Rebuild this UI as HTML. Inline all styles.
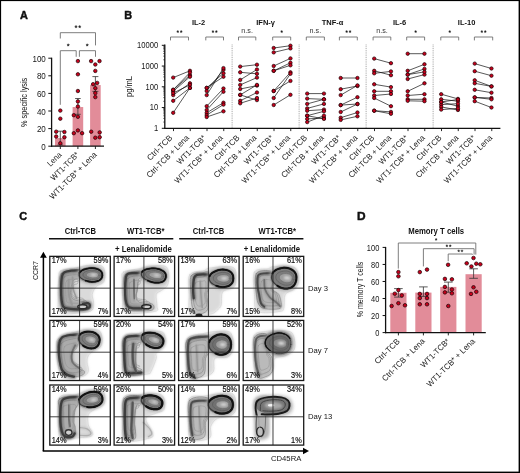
<!DOCTYPE html>
<html><head><meta charset="utf-8"><style>
html,body{margin:0;padding:0;background:#fff;}
body{width:520px;height:473px;overflow:hidden;position:relative;}
svg{position:absolute;left:0;top:0;display:block;font-family:"Liberation Sans", sans-serif;will-change:transform;}
</style></head><body>
<svg width="520" height="473" viewBox="0 0 520 473">
<defs>
<filter id="b1" x="-30%" y="-30%" width="160%" height="160%"><feGaussianBlur stdDeviation="0.6"/></filter>
<filter id="b2" x="-30%" y="-30%" width="160%" height="160%"><feGaussianBlur stdDeviation="1.6"/></filter>
<filter id="zb0" x="-30%" y="-30%" width="160%" height="160%"><feGaussianBlur stdDeviation="3.0"/></filter>
<filter id="zb1" x="-30%" y="-30%" width="160%" height="160%"><feGaussianBlur stdDeviation="6.5"/></filter>
<filter id="zb2" x="-30%" y="-30%" width="160%" height="160%"><feGaussianBlur stdDeviation="12"/></filter>
<filter id="b3" x="-30%" y="-30%" width="160%" height="160%"><feGaussianBlur stdDeviation="1.0"/></filter>
</defs>
<rect x="0" y="0" width="520" height="473" fill="#fff"/>
<text x="20.00" y="19.10" font-size="10.9" text-anchor="start" font-weight="bold" fill="#111" stroke="#111" stroke-width="0.45">A</text>
<rect x="55.00" y="138.02" width="10.6" height="8.18" fill="#e28c99"/>
<rect x="72.60" y="107.04" width="10.6" height="39.16" fill="#e28c99"/>
<rect x="90.10" y="85.04" width="10.6" height="61.16" fill="#e28c99"/>
<line x1="51.60" y1="57.70" x2="51.60" y2="146.80" stroke="#111" stroke-width="1.3" />
<line x1="51.00" y1="146.20" x2="104.00" y2="146.20" stroke="#111" stroke-width="1.3" />
<line x1="48.30" y1="146.20" x2="51.60" y2="146.20" stroke="#111" stroke-width="1.0" />
<text x="45.80" y="149.75" font-size="8.3" text-anchor="end" font-weight="normal" fill="#151515" textLength="4.45" lengthAdjust="spacingAndGlyphs" >0</text>
<line x1="48.30" y1="128.60" x2="51.60" y2="128.60" stroke="#111" stroke-width="1.0" />
<text x="45.80" y="132.15" font-size="8.3" text-anchor="end" font-weight="normal" fill="#151515" textLength="8.9" lengthAdjust="spacingAndGlyphs" >20</text>
<line x1="48.30" y1="111.00" x2="51.60" y2="111.00" stroke="#111" stroke-width="1.0" />
<text x="45.80" y="114.55" font-size="8.3" text-anchor="end" font-weight="normal" fill="#151515" textLength="8.9" lengthAdjust="spacingAndGlyphs" >40</text>
<line x1="48.30" y1="93.40" x2="51.60" y2="93.40" stroke="#111" stroke-width="1.0" />
<text x="45.80" y="96.95" font-size="8.3" text-anchor="end" font-weight="normal" fill="#151515" textLength="8.9" lengthAdjust="spacingAndGlyphs" >60</text>
<line x1="48.30" y1="75.80" x2="51.60" y2="75.80" stroke="#111" stroke-width="1.0" />
<text x="45.80" y="79.35" font-size="8.3" text-anchor="end" font-weight="normal" fill="#151515" textLength="8.9" lengthAdjust="spacingAndGlyphs" >80</text>
<line x1="48.30" y1="58.20" x2="51.60" y2="58.20" stroke="#111" stroke-width="1.0" />
<text x="45.80" y="61.75" font-size="8.3" text-anchor="end" font-weight="normal" fill="#151515" textLength="13.34" lengthAdjust="spacingAndGlyphs" >100</text>
<line x1="60.30" y1="146.20" x2="60.30" y2="149.00" stroke="#111" stroke-width="0.9" />
<line x1="77.90" y1="146.20" x2="77.90" y2="149.00" stroke="#111" stroke-width="0.9" />
<line x1="95.40" y1="146.20" x2="95.40" y2="149.00" stroke="#111" stroke-width="0.9" />
<polyline points="60.30,38.50 60.30,32.70 95.50,32.70 95.50,45.40" fill="none" stroke="#6f6f6f" stroke-width="0.9"/>
<polyline points="60.30,104.80 60.30,50.70 76.20,50.70 76.20,56.80" fill="none" stroke="#6f6f6f" stroke-width="0.9"/>
<polyline points="79.40,56.80 79.40,50.70 95.50,50.70 95.50,56.80" fill="none" stroke="#6f6f6f" stroke-width="0.9"/>
<polygon points="76.00,25.35 76.40,26.15 77.28,26.28 76.64,26.91 76.79,27.79 76.00,27.38 75.21,27.79 75.36,26.91 74.72,26.28 75.60,26.15" fill="#1e1e1e" stroke="#1e1e1e" stroke-width="0.35" stroke-linejoin="round"/>
<polygon points="79.70,25.35 80.10,26.15 80.98,26.28 80.34,26.91 80.49,27.79 79.70,27.38 78.91,27.79 79.06,26.91 78.42,26.28 79.30,26.15" fill="#1e1e1e" stroke="#1e1e1e" stroke-width="0.35" stroke-linejoin="round"/>
<polygon points="68.20,43.65 68.60,44.45 69.48,44.58 68.84,45.21 68.99,46.09 68.20,45.67 67.41,46.09 67.56,45.21 66.92,44.58 67.80,44.45" fill="#1e1e1e" stroke="#1e1e1e" stroke-width="0.35" stroke-linejoin="round"/>
<polygon points="87.20,43.65 87.60,44.45 88.48,44.58 87.84,45.21 87.99,46.09 87.20,45.67 86.41,46.09 86.56,45.21 85.92,44.58 86.80,44.45" fill="#1e1e1e" stroke="#1e1e1e" stroke-width="0.35" stroke-linejoin="round"/>
<line x1="60.30" y1="131.20" x2="60.30" y2="145.00" stroke="#333" stroke-width="0.8" />
<line x1="57.50" y1="131.20" x2="63.10" y2="131.20" stroke="#333" stroke-width="0.8" />
<line x1="57.50" y1="145.00" x2="63.10" y2="145.00" stroke="#333" stroke-width="0.8" />
<line x1="77.90" y1="98.50" x2="77.90" y2="114.30" stroke="#333" stroke-width="0.8" />
<line x1="75.10" y1="98.50" x2="80.70" y2="98.50" stroke="#333" stroke-width="0.8" />
<line x1="75.10" y1="114.30" x2="80.70" y2="114.30" stroke="#333" stroke-width="0.8" />
<line x1="95.40" y1="76.60" x2="95.40" y2="91.40" stroke="#333" stroke-width="0.8" />
<line x1="92.40" y1="76.60" x2="98.40" y2="76.60" stroke="#333" stroke-width="0.8" />
<line x1="92.40" y1="91.40" x2="98.40" y2="91.40" stroke="#333" stroke-width="0.8" />
<circle cx="60.30" cy="110.60" r="1.75" fill="#c8001c" stroke="#1a0003" stroke-width="0.7"/>
<circle cx="60.30" cy="118.70" r="1.75" fill="#c8001c" stroke="#1a0003" stroke-width="0.7"/>
<circle cx="56.20" cy="131.70" r="1.75" fill="#c8001c" stroke="#1a0003" stroke-width="0.7"/>
<circle cx="64.40" cy="132.00" r="1.75" fill="#c8001c" stroke="#1a0003" stroke-width="0.7"/>
<circle cx="56.20" cy="136.50" r="1.75" fill="#c8001c" stroke="#1a0003" stroke-width="0.7"/>
<circle cx="64.40" cy="137.20" r="1.75" fill="#c8001c" stroke="#1a0003" stroke-width="0.7"/>
<circle cx="60.30" cy="143.30" r="1.75" fill="#c8001c" stroke="#1a0003" stroke-width="0.7"/>
<circle cx="77.90" cy="61.10" r="1.75" fill="#c8001c" stroke="#1a0003" stroke-width="0.7"/>
<circle cx="77.90" cy="74.30" r="1.75" fill="#c8001c" stroke="#1a0003" stroke-width="0.7"/>
<circle cx="77.90" cy="91.00" r="1.75" fill="#c8001c" stroke="#1a0003" stroke-width="0.7"/>
<circle cx="77.90" cy="101.40" r="1.75" fill="#c8001c" stroke="#1a0003" stroke-width="0.7"/>
<circle cx="77.90" cy="106.50" r="1.75" fill="#c8001c" stroke="#1a0003" stroke-width="0.7"/>
<circle cx="73.80" cy="115.20" r="1.75" fill="#c8001c" stroke="#1a0003" stroke-width="0.7"/>
<circle cx="77.90" cy="116.80" r="1.75" fill="#c8001c" stroke="#1a0003" stroke-width="0.7"/>
<circle cx="77.90" cy="130.40" r="1.75" fill="#c8001c" stroke="#1a0003" stroke-width="0.7"/>
<circle cx="73.80" cy="133.20" r="1.75" fill="#c8001c" stroke="#1a0003" stroke-width="0.7"/>
<circle cx="82.10" cy="133.20" r="1.75" fill="#c8001c" stroke="#1a0003" stroke-width="0.7"/>
<circle cx="91.10" cy="61.10" r="1.75" fill="#c8001c" stroke="#1a0003" stroke-width="0.7"/>
<circle cx="99.50" cy="61.10" r="1.75" fill="#c8001c" stroke="#1a0003" stroke-width="0.7"/>
<circle cx="95.30" cy="64.50" r="1.75" fill="#c8001c" stroke="#1a0003" stroke-width="0.7"/>
<circle cx="95.30" cy="70.90" r="1.75" fill="#c8001c" stroke="#1a0003" stroke-width="0.7"/>
<circle cx="93.10" cy="84.20" r="1.75" fill="#c8001c" stroke="#1a0003" stroke-width="0.7"/>
<circle cx="97.20" cy="82.90" r="1.75" fill="#c8001c" stroke="#1a0003" stroke-width="0.7"/>
<circle cx="95.30" cy="88.20" r="1.75" fill="#c8001c" stroke="#1a0003" stroke-width="0.7"/>
<circle cx="95.30" cy="93.10" r="1.75" fill="#c8001c" stroke="#1a0003" stroke-width="0.7"/>
<circle cx="95.30" cy="97.10" r="1.75" fill="#c8001c" stroke="#1a0003" stroke-width="0.7"/>
<circle cx="91.20" cy="131.70" r="1.75" fill="#c8001c" stroke="#1a0003" stroke-width="0.7"/>
<circle cx="99.70" cy="132.40" r="1.75" fill="#c8001c" stroke="#1a0003" stroke-width="0.7"/>
<circle cx="95.30" cy="137.70" r="1.75" fill="#c8001c" stroke="#1a0003" stroke-width="0.7"/>
<circle cx="99.70" cy="137.20" r="1.75" fill="#c8001c" stroke="#1a0003" stroke-width="0.7"/>
<text transform="translate(26.70,102.35) rotate(-90)" x="0" y="0" font-size="8.6" text-anchor="middle" font-weight="normal" fill="#151515" textLength="49.2" lengthAdjust="spacingAndGlyphs">% specific lysis</text>
<text transform="translate(62.10,155.20) rotate(-45)" x="0" y="0" font-size="8.2" text-anchor="end" font-weight="normal" fill="#1a1a1a" textLength="16.57" lengthAdjust="spacingAndGlyphs">Lena</text>
<text transform="translate(79.70,155.20) rotate(-45)" x="0" y="0" font-size="8.2" text-anchor="end" font-weight="normal" fill="#1a1a1a" textLength="36.56" lengthAdjust="spacingAndGlyphs">WT1-TCB*</text>
<text transform="translate(97.20,155.20) rotate(-45)" x="0" y="0" font-size="8.2" text-anchor="end" font-weight="normal" fill="#1a1a1a" textLength="62.89" lengthAdjust="spacingAndGlyphs">WT1-TCB* + Lena</text>
<text x="124.20" y="19.10" font-size="10.9" text-anchor="start" font-weight="bold" fill="#111" stroke="#111" stroke-width="0.45">B</text>
<line x1="232.12" y1="44.50" x2="232.12" y2="128.30" stroke="#888" stroke-width="0.8" stroke-dasharray="0.9 0.9"/>
<line x1="299.12" y1="44.50" x2="299.12" y2="128.30" stroke="#888" stroke-width="0.8" stroke-dasharray="0.9 0.9"/>
<line x1="366.12" y1="44.50" x2="366.12" y2="128.30" stroke="#888" stroke-width="0.8" stroke-dasharray="0.9 0.9"/>
<line x1="433.12" y1="44.50" x2="433.12" y2="128.30" stroke="#888" stroke-width="0.8" stroke-dasharray="0.9 0.9"/>
<line x1="164.80" y1="44.50" x2="164.80" y2="128.90" stroke="#111" stroke-width="1.3" />
<line x1="164.20" y1="128.30" x2="500.40" y2="128.30" stroke="#111" stroke-width="1.3" />
<line x1="161.80" y1="128.30" x2="164.80" y2="128.30" stroke="#111" stroke-width="1.0" />
<text x="158.20" y="131.20" font-size="8.3" text-anchor="end" font-weight="normal" fill="#151515" textLength="4.23" lengthAdjust="spacingAndGlyphs" >1</text>
<line x1="163.20" y1="122.05" x2="164.80" y2="122.05" stroke="#111" stroke-width="0.6" />
<line x1="163.20" y1="118.40" x2="164.80" y2="118.40" stroke="#111" stroke-width="0.6" />
<line x1="163.20" y1="115.81" x2="164.80" y2="115.81" stroke="#111" stroke-width="0.6" />
<line x1="163.20" y1="113.80" x2="164.80" y2="113.80" stroke="#111" stroke-width="0.6" />
<line x1="163.20" y1="112.15" x2="164.80" y2="112.15" stroke="#111" stroke-width="0.6" />
<line x1="163.20" y1="110.76" x2="164.80" y2="110.76" stroke="#111" stroke-width="0.6" />
<line x1="163.20" y1="109.56" x2="164.80" y2="109.56" stroke="#111" stroke-width="0.6" />
<line x1="163.20" y1="108.50" x2="164.80" y2="108.50" stroke="#111" stroke-width="0.6" />
<line x1="161.80" y1="107.55" x2="164.80" y2="107.55" stroke="#111" stroke-width="1.0" />
<text x="158.20" y="110.45" font-size="8.3" text-anchor="end" font-weight="normal" fill="#151515" textLength="8.45" lengthAdjust="spacingAndGlyphs" >10</text>
<line x1="163.20" y1="101.30" x2="164.80" y2="101.30" stroke="#111" stroke-width="0.6" />
<line x1="163.20" y1="97.65" x2="164.80" y2="97.65" stroke="#111" stroke-width="0.6" />
<line x1="163.20" y1="95.06" x2="164.80" y2="95.06" stroke="#111" stroke-width="0.6" />
<line x1="163.20" y1="93.05" x2="164.80" y2="93.05" stroke="#111" stroke-width="0.6" />
<line x1="163.20" y1="91.40" x2="164.80" y2="91.40" stroke="#111" stroke-width="0.6" />
<line x1="163.20" y1="90.01" x2="164.80" y2="90.01" stroke="#111" stroke-width="0.6" />
<line x1="163.20" y1="88.81" x2="164.80" y2="88.81" stroke="#111" stroke-width="0.6" />
<line x1="163.20" y1="87.75" x2="164.80" y2="87.75" stroke="#111" stroke-width="0.6" />
<line x1="161.80" y1="86.80" x2="164.80" y2="86.80" stroke="#111" stroke-width="1.0" />
<text x="158.20" y="89.70" font-size="8.3" text-anchor="end" font-weight="normal" fill="#151515" textLength="12.68" lengthAdjust="spacingAndGlyphs" >100</text>
<line x1="163.20" y1="80.55" x2="164.80" y2="80.55" stroke="#111" stroke-width="0.6" />
<line x1="163.20" y1="76.90" x2="164.80" y2="76.90" stroke="#111" stroke-width="0.6" />
<line x1="163.20" y1="74.31" x2="164.80" y2="74.31" stroke="#111" stroke-width="0.6" />
<line x1="163.20" y1="72.30" x2="164.80" y2="72.30" stroke="#111" stroke-width="0.6" />
<line x1="163.20" y1="70.65" x2="164.80" y2="70.65" stroke="#111" stroke-width="0.6" />
<line x1="163.20" y1="69.26" x2="164.80" y2="69.26" stroke="#111" stroke-width="0.6" />
<line x1="163.20" y1="68.06" x2="164.80" y2="68.06" stroke="#111" stroke-width="0.6" />
<line x1="163.20" y1="67.00" x2="164.80" y2="67.00" stroke="#111" stroke-width="0.6" />
<line x1="161.80" y1="66.05" x2="164.80" y2="66.05" stroke="#111" stroke-width="1.0" />
<text x="158.20" y="68.95" font-size="8.3" text-anchor="end" font-weight="normal" fill="#151515" textLength="16.9" lengthAdjust="spacingAndGlyphs" >1000</text>
<line x1="163.20" y1="59.80" x2="164.80" y2="59.80" stroke="#111" stroke-width="0.6" />
<line x1="163.20" y1="56.15" x2="164.80" y2="56.15" stroke="#111" stroke-width="0.6" />
<line x1="163.20" y1="53.56" x2="164.80" y2="53.56" stroke="#111" stroke-width="0.6" />
<line x1="163.20" y1="51.55" x2="164.80" y2="51.55" stroke="#111" stroke-width="0.6" />
<line x1="163.20" y1="49.90" x2="164.80" y2="49.90" stroke="#111" stroke-width="0.6" />
<line x1="163.20" y1="48.51" x2="164.80" y2="48.51" stroke="#111" stroke-width="0.6" />
<line x1="163.20" y1="47.31" x2="164.80" y2="47.31" stroke="#111" stroke-width="0.6" />
<line x1="163.20" y1="46.25" x2="164.80" y2="46.25" stroke="#111" stroke-width="0.6" />
<line x1="161.80" y1="45.30" x2="164.80" y2="45.30" stroke="#111" stroke-width="1.0" />
<text x="158.20" y="48.20" font-size="8.3" text-anchor="end" font-weight="normal" fill="#151515" textLength="21.13" lengthAdjust="spacingAndGlyphs" >10000</text>
<line x1="173.50" y1="128.30" x2="173.50" y2="131.10" stroke="#111" stroke-width="0.9" />
<line x1="190.25" y1="128.30" x2="190.25" y2="131.10" stroke="#111" stroke-width="0.9" />
<line x1="207.00" y1="128.30" x2="207.00" y2="131.10" stroke="#111" stroke-width="0.9" />
<line x1="223.75" y1="128.30" x2="223.75" y2="131.10" stroke="#111" stroke-width="0.9" />
<line x1="240.50" y1="128.30" x2="240.50" y2="131.10" stroke="#111" stroke-width="0.9" />
<line x1="257.25" y1="128.30" x2="257.25" y2="131.10" stroke="#111" stroke-width="0.9" />
<line x1="274.00" y1="128.30" x2="274.00" y2="131.10" stroke="#111" stroke-width="0.9" />
<line x1="290.75" y1="128.30" x2="290.75" y2="131.10" stroke="#111" stroke-width="0.9" />
<line x1="307.50" y1="128.30" x2="307.50" y2="131.10" stroke="#111" stroke-width="0.9" />
<line x1="324.25" y1="128.30" x2="324.25" y2="131.10" stroke="#111" stroke-width="0.9" />
<line x1="341.00" y1="128.30" x2="341.00" y2="131.10" stroke="#111" stroke-width="0.9" />
<line x1="357.75" y1="128.30" x2="357.75" y2="131.10" stroke="#111" stroke-width="0.9" />
<line x1="374.50" y1="128.30" x2="374.50" y2="131.10" stroke="#111" stroke-width="0.9" />
<line x1="391.25" y1="128.30" x2="391.25" y2="131.10" stroke="#111" stroke-width="0.9" />
<line x1="408.00" y1="128.30" x2="408.00" y2="131.10" stroke="#111" stroke-width="0.9" />
<line x1="424.75" y1="128.30" x2="424.75" y2="131.10" stroke="#111" stroke-width="0.9" />
<line x1="441.50" y1="128.30" x2="441.50" y2="131.10" stroke="#111" stroke-width="0.9" />
<line x1="458.25" y1="128.30" x2="458.25" y2="131.10" stroke="#111" stroke-width="0.9" />
<line x1="475.00" y1="128.30" x2="475.00" y2="131.10" stroke="#111" stroke-width="0.9" />
<line x1="491.75" y1="128.30" x2="491.75" y2="131.10" stroke="#111" stroke-width="0.9" />
<text transform="translate(132.30,86.50) rotate(-90)" x="0" y="0" font-size="9.0" text-anchor="middle" font-weight="normal" fill="#151515" textLength="21.0" lengthAdjust="spacingAndGlyphs">pg/mL</text>
<text x="198.62" y="24.70" font-size="7.5" text-anchor="middle" font-weight="bold" fill="#111" >IL-2</text>
<polyline points="170.50,40.40 170.50,37.00 188.50,37.00 188.50,40.40" fill="none" stroke="#6f6f6f" stroke-width="0.9"/>
<polygon points="177.80,30.40 178.15,31.11 178.94,31.23 178.37,31.79 178.51,32.57 177.80,32.20 177.09,32.57 177.23,31.79 176.66,31.23 177.45,31.11" fill="#1e1e1e" stroke="#1e1e1e" stroke-width="0.35" stroke-linejoin="round"/>
<polygon points="181.20,30.40 181.55,31.11 182.34,31.23 181.77,31.79 181.91,32.57 181.20,32.20 180.49,32.57 180.63,31.79 180.06,31.23 180.85,31.11" fill="#1e1e1e" stroke="#1e1e1e" stroke-width="0.35" stroke-linejoin="round"/>
<polyline points="205.80,40.40 205.80,37.00 223.50,37.00 223.50,40.40" fill="none" stroke="#6f6f6f" stroke-width="0.9"/>
<polygon points="212.95,30.40 213.30,31.11 214.09,31.23 213.52,31.79 213.66,32.57 212.95,32.20 212.24,32.57 212.38,31.79 211.81,31.23 212.60,31.11" fill="#1e1e1e" stroke="#1e1e1e" stroke-width="0.35" stroke-linejoin="round"/>
<polygon points="216.35,30.40 216.70,31.11 217.49,31.23 216.92,31.79 217.06,32.57 216.35,32.20 215.64,32.57 215.78,31.79 215.21,31.23 216.00,31.11" fill="#1e1e1e" stroke="#1e1e1e" stroke-width="0.35" stroke-linejoin="round"/>
<text transform="translate(172.80,138.40) rotate(-45)" x="0" y="0" font-size="8.2" text-anchor="end" font-weight="normal" fill="#1a1a1a" textLength="32.0" lengthAdjust="spacingAndGlyphs">Ctrl-TCB</text>
<text transform="translate(189.64,138.40) rotate(-45)" x="0" y="0" font-size="8.2" text-anchor="end" font-weight="normal" fill="#1a1a1a" textLength="56.5" lengthAdjust="spacingAndGlyphs">Ctrl-TCB + Lena</text>
<text transform="translate(206.48,138.40) rotate(-45)" x="0" y="0" font-size="8.2" text-anchor="end" font-weight="normal" fill="#1a1a1a" textLength="37.5" lengthAdjust="spacingAndGlyphs">WT1-TCB*</text>
<text transform="translate(223.32,138.40) rotate(-45)" x="0" y="0" font-size="8.2" text-anchor="end" font-weight="normal" fill="#1a1a1a" textLength="64.5" lengthAdjust="spacingAndGlyphs">WT1-TCB* + Lena</text>
<text x="265.62" y="24.70" font-size="7.5" text-anchor="middle" font-weight="bold" fill="#111" >IFN-γ</text>
<polyline points="238.50,40.40 238.50,37.00 255.80,37.00 255.80,40.40" fill="none" stroke="#6f6f6f" stroke-width="0.9"/>
<text x="247.15" y="33.40" font-size="7.2" text-anchor="middle" font-weight="normal" fill="#333" >n.s.</text>
<polyline points="272.70,40.40 272.70,37.00 290.70,37.00 290.70,40.40" fill="none" stroke="#6f6f6f" stroke-width="0.9"/>
<polygon points="281.70,30.40 282.05,31.11 282.84,31.23 282.27,31.79 282.41,32.57 281.70,32.20 280.99,32.57 281.13,31.79 280.56,31.23 281.35,31.11" fill="#1e1e1e" stroke="#1e1e1e" stroke-width="0.35" stroke-linejoin="round"/>
<text transform="translate(240.16,138.40) rotate(-45)" x="0" y="0" font-size="8.2" text-anchor="end" font-weight="normal" fill="#1a1a1a" textLength="32.0" lengthAdjust="spacingAndGlyphs">Ctrl-TCB</text>
<text transform="translate(257.00,138.40) rotate(-45)" x="0" y="0" font-size="8.2" text-anchor="end" font-weight="normal" fill="#1a1a1a" textLength="56.5" lengthAdjust="spacingAndGlyphs">Ctrl-TCB + Lena</text>
<text transform="translate(273.84,138.40) rotate(-45)" x="0" y="0" font-size="8.2" text-anchor="end" font-weight="normal" fill="#1a1a1a" textLength="37.5" lengthAdjust="spacingAndGlyphs">WT1-TCB*</text>
<text transform="translate(290.68,138.40) rotate(-45)" x="0" y="0" font-size="8.2" text-anchor="end" font-weight="normal" fill="#1a1a1a" textLength="64.5" lengthAdjust="spacingAndGlyphs">WT1-TCB* + Lena</text>
<text x="332.62" y="24.70" font-size="7.5" text-anchor="middle" font-weight="bold" fill="#111" >TNF-α</text>
<polyline points="306.30,40.40 306.30,37.00 324.40,37.00 324.40,40.40" fill="none" stroke="#6f6f6f" stroke-width="0.9"/>
<text x="315.35" y="33.40" font-size="7.2" text-anchor="middle" font-weight="normal" fill="#333" >n.s.</text>
<polyline points="339.40,40.40 339.40,37.00 357.30,37.00 357.30,40.40" fill="none" stroke="#6f6f6f" stroke-width="0.9"/>
<polygon points="346.65,30.40 347.00,31.11 347.79,31.23 347.22,31.79 347.36,32.57 346.65,32.20 345.94,32.57 346.08,31.79 345.51,31.23 346.30,31.11" fill="#1e1e1e" stroke="#1e1e1e" stroke-width="0.35" stroke-linejoin="round"/>
<polygon points="350.05,30.40 350.40,31.11 351.19,31.23 350.62,31.79 350.76,32.57 350.05,32.20 349.34,32.57 349.48,31.79 348.91,31.23 349.70,31.11" fill="#1e1e1e" stroke="#1e1e1e" stroke-width="0.35" stroke-linejoin="round"/>
<text transform="translate(307.52,138.40) rotate(-45)" x="0" y="0" font-size="8.2" text-anchor="end" font-weight="normal" fill="#1a1a1a" textLength="32.0" lengthAdjust="spacingAndGlyphs">Ctrl-TCB</text>
<text transform="translate(324.36,138.40) rotate(-45)" x="0" y="0" font-size="8.2" text-anchor="end" font-weight="normal" fill="#1a1a1a" textLength="56.5" lengthAdjust="spacingAndGlyphs">Ctrl-TCB + Lena</text>
<text transform="translate(341.19,138.40) rotate(-45)" x="0" y="0" font-size="8.2" text-anchor="end" font-weight="normal" fill="#1a1a1a" textLength="37.5" lengthAdjust="spacingAndGlyphs">WT1-TCB*</text>
<text transform="translate(358.03,138.40) rotate(-45)" x="0" y="0" font-size="8.2" text-anchor="end" font-weight="normal" fill="#1a1a1a" textLength="64.5" lengthAdjust="spacingAndGlyphs">WT1-TCB* + Lena</text>
<text x="399.62" y="24.70" font-size="7.5" text-anchor="middle" font-weight="bold" fill="#111" >IL-6</text>
<polyline points="373.10,40.40 373.10,37.00 390.80,37.00 390.80,40.40" fill="none" stroke="#6f6f6f" stroke-width="0.9"/>
<text x="381.95" y="33.40" font-size="7.2" text-anchor="middle" font-weight="normal" fill="#333" >n.s.</text>
<polyline points="406.70,40.40 406.70,37.00 424.60,37.00 424.60,40.40" fill="none" stroke="#6f6f6f" stroke-width="0.9"/>
<polygon points="415.65,30.40 416.00,31.11 416.79,31.23 416.22,31.79 416.36,32.57 415.65,32.20 414.94,32.57 415.08,31.79 414.51,31.23 415.30,31.11" fill="#1e1e1e" stroke="#1e1e1e" stroke-width="0.35" stroke-linejoin="round"/>
<text transform="translate(374.87,138.40) rotate(-45)" x="0" y="0" font-size="8.2" text-anchor="end" font-weight="normal" fill="#1a1a1a" textLength="32.0" lengthAdjust="spacingAndGlyphs">Ctrl-TCB</text>
<text transform="translate(391.71,138.40) rotate(-45)" x="0" y="0" font-size="8.2" text-anchor="end" font-weight="normal" fill="#1a1a1a" textLength="56.5" lengthAdjust="spacingAndGlyphs">Ctrl-TCB + Lena</text>
<text transform="translate(408.55,138.40) rotate(-45)" x="0" y="0" font-size="8.2" text-anchor="end" font-weight="normal" fill="#1a1a1a" textLength="37.5" lengthAdjust="spacingAndGlyphs">WT1-TCB*</text>
<text transform="translate(425.39,138.40) rotate(-45)" x="0" y="0" font-size="8.2" text-anchor="end" font-weight="normal" fill="#1a1a1a" textLength="64.5" lengthAdjust="spacingAndGlyphs">WT1-TCB* + Lena</text>
<text x="466.62" y="24.70" font-size="7.5" text-anchor="middle" font-weight="bold" fill="#111" >IL-10</text>
<polyline points="440.80,40.40 440.80,37.00 458.70,37.00 458.70,40.40" fill="none" stroke="#6f6f6f" stroke-width="0.9"/>
<polygon points="449.75,30.40 450.10,31.11 450.89,31.23 450.32,31.79 450.46,32.57 449.75,32.20 449.04,32.57 449.18,31.79 448.61,31.23 449.40,31.11" fill="#1e1e1e" stroke="#1e1e1e" stroke-width="0.35" stroke-linejoin="round"/>
<polyline points="474.40,40.40 474.40,37.00 492.70,37.00 492.70,40.40" fill="none" stroke="#6f6f6f" stroke-width="0.9"/>
<polygon points="481.85,30.40 482.20,31.11 482.99,31.23 482.42,31.79 482.56,32.57 481.85,32.20 481.14,32.57 481.28,31.79 480.71,31.23 481.50,31.11" fill="#1e1e1e" stroke="#1e1e1e" stroke-width="0.35" stroke-linejoin="round"/>
<polygon points="485.25,30.40 485.60,31.11 486.39,31.23 485.82,31.79 485.96,32.57 485.25,32.20 484.54,32.57 484.68,31.79 484.11,31.23 484.90,31.11" fill="#1e1e1e" stroke="#1e1e1e" stroke-width="0.35" stroke-linejoin="round"/>
<text transform="translate(442.23,138.40) rotate(-45)" x="0" y="0" font-size="8.2" text-anchor="end" font-weight="normal" fill="#1a1a1a" textLength="32.0" lengthAdjust="spacingAndGlyphs">Ctrl-TCB</text>
<text transform="translate(459.07,138.40) rotate(-45)" x="0" y="0" font-size="8.2" text-anchor="end" font-weight="normal" fill="#1a1a1a" textLength="56.5" lengthAdjust="spacingAndGlyphs">Ctrl-TCB + Lena</text>
<text transform="translate(475.91,138.40) rotate(-45)" x="0" y="0" font-size="8.2" text-anchor="end" font-weight="normal" fill="#1a1a1a" textLength="37.5" lengthAdjust="spacingAndGlyphs">WT1-TCB*</text>
<text transform="translate(492.75,138.40) rotate(-45)" x="0" y="0" font-size="8.2" text-anchor="end" font-weight="normal" fill="#1a1a1a" textLength="64.5" lengthAdjust="spacingAndGlyphs">WT1-TCB* + Lena</text>
<line x1="173.20" y1="77.60" x2="189.95" y2="70.80" stroke="#111" stroke-width="0.7" />
<line x1="173.20" y1="89.80" x2="189.95" y2="75.20" stroke="#111" stroke-width="0.7" />
<line x1="173.20" y1="91.30" x2="189.95" y2="76.70" stroke="#111" stroke-width="0.7" />
<line x1="173.20" y1="95.10" x2="189.95" y2="83.30" stroke="#111" stroke-width="0.7" />
<line x1="173.20" y1="93.00" x2="189.95" y2="84.90" stroke="#111" stroke-width="0.7" />
<line x1="173.20" y1="100.80" x2="189.95" y2="87.90" stroke="#111" stroke-width="0.7" />
<line x1="173.20" y1="112.80" x2="189.95" y2="87.90" stroke="#111" stroke-width="0.7" />
<line x1="173.20" y1="89.80" x2="189.95" y2="72.50" stroke="#111" stroke-width="0.7" />
<circle cx="173.20" cy="77.60" r="1.7" fill="#c8001c" stroke="#1a0003" stroke-width="0.7"/>
<circle cx="189.95" cy="70.80" r="1.7" fill="#c8001c" stroke="#1a0003" stroke-width="0.7"/>
<circle cx="173.20" cy="89.80" r="1.7" fill="#c8001c" stroke="#1a0003" stroke-width="0.7"/>
<circle cx="189.95" cy="75.20" r="1.7" fill="#c8001c" stroke="#1a0003" stroke-width="0.7"/>
<circle cx="173.20" cy="91.30" r="1.7" fill="#c8001c" stroke="#1a0003" stroke-width="0.7"/>
<circle cx="189.95" cy="76.70" r="1.7" fill="#c8001c" stroke="#1a0003" stroke-width="0.7"/>
<circle cx="173.20" cy="95.10" r="1.7" fill="#c8001c" stroke="#1a0003" stroke-width="0.7"/>
<circle cx="189.95" cy="83.30" r="1.7" fill="#c8001c" stroke="#1a0003" stroke-width="0.7"/>
<circle cx="173.20" cy="93.00" r="1.7" fill="#c8001c" stroke="#1a0003" stroke-width="0.7"/>
<circle cx="189.95" cy="84.90" r="1.7" fill="#c8001c" stroke="#1a0003" stroke-width="0.7"/>
<circle cx="173.20" cy="100.80" r="1.7" fill="#c8001c" stroke="#1a0003" stroke-width="0.7"/>
<circle cx="189.95" cy="87.90" r="1.7" fill="#c8001c" stroke="#1a0003" stroke-width="0.7"/>
<circle cx="173.20" cy="112.80" r="1.7" fill="#c8001c" stroke="#1a0003" stroke-width="0.7"/>
<circle cx="189.95" cy="87.90" r="1.7" fill="#c8001c" stroke="#1a0003" stroke-width="0.7"/>
<circle cx="173.20" cy="89.80" r="1.7" fill="#c8001c" stroke="#1a0003" stroke-width="0.7"/>
<circle cx="189.95" cy="72.50" r="1.7" fill="#c8001c" stroke="#1a0003" stroke-width="0.7"/>
<line x1="206.70" y1="87.90" x2="223.45" y2="76.70" stroke="#111" stroke-width="0.7" />
<line x1="206.70" y1="91.00" x2="223.45" y2="69.80" stroke="#111" stroke-width="0.7" />
<line x1="206.70" y1="95.10" x2="223.45" y2="68.10" stroke="#111" stroke-width="0.7" />
<line x1="206.70" y1="87.90" x2="223.45" y2="73.30" stroke="#111" stroke-width="0.7" />
<line x1="206.70" y1="106.20" x2="223.45" y2="88.50" stroke="#111" stroke-width="0.7" />
<line x1="206.70" y1="110.00" x2="223.45" y2="91.70" stroke="#111" stroke-width="0.7" />
<line x1="206.70" y1="112.80" x2="223.45" y2="102.70" stroke="#111" stroke-width="0.7" />
<line x1="206.70" y1="115.10" x2="223.45" y2="104.60" stroke="#111" stroke-width="0.7" />
<line x1="206.70" y1="117.00" x2="223.45" y2="111.30" stroke="#111" stroke-width="0.7" />
<circle cx="206.70" cy="87.90" r="1.7" fill="#c8001c" stroke="#1a0003" stroke-width="0.7"/>
<circle cx="223.45" cy="76.70" r="1.7" fill="#c8001c" stroke="#1a0003" stroke-width="0.7"/>
<circle cx="206.70" cy="91.00" r="1.7" fill="#c8001c" stroke="#1a0003" stroke-width="0.7"/>
<circle cx="223.45" cy="69.80" r="1.7" fill="#c8001c" stroke="#1a0003" stroke-width="0.7"/>
<circle cx="206.70" cy="95.10" r="1.7" fill="#c8001c" stroke="#1a0003" stroke-width="0.7"/>
<circle cx="223.45" cy="68.10" r="1.7" fill="#c8001c" stroke="#1a0003" stroke-width="0.7"/>
<circle cx="206.70" cy="87.90" r="1.7" fill="#c8001c" stroke="#1a0003" stroke-width="0.7"/>
<circle cx="223.45" cy="73.30" r="1.7" fill="#c8001c" stroke="#1a0003" stroke-width="0.7"/>
<circle cx="206.70" cy="106.20" r="1.7" fill="#c8001c" stroke="#1a0003" stroke-width="0.7"/>
<circle cx="223.45" cy="88.50" r="1.7" fill="#c8001c" stroke="#1a0003" stroke-width="0.7"/>
<circle cx="206.70" cy="110.00" r="1.7" fill="#c8001c" stroke="#1a0003" stroke-width="0.7"/>
<circle cx="223.45" cy="91.70" r="1.7" fill="#c8001c" stroke="#1a0003" stroke-width="0.7"/>
<circle cx="206.70" cy="112.80" r="1.7" fill="#c8001c" stroke="#1a0003" stroke-width="0.7"/>
<circle cx="223.45" cy="102.70" r="1.7" fill="#c8001c" stroke="#1a0003" stroke-width="0.7"/>
<circle cx="206.70" cy="115.10" r="1.7" fill="#c8001c" stroke="#1a0003" stroke-width="0.7"/>
<circle cx="223.45" cy="104.60" r="1.7" fill="#c8001c" stroke="#1a0003" stroke-width="0.7"/>
<circle cx="206.70" cy="117.00" r="1.7" fill="#c8001c" stroke="#1a0003" stroke-width="0.7"/>
<circle cx="223.45" cy="111.30" r="1.7" fill="#c8001c" stroke="#1a0003" stroke-width="0.7"/>
<line x1="240.20" y1="66.60" x2="256.95" y2="64.70" stroke="#111" stroke-width="0.7" />
<line x1="240.20" y1="72.30" x2="256.95" y2="73.80" stroke="#111" stroke-width="0.7" />
<line x1="240.20" y1="79.90" x2="256.95" y2="69.50" stroke="#111" stroke-width="0.7" />
<line x1="240.20" y1="84.90" x2="256.95" y2="77.60" stroke="#111" stroke-width="0.7" />
<line x1="240.20" y1="89.00" x2="256.95" y2="85.60" stroke="#111" stroke-width="0.7" />
<line x1="240.20" y1="94.90" x2="256.95" y2="84.90" stroke="#111" stroke-width="0.7" />
<line x1="240.20" y1="94.90" x2="256.95" y2="100.10" stroke="#111" stroke-width="0.7" />
<line x1="240.20" y1="100.80" x2="256.95" y2="92.50" stroke="#111" stroke-width="0.7" />
<line x1="240.20" y1="103.30" x2="256.95" y2="98.00" stroke="#111" stroke-width="0.7" />
<circle cx="240.20" cy="66.60" r="1.7" fill="#c8001c" stroke="#1a0003" stroke-width="0.7"/>
<circle cx="256.95" cy="64.70" r="1.7" fill="#c8001c" stroke="#1a0003" stroke-width="0.7"/>
<circle cx="240.20" cy="72.30" r="1.7" fill="#c8001c" stroke="#1a0003" stroke-width="0.7"/>
<circle cx="256.95" cy="73.80" r="1.7" fill="#c8001c" stroke="#1a0003" stroke-width="0.7"/>
<circle cx="240.20" cy="79.90" r="1.7" fill="#c8001c" stroke="#1a0003" stroke-width="0.7"/>
<circle cx="256.95" cy="69.50" r="1.7" fill="#c8001c" stroke="#1a0003" stroke-width="0.7"/>
<circle cx="240.20" cy="84.90" r="1.7" fill="#c8001c" stroke="#1a0003" stroke-width="0.7"/>
<circle cx="256.95" cy="77.60" r="1.7" fill="#c8001c" stroke="#1a0003" stroke-width="0.7"/>
<circle cx="240.20" cy="89.00" r="1.7" fill="#c8001c" stroke="#1a0003" stroke-width="0.7"/>
<circle cx="256.95" cy="85.60" r="1.7" fill="#c8001c" stroke="#1a0003" stroke-width="0.7"/>
<circle cx="240.20" cy="94.90" r="1.7" fill="#c8001c" stroke="#1a0003" stroke-width="0.7"/>
<circle cx="256.95" cy="84.90" r="1.7" fill="#c8001c" stroke="#1a0003" stroke-width="0.7"/>
<circle cx="240.20" cy="94.90" r="1.7" fill="#c8001c" stroke="#1a0003" stroke-width="0.7"/>
<circle cx="256.95" cy="100.10" r="1.7" fill="#c8001c" stroke="#1a0003" stroke-width="0.7"/>
<circle cx="240.20" cy="100.80" r="1.7" fill="#c8001c" stroke="#1a0003" stroke-width="0.7"/>
<circle cx="256.95" cy="92.50" r="1.7" fill="#c8001c" stroke="#1a0003" stroke-width="0.7"/>
<circle cx="240.20" cy="103.30" r="1.7" fill="#c8001c" stroke="#1a0003" stroke-width="0.7"/>
<circle cx="256.95" cy="98.00" r="1.7" fill="#c8001c" stroke="#1a0003" stroke-width="0.7"/>
<line x1="273.70" y1="48.00" x2="290.45" y2="45.70" stroke="#111" stroke-width="0.7" />
<line x1="273.70" y1="52.40" x2="290.45" y2="48.40" stroke="#111" stroke-width="0.7" />
<line x1="273.70" y1="66.00" x2="290.45" y2="58.40" stroke="#111" stroke-width="0.7" />
<line x1="273.70" y1="70.80" x2="290.45" y2="62.80" stroke="#111" stroke-width="0.7" />
<line x1="273.70" y1="70.80" x2="290.45" y2="65.30" stroke="#111" stroke-width="0.7" />
<line x1="273.70" y1="91.00" x2="290.45" y2="72.30" stroke="#111" stroke-width="0.7" />
<line x1="273.70" y1="98.00" x2="290.45" y2="73.80" stroke="#111" stroke-width="0.7" />
<line x1="273.70" y1="105.00" x2="290.45" y2="94.80" stroke="#111" stroke-width="0.7" />
<line x1="273.70" y1="91.00" x2="290.45" y2="80.90" stroke="#111" stroke-width="0.7" />
<circle cx="273.70" cy="48.00" r="1.7" fill="#c8001c" stroke="#1a0003" stroke-width="0.7"/>
<circle cx="290.45" cy="45.70" r="1.7" fill="#c8001c" stroke="#1a0003" stroke-width="0.7"/>
<circle cx="273.70" cy="52.40" r="1.7" fill="#c8001c" stroke="#1a0003" stroke-width="0.7"/>
<circle cx="290.45" cy="48.40" r="1.7" fill="#c8001c" stroke="#1a0003" stroke-width="0.7"/>
<circle cx="273.70" cy="66.00" r="1.7" fill="#c8001c" stroke="#1a0003" stroke-width="0.7"/>
<circle cx="290.45" cy="58.40" r="1.7" fill="#c8001c" stroke="#1a0003" stroke-width="0.7"/>
<circle cx="273.70" cy="70.80" r="1.7" fill="#c8001c" stroke="#1a0003" stroke-width="0.7"/>
<circle cx="290.45" cy="62.80" r="1.7" fill="#c8001c" stroke="#1a0003" stroke-width="0.7"/>
<circle cx="273.70" cy="70.80" r="1.7" fill="#c8001c" stroke="#1a0003" stroke-width="0.7"/>
<circle cx="290.45" cy="65.30" r="1.7" fill="#c8001c" stroke="#1a0003" stroke-width="0.7"/>
<circle cx="273.70" cy="91.00" r="1.7" fill="#c8001c" stroke="#1a0003" stroke-width="0.7"/>
<circle cx="290.45" cy="72.30" r="1.7" fill="#c8001c" stroke="#1a0003" stroke-width="0.7"/>
<circle cx="273.70" cy="98.00" r="1.7" fill="#c8001c" stroke="#1a0003" stroke-width="0.7"/>
<circle cx="290.45" cy="73.80" r="1.7" fill="#c8001c" stroke="#1a0003" stroke-width="0.7"/>
<circle cx="273.70" cy="105.00" r="1.7" fill="#c8001c" stroke="#1a0003" stroke-width="0.7"/>
<circle cx="290.45" cy="94.80" r="1.7" fill="#c8001c" stroke="#1a0003" stroke-width="0.7"/>
<circle cx="273.70" cy="91.00" r="1.7" fill="#c8001c" stroke="#1a0003" stroke-width="0.7"/>
<circle cx="290.45" cy="80.90" r="1.7" fill="#c8001c" stroke="#1a0003" stroke-width="0.7"/>
<line x1="307.20" y1="93.60" x2="323.95" y2="93.60" stroke="#111" stroke-width="0.7" />
<line x1="307.20" y1="98.60" x2="323.95" y2="99.30" stroke="#111" stroke-width="0.7" />
<line x1="307.20" y1="103.90" x2="323.95" y2="99.30" stroke="#111" stroke-width="0.7" />
<line x1="307.20" y1="108.40" x2="323.95" y2="103.90" stroke="#111" stroke-width="0.7" />
<line x1="307.20" y1="110.70" x2="323.95" y2="109.60" stroke="#111" stroke-width="0.7" />
<line x1="307.20" y1="115.70" x2="323.95" y2="111.30" stroke="#111" stroke-width="0.7" />
<line x1="307.20" y1="118.90" x2="323.95" y2="118.00" stroke="#111" stroke-width="0.7" />
<line x1="307.20" y1="122.10" x2="323.95" y2="115.70" stroke="#111" stroke-width="0.7" />
<line x1="307.20" y1="115.70" x2="323.95" y2="118.90" stroke="#111" stroke-width="0.7" />
<circle cx="307.20" cy="93.60" r="1.7" fill="#c8001c" stroke="#1a0003" stroke-width="0.7"/>
<circle cx="323.95" cy="93.60" r="1.7" fill="#c8001c" stroke="#1a0003" stroke-width="0.7"/>
<circle cx="307.20" cy="98.60" r="1.7" fill="#c8001c" stroke="#1a0003" stroke-width="0.7"/>
<circle cx="323.95" cy="99.30" r="1.7" fill="#c8001c" stroke="#1a0003" stroke-width="0.7"/>
<circle cx="307.20" cy="103.90" r="1.7" fill="#c8001c" stroke="#1a0003" stroke-width="0.7"/>
<circle cx="323.95" cy="99.30" r="1.7" fill="#c8001c" stroke="#1a0003" stroke-width="0.7"/>
<circle cx="307.20" cy="108.40" r="1.7" fill="#c8001c" stroke="#1a0003" stroke-width="0.7"/>
<circle cx="323.95" cy="103.90" r="1.7" fill="#c8001c" stroke="#1a0003" stroke-width="0.7"/>
<circle cx="307.20" cy="110.70" r="1.7" fill="#c8001c" stroke="#1a0003" stroke-width="0.7"/>
<circle cx="323.95" cy="109.60" r="1.7" fill="#c8001c" stroke="#1a0003" stroke-width="0.7"/>
<circle cx="307.20" cy="115.70" r="1.7" fill="#c8001c" stroke="#1a0003" stroke-width="0.7"/>
<circle cx="323.95" cy="111.30" r="1.7" fill="#c8001c" stroke="#1a0003" stroke-width="0.7"/>
<circle cx="307.20" cy="118.90" r="1.7" fill="#c8001c" stroke="#1a0003" stroke-width="0.7"/>
<circle cx="323.95" cy="118.00" r="1.7" fill="#c8001c" stroke="#1a0003" stroke-width="0.7"/>
<circle cx="307.20" cy="122.10" r="1.7" fill="#c8001c" stroke="#1a0003" stroke-width="0.7"/>
<circle cx="323.95" cy="115.70" r="1.7" fill="#c8001c" stroke="#1a0003" stroke-width="0.7"/>
<circle cx="307.20" cy="115.70" r="1.7" fill="#c8001c" stroke="#1a0003" stroke-width="0.7"/>
<circle cx="323.95" cy="118.90" r="1.7" fill="#c8001c" stroke="#1a0003" stroke-width="0.7"/>
<line x1="340.70" y1="78.00" x2="357.45" y2="78.00" stroke="#111" stroke-width="0.7" />
<line x1="340.70" y1="89.20" x2="357.45" y2="86.00" stroke="#111" stroke-width="0.7" />
<line x1="340.70" y1="95.10" x2="357.45" y2="85.40" stroke="#111" stroke-width="0.7" />
<line x1="340.70" y1="105.10" x2="357.45" y2="97.20" stroke="#111" stroke-width="0.7" />
<line x1="340.70" y1="105.10" x2="357.45" y2="104.00" stroke="#111" stroke-width="0.7" />
<line x1="340.70" y1="112.00" x2="357.45" y2="104.00" stroke="#111" stroke-width="0.7" />
<line x1="340.70" y1="117.70" x2="357.45" y2="112.50" stroke="#111" stroke-width="0.7" />
<line x1="340.70" y1="119.90" x2="357.45" y2="116.30" stroke="#111" stroke-width="0.7" />
<circle cx="340.70" cy="78.00" r="1.7" fill="#c8001c" stroke="#1a0003" stroke-width="0.7"/>
<circle cx="357.45" cy="78.00" r="1.7" fill="#c8001c" stroke="#1a0003" stroke-width="0.7"/>
<circle cx="340.70" cy="89.20" r="1.7" fill="#c8001c" stroke="#1a0003" stroke-width="0.7"/>
<circle cx="357.45" cy="86.00" r="1.7" fill="#c8001c" stroke="#1a0003" stroke-width="0.7"/>
<circle cx="340.70" cy="95.10" r="1.7" fill="#c8001c" stroke="#1a0003" stroke-width="0.7"/>
<circle cx="357.45" cy="85.40" r="1.7" fill="#c8001c" stroke="#1a0003" stroke-width="0.7"/>
<circle cx="340.70" cy="105.10" r="1.7" fill="#c8001c" stroke="#1a0003" stroke-width="0.7"/>
<circle cx="357.45" cy="97.20" r="1.7" fill="#c8001c" stroke="#1a0003" stroke-width="0.7"/>
<circle cx="340.70" cy="105.10" r="1.7" fill="#c8001c" stroke="#1a0003" stroke-width="0.7"/>
<circle cx="357.45" cy="104.00" r="1.7" fill="#c8001c" stroke="#1a0003" stroke-width="0.7"/>
<circle cx="340.70" cy="112.00" r="1.7" fill="#c8001c" stroke="#1a0003" stroke-width="0.7"/>
<circle cx="357.45" cy="104.00" r="1.7" fill="#c8001c" stroke="#1a0003" stroke-width="0.7"/>
<circle cx="340.70" cy="117.70" r="1.7" fill="#c8001c" stroke="#1a0003" stroke-width="0.7"/>
<circle cx="357.45" cy="112.50" r="1.7" fill="#c8001c" stroke="#1a0003" stroke-width="0.7"/>
<circle cx="340.70" cy="119.90" r="1.7" fill="#c8001c" stroke="#1a0003" stroke-width="0.7"/>
<circle cx="357.45" cy="116.30" r="1.7" fill="#c8001c" stroke="#1a0003" stroke-width="0.7"/>
<line x1="374.20" y1="58.60" x2="390.95" y2="63.20" stroke="#111" stroke-width="0.7" />
<line x1="374.20" y1="70.80" x2="390.95" y2="75.20" stroke="#111" stroke-width="0.7" />
<line x1="374.20" y1="73.30" x2="390.95" y2="71.40" stroke="#111" stroke-width="0.7" />
<line x1="374.20" y1="84.30" x2="390.95" y2="87.10" stroke="#111" stroke-width="0.7" />
<line x1="374.20" y1="91.30" x2="390.95" y2="91.30" stroke="#111" stroke-width="0.7" />
<line x1="374.20" y1="95.50" x2="390.95" y2="94.00" stroke="#111" stroke-width="0.7" />
<line x1="374.20" y1="98.00" x2="390.95" y2="106.20" stroke="#111" stroke-width="0.7" />
<line x1="374.20" y1="110.70" x2="390.95" y2="111.90" stroke="#111" stroke-width="0.7" />
<line x1="374.20" y1="110.70" x2="390.95" y2="113.80" stroke="#111" stroke-width="0.7" />
<circle cx="374.20" cy="58.60" r="1.7" fill="#c8001c" stroke="#1a0003" stroke-width="0.7"/>
<circle cx="390.95" cy="63.20" r="1.7" fill="#c8001c" stroke="#1a0003" stroke-width="0.7"/>
<circle cx="374.20" cy="70.80" r="1.7" fill="#c8001c" stroke="#1a0003" stroke-width="0.7"/>
<circle cx="390.95" cy="75.20" r="1.7" fill="#c8001c" stroke="#1a0003" stroke-width="0.7"/>
<circle cx="374.20" cy="73.30" r="1.7" fill="#c8001c" stroke="#1a0003" stroke-width="0.7"/>
<circle cx="390.95" cy="71.40" r="1.7" fill="#c8001c" stroke="#1a0003" stroke-width="0.7"/>
<circle cx="374.20" cy="84.30" r="1.7" fill="#c8001c" stroke="#1a0003" stroke-width="0.7"/>
<circle cx="390.95" cy="87.10" r="1.7" fill="#c8001c" stroke="#1a0003" stroke-width="0.7"/>
<circle cx="374.20" cy="91.30" r="1.7" fill="#c8001c" stroke="#1a0003" stroke-width="0.7"/>
<circle cx="390.95" cy="91.30" r="1.7" fill="#c8001c" stroke="#1a0003" stroke-width="0.7"/>
<circle cx="374.20" cy="95.50" r="1.7" fill="#c8001c" stroke="#1a0003" stroke-width="0.7"/>
<circle cx="390.95" cy="94.00" r="1.7" fill="#c8001c" stroke="#1a0003" stroke-width="0.7"/>
<circle cx="374.20" cy="98.00" r="1.7" fill="#c8001c" stroke="#1a0003" stroke-width="0.7"/>
<circle cx="390.95" cy="106.20" r="1.7" fill="#c8001c" stroke="#1a0003" stroke-width="0.7"/>
<circle cx="374.20" cy="110.70" r="1.7" fill="#c8001c" stroke="#1a0003" stroke-width="0.7"/>
<circle cx="390.95" cy="111.90" r="1.7" fill="#c8001c" stroke="#1a0003" stroke-width="0.7"/>
<circle cx="374.20" cy="110.70" r="1.7" fill="#c8001c" stroke="#1a0003" stroke-width="0.7"/>
<circle cx="390.95" cy="113.80" r="1.7" fill="#c8001c" stroke="#1a0003" stroke-width="0.7"/>
<line x1="407.70" y1="53.70" x2="424.45" y2="53.70" stroke="#111" stroke-width="0.7" />
<line x1="407.70" y1="70.80" x2="424.45" y2="64.30" stroke="#111" stroke-width="0.7" />
<line x1="407.70" y1="74.60" x2="424.45" y2="68.90" stroke="#111" stroke-width="0.7" />
<line x1="407.70" y1="79.00" x2="424.45" y2="74.60" stroke="#111" stroke-width="0.7" />
<line x1="407.70" y1="74.60" x2="424.45" y2="71.90" stroke="#111" stroke-width="0.7" />
<line x1="407.70" y1="91.30" x2="424.45" y2="83.30" stroke="#111" stroke-width="0.7" />
<line x1="407.70" y1="95.50" x2="424.45" y2="94.20" stroke="#111" stroke-width="0.7" />
<line x1="407.70" y1="99.30" x2="424.45" y2="99.30" stroke="#111" stroke-width="0.7" />
<line x1="407.70" y1="100.80" x2="424.45" y2="101.20" stroke="#111" stroke-width="0.7" />
<circle cx="407.70" cy="53.70" r="1.7" fill="#c8001c" stroke="#1a0003" stroke-width="0.7"/>
<circle cx="424.45" cy="53.70" r="1.7" fill="#c8001c" stroke="#1a0003" stroke-width="0.7"/>
<circle cx="407.70" cy="70.80" r="1.7" fill="#c8001c" stroke="#1a0003" stroke-width="0.7"/>
<circle cx="424.45" cy="64.30" r="1.7" fill="#c8001c" stroke="#1a0003" stroke-width="0.7"/>
<circle cx="407.70" cy="74.60" r="1.7" fill="#c8001c" stroke="#1a0003" stroke-width="0.7"/>
<circle cx="424.45" cy="68.90" r="1.7" fill="#c8001c" stroke="#1a0003" stroke-width="0.7"/>
<circle cx="407.70" cy="79.00" r="1.7" fill="#c8001c" stroke="#1a0003" stroke-width="0.7"/>
<circle cx="424.45" cy="74.60" r="1.7" fill="#c8001c" stroke="#1a0003" stroke-width="0.7"/>
<circle cx="407.70" cy="74.60" r="1.7" fill="#c8001c" stroke="#1a0003" stroke-width="0.7"/>
<circle cx="424.45" cy="71.90" r="1.7" fill="#c8001c" stroke="#1a0003" stroke-width="0.7"/>
<circle cx="407.70" cy="91.30" r="1.7" fill="#c8001c" stroke="#1a0003" stroke-width="0.7"/>
<circle cx="424.45" cy="83.30" r="1.7" fill="#c8001c" stroke="#1a0003" stroke-width="0.7"/>
<circle cx="407.70" cy="95.50" r="1.7" fill="#c8001c" stroke="#1a0003" stroke-width="0.7"/>
<circle cx="424.45" cy="94.20" r="1.7" fill="#c8001c" stroke="#1a0003" stroke-width="0.7"/>
<circle cx="407.70" cy="99.30" r="1.7" fill="#c8001c" stroke="#1a0003" stroke-width="0.7"/>
<circle cx="424.45" cy="99.30" r="1.7" fill="#c8001c" stroke="#1a0003" stroke-width="0.7"/>
<circle cx="407.70" cy="100.80" r="1.7" fill="#c8001c" stroke="#1a0003" stroke-width="0.7"/>
<circle cx="424.45" cy="101.20" r="1.7" fill="#c8001c" stroke="#1a0003" stroke-width="0.7"/>
<line x1="441.20" y1="94.20" x2="457.95" y2="98.90" stroke="#111" stroke-width="0.7" />
<line x1="441.20" y1="99.30" x2="457.95" y2="101.20" stroke="#111" stroke-width="0.7" />
<line x1="441.20" y1="102.00" x2="457.95" y2="106.20" stroke="#111" stroke-width="0.7" />
<line x1="441.20" y1="104.60" x2="457.95" y2="103.70" stroke="#111" stroke-width="0.7" />
<line x1="441.20" y1="106.90" x2="457.95" y2="110.00" stroke="#111" stroke-width="0.7" />
<line x1="441.20" y1="109.60" x2="457.95" y2="108.40" stroke="#111" stroke-width="0.7" />
<line x1="441.20" y1="102.00" x2="457.95" y2="99.50" stroke="#111" stroke-width="0.7" />
<circle cx="441.20" cy="94.20" r="1.7" fill="#c8001c" stroke="#1a0003" stroke-width="0.7"/>
<circle cx="457.95" cy="98.90" r="1.7" fill="#c8001c" stroke="#1a0003" stroke-width="0.7"/>
<circle cx="441.20" cy="99.30" r="1.7" fill="#c8001c" stroke="#1a0003" stroke-width="0.7"/>
<circle cx="457.95" cy="101.20" r="1.7" fill="#c8001c" stroke="#1a0003" stroke-width="0.7"/>
<circle cx="441.20" cy="102.00" r="1.7" fill="#c8001c" stroke="#1a0003" stroke-width="0.7"/>
<circle cx="457.95" cy="106.20" r="1.7" fill="#c8001c" stroke="#1a0003" stroke-width="0.7"/>
<circle cx="441.20" cy="104.60" r="1.7" fill="#c8001c" stroke="#1a0003" stroke-width="0.7"/>
<circle cx="457.95" cy="103.70" r="1.7" fill="#c8001c" stroke="#1a0003" stroke-width="0.7"/>
<circle cx="441.20" cy="106.90" r="1.7" fill="#c8001c" stroke="#1a0003" stroke-width="0.7"/>
<circle cx="457.95" cy="110.00" r="1.7" fill="#c8001c" stroke="#1a0003" stroke-width="0.7"/>
<circle cx="441.20" cy="109.60" r="1.7" fill="#c8001c" stroke="#1a0003" stroke-width="0.7"/>
<circle cx="457.95" cy="108.40" r="1.7" fill="#c8001c" stroke="#1a0003" stroke-width="0.7"/>
<circle cx="441.20" cy="102.00" r="1.7" fill="#c8001c" stroke="#1a0003" stroke-width="0.7"/>
<circle cx="457.95" cy="99.50" r="1.7" fill="#c8001c" stroke="#1a0003" stroke-width="0.7"/>
<line x1="474.70" y1="63.60" x2="491.45" y2="68.50" stroke="#111" stroke-width="0.7" />
<line x1="474.70" y1="71.20" x2="491.45" y2="75.70" stroke="#111" stroke-width="0.7" />
<line x1="474.70" y1="80.30" x2="491.45" y2="86.40" stroke="#111" stroke-width="0.7" />
<line x1="474.70" y1="83.30" x2="491.45" y2="86.40" stroke="#111" stroke-width="0.7" />
<line x1="474.70" y1="89.80" x2="491.45" y2="92.70" stroke="#111" stroke-width="0.7" />
<line x1="474.70" y1="97.40" x2="491.45" y2="98.00" stroke="#111" stroke-width="0.7" />
<line x1="474.70" y1="97.40" x2="491.45" y2="99.30" stroke="#111" stroke-width="0.7" />
<line x1="474.70" y1="101.20" x2="491.45" y2="107.50" stroke="#111" stroke-width="0.7" />
<circle cx="474.70" cy="63.60" r="1.7" fill="#c8001c" stroke="#1a0003" stroke-width="0.7"/>
<circle cx="491.45" cy="68.50" r="1.7" fill="#c8001c" stroke="#1a0003" stroke-width="0.7"/>
<circle cx="474.70" cy="71.20" r="1.7" fill="#c8001c" stroke="#1a0003" stroke-width="0.7"/>
<circle cx="491.45" cy="75.70" r="1.7" fill="#c8001c" stroke="#1a0003" stroke-width="0.7"/>
<circle cx="474.70" cy="80.30" r="1.7" fill="#c8001c" stroke="#1a0003" stroke-width="0.7"/>
<circle cx="491.45" cy="86.40" r="1.7" fill="#c8001c" stroke="#1a0003" stroke-width="0.7"/>
<circle cx="474.70" cy="83.30" r="1.7" fill="#c8001c" stroke="#1a0003" stroke-width="0.7"/>
<circle cx="491.45" cy="86.40" r="1.7" fill="#c8001c" stroke="#1a0003" stroke-width="0.7"/>
<circle cx="474.70" cy="89.80" r="1.7" fill="#c8001c" stroke="#1a0003" stroke-width="0.7"/>
<circle cx="491.45" cy="92.70" r="1.7" fill="#c8001c" stroke="#1a0003" stroke-width="0.7"/>
<circle cx="474.70" cy="97.40" r="1.7" fill="#c8001c" stroke="#1a0003" stroke-width="0.7"/>
<circle cx="491.45" cy="98.00" r="1.7" fill="#c8001c" stroke="#1a0003" stroke-width="0.7"/>
<circle cx="474.70" cy="97.40" r="1.7" fill="#c8001c" stroke="#1a0003" stroke-width="0.7"/>
<circle cx="491.45" cy="99.30" r="1.7" fill="#c8001c" stroke="#1a0003" stroke-width="0.7"/>
<circle cx="474.70" cy="101.20" r="1.7" fill="#c8001c" stroke="#1a0003" stroke-width="0.7"/>
<circle cx="491.45" cy="107.50" r="1.7" fill="#c8001c" stroke="#1a0003" stroke-width="0.7"/>
<text x="19.30" y="220.40" font-size="10.9" text-anchor="start" font-weight="bold" fill="#111" stroke="#111" stroke-width="0.45">C</text>
<text x="80.30" y="233.60" font-size="8.5" text-anchor="middle" font-weight="bold" fill="#111" textLength="31.3" lengthAdjust="spacingAndGlyphs" >Ctrl-TCB</text>
<text x="145.70" y="233.60" font-size="8.5" text-anchor="middle" font-weight="bold" fill="#111" textLength="37.5" lengthAdjust="spacingAndGlyphs" >WT1-TCB*</text>
<text x="208.50" y="233.60" font-size="8.5" text-anchor="middle" font-weight="bold" fill="#111" textLength="31.3" lengthAdjust="spacingAndGlyphs" >Ctrl-TCB</text>
<text x="277.30" y="233.60" font-size="8.5" text-anchor="middle" font-weight="bold" fill="#111" textLength="37.5" lengthAdjust="spacingAndGlyphs" >WT1-TCB*</text>
<line x1="49.00" y1="238.70" x2="173.30" y2="238.70" stroke="#111" stroke-width="1.5" />
<line x1="179.20" y1="238.70" x2="303.40" y2="238.70" stroke="#111" stroke-width="1.5" />
<text x="143.40" y="251.50" font-size="8.5" text-anchor="middle" font-weight="bold" fill="#111" textLength="56.7" lengthAdjust="spacingAndGlyphs" >+ Lenalidomide</text>
<text x="271.90" y="251.50" font-size="8.5" text-anchor="middle" font-weight="bold" fill="#111" textLength="56.4" lengthAdjust="spacingAndGlyphs" >+ Lenalidomide</text>
<g transform="translate(49.80,256.35)">
<clipPath id="cp00"><rect x="0" y="0" width="60.5" height="60.1"/></clipPath>
<g clip-path="url(#cp00)"><g transform="translate(-0.8,-1.35) scale(0.13106)">
<path d="M 90,120 C 110.8,106.7 165.0,106.7 200,100 C 235.0,93.3 265.0,81.7 300,80 C 335.0,78.3 390.0,70.0 410,90 C 430.0,110.0 428.3,175.0 420,200 C 411.7,225.0 375.0,223.3 360,240 C 345.0,256.7 333.3,280.0 330,300 C 326.7,320.0 340.0,340.0 340,360 C 340.0,380.0 345.0,406.7 330,420 C 315.0,433.3 290.0,436.7 250,440 C 210.0,443.3 120.0,458.3 90,440 C 60.0,421.7 72.5,373.3 70,330 C 67.5,286.7 71.7,215.0 75,180 C 78.3,145.0 69.2,133.3 90,120 Z" fill="#dadada" stroke="none" stroke-width="0.0" stroke-linejoin="round" stroke-linecap="round" opacity="1.0" filter="url(#zb2)"/>
<path d="M 90,120 C 110.8,106.7 165.0,106.7 200,100 C 235.0,93.3 265.0,81.7 300,80 C 335.0,78.3 390.0,70.0 410,90 C 430.0,110.0 428.3,175.0 420,200 C 411.7,225.0 375.0,223.3 360,240 C 345.0,256.7 333.3,280.0 330,300 C 326.7,320.0 340.0,340.0 340,360 C 340.0,380.0 345.0,406.7 330,420 C 315.0,433.3 290.0,436.7 250,440 C 210.0,443.3 120.0,458.3 90,440 C 60.0,421.7 72.5,373.3 70,330 C 67.5,286.7 71.7,215.0 75,180 C 78.3,145.0 69.2,133.3 90,120 Z" fill="none" stroke="#c4c4c4" stroke-width="4.6" stroke-linejoin="round" stroke-linecap="round" opacity="0.7" filter="url(#zb0)"/>
<path d="M 95,140 C 114.2,118.0 176.7,120.5 200,118 C 223.3,115.5 229.2,115.5 235,125 C 240.8,134.5 242.5,164.2 235,175 C 227.5,185.8 200.8,179.2 190,190 C 179.2,200.8 174.2,221.7 170,240 C 165.8,258.3 161.7,283.3 165,300 C 168.3,316.7 174.2,330.8 190,340 C 205.8,349.2 240.0,350.0 260,355 C 280.0,360.0 301.7,360.8 310,370 C 318.3,379.2 320.0,400.8 310,410 C 300.0,419.2 281.7,423.3 250,425 C 218.3,426.7 146.3,427.5 120,420 C 93.7,412.5 97.8,408.3 92,380 C 86.2,351.7 84.5,290.0 85,250 C 85.5,210.0 75.8,162.0 95,140 Z" fill="#ababab" stroke="none" stroke-width="0.0" stroke-linejoin="round" stroke-linecap="round" opacity="1.0" filter="url(#zb1)"/>
<path d="M 95.0,140.0 C 114.2,118.0 176.7,120.5 200.0,118.0 C 223.3,115.5 229.2,115.5 235.0,125.0 C 240.8,134.5 242.5,164.2 235.0,175.0 C 227.5,185.8 200.8,179.2 190.0,190.0 C 179.2,200.8 174.2,221.7 170.0,240.0 C 165.8,258.3 161.7,283.3 165.0,300.0 C 168.3,316.7 174.2,330.8 190.0,340.0 C 205.8,349.2 240.0,350.0 260.0,355.0 C 280.0,360.0 301.7,360.8 310.0,370.0 C 318.3,379.2 320.0,400.8 310.0,410.0 C 300.0,419.2 281.7,423.3 250.0,425.0 C 218.3,426.7 146.3,427.5 120.0,420.0 C 93.7,412.5 97.8,408.3 92.0,380.0 C 86.2,351.7 84.5,290.0 85.0,250.0 C 85.5,210.0 75.8,162.0 95.0,140.0 Z" fill="none" stroke="#7a7a7a" stroke-width="5.3" stroke-linejoin="round" stroke-linecap="round" opacity="0.85" filter="url(#zb0)"/>
<path d="M 114.8,168.5 C 130.1,150.9 180.1,152.9 198.8,150.9 C 217.5,148.9 222.1,148.9 226.8,156.5 C 231.5,164.1 232.8,187.8 226.8,196.5 C 220.8,205.2 199.5,199.8 190.8,208.5 C 182.1,217.2 178.1,233.8 174.8,248.5 C 171.5,263.2 168.1,283.2 170.8,296.5 C 173.5,309.8 178.1,321.2 190.8,328.5 C 203.5,335.8 230.8,336.5 246.8,340.5 C 262.8,344.5 280.1,345.2 286.8,352.5 C 293.5,359.8 294.8,377.2 286.8,384.5 C 278.8,391.8 264.1,395.2 238.8,396.5 C 213.5,397.8 155.9,398.5 134.8,392.5 C 113.7,386.5 117.1,383.2 112.4,360.5 C 107.7,337.8 106.4,288.5 106.8,256.5 C 107.2,224.5 99.5,186.1 114.8,168.5 Z" fill="none" stroke="#888" stroke-width="5.3" stroke-linejoin="round" stroke-linecap="round" opacity="0.85" filter="url(#zb0)"/>
<path d="M 134.5,197.0 C 146.0,183.8 183.5,185.3 197.5,183.8 C 211.5,182.3 215.0,182.3 218.5,188.0 C 222.0,193.7 223.0,211.5 218.5,218.0 C 214.0,224.5 198.0,220.5 191.5,227.0 C 185.0,233.5 182.0,246.0 179.5,257.0 C 177.0,268.0 174.5,283.0 176.5,293.0 C 178.5,303.0 182.0,311.5 191.5,317.0 C 201.0,322.5 221.5,323.0 233.5,326.0 C 245.5,329.0 258.5,329.5 263.5,335.0 C 268.5,340.5 269.5,353.5 263.5,359.0 C 257.5,364.5 246.5,367.0 227.5,368.0 C 208.5,369.0 165.3,369.5 149.5,365.0 C 133.7,360.5 136.2,358.0 132.7,341.0 C 129.2,324.0 128.2,287.0 128.5,263.0 C 128.8,239.0 123.0,210.2 134.5,197.0 Z" fill="none" stroke="#959595" stroke-width="5.3" stroke-linejoin="round" stroke-linecap="round" opacity="0.85" filter="url(#zb0)"/>
<path d="M 235,118 C 224.2,118.3 190.0,117.2 170,120 C 150.0,122.8 127.0,126.7 115,135 C 103.0,143.3 101.8,149.2 98,170 C 94.2,190.8 92.3,231.7 92,260 C 91.7,288.3 93.0,317.5 96,340 C 99.0,362.5 101.0,383.3 110,395 C 119.0,406.7 125.0,406.8 150,410 C 175.0,413.2 235.0,414.8 260,414 C 285.0,413.2 291.3,409.8 300,405 C 308.7,400.2 312.0,391.2 312,385 C 312.0,378.8 308.7,370.2 300,368 C 291.3,365.8 266.7,371.3 260,372 " fill="none" stroke="#3c3c3c" stroke-width="34.3" stroke-linejoin="round" stroke-linecap="round" opacity="0.5" filter="url(#zb1)"/>
<path d="M 235,118 C 224.2,118.3 190.0,117.2 170,120 C 150.0,122.8 127.0,126.7 115,135 C 103.0,143.3 101.8,149.2 98,170 C 94.2,190.8 92.3,231.7 92,260 C 91.7,288.3 93.0,317.5 96,340 C 99.0,362.5 101.0,383.3 110,395 C 119.0,406.7 125.0,406.8 150,410 C 175.0,413.2 235.0,414.8 260,414 C 285.0,413.2 291.3,409.8 300,405 C 308.7,400.2 312.0,391.2 312,385 C 312.0,378.8 308.7,370.2 300,368 C 291.3,365.8 266.7,371.3 260,372 " fill="none" stroke="#3c3c3c" stroke-width="17.2" stroke-linejoin="round" stroke-linecap="round" opacity="1.0" filter="url(#zb0)"/>
<path d="M 150,190 C 150.3,208.3 147.8,268.3 152,300 C 156.2,331.7 171.2,366.7 175,380 " fill="none" stroke="#9a9a9a" stroke-width="27.5" stroke-linejoin="round" stroke-linecap="round" opacity="0.5" filter="url(#zb1)"/>
<path d="M 150,190 C 150.3,208.3 147.8,268.3 152,300 C 156.2,331.7 171.2,366.7 175,380 " fill="none" stroke="#9a9a9a" stroke-width="13.7" stroke-linejoin="round" stroke-linecap="round" opacity="1.0" filter="url(#zb0)"/>
<path d="M 180,170 C 180.8,185.0 180.0,233.3 185,260 C 190.0,286.7 205.8,318.3 210,330 " fill="none" stroke="#9a9a9a" stroke-width="22.9" stroke-linejoin="round" stroke-linecap="round" opacity="0.5" filter="url(#zb1)"/>
<path d="M 180,170 C 180.8,185.0 180.0,233.3 185,260 C 190.0,286.7 205.8,318.3 210,330 " fill="none" stroke="#9a9a9a" stroke-width="11.4" stroke-linejoin="round" stroke-linecap="round" opacity="1.0" filter="url(#zb0)"/>
<ellipse cx="255" cy="395" rx="35.1" ry="15.3" transform="rotate(0 255 395)" fill="#cfcfcf" stroke="#2a2a2a" stroke-width="11.4" opacity="1.0" filter="url(#zb0)"/>
<path d="M 424.0,155.7 C 423.8,162.4 422.8,169.9 421.1,175.7 C 419.4,181.5 417.0,186.0 413.9,190.4 C 410.8,194.8 407.1,198.8 402.7,202.3 C 398.3,205.8 393.2,208.9 387.5,211.6 C 381.8,214.2 375.5,216.5 368.6,218.2 C 361.7,219.9 354.7,221.0 345.9,221.7 C 337.1,222.4 325.7,223.0 315.6,222.2 C 305.5,221.4 294.1,218.8 285.4,216.7 C 276.6,214.6 269.9,212.3 263.1,209.7 C 256.3,207.1 250.2,204.1 244.7,200.9 C 239.2,197.7 234.3,194.2 230.2,190.5 C 226.0,186.8 222.6,183.0 219.8,178.8 C 217.0,174.6 214.9,170.6 213.6,165.5 C 212.3,160.4 211.8,154.0 212.0,148.3 C 212.2,142.6 213.2,136.3 214.8,131.3 C 216.5,126.3 218.9,122.4 221.9,118.4 C 224.9,114.4 228.7,110.8 233.1,107.4 C 237.5,104.0 242.6,100.9 248.3,98.1 C 254.0,95.3 260.2,92.8 267.2,90.7 C 274.1,88.6 281.1,86.7 290.0,85.2 C 298.9,83.7 310.3,81.9 320.4,81.8 C 330.5,81.7 341.9,83.1 350.7,84.4 C 359.5,85.7 366.3,87.3 373.1,89.5 C 379.9,91.7 386.0,94.4 391.5,97.4 C 397.0,100.4 401.9,103.9 406.0,107.7 C 410.1,111.5 413.6,115.8 416.4,120.4 C 419.1,125.1 421.2,129.7 422.5,135.6 C 423.8,141.5 424.2,149.0 424.0,155.7 Z" fill="#acacac" stroke="none" stroke-width="0.0" stroke-linejoin="round" stroke-linecap="round" opacity="0.9" filter="url(#zb2)"/>
<path d="M 414.1,155.4 C 413.9,161.1 413.0,167.6 411.5,172.5 C 410.0,177.4 407.8,181.3 405.0,185.1 C 402.2,188.9 398.8,192.4 394.8,195.4 C 390.8,198.4 386.2,201.1 381.1,203.3 C 376.0,205.6 370.3,207.5 364.0,208.9 C 357.7,210.3 351.4,211.4 343.4,211.9 C 335.4,212.4 325.0,213.1 315.9,212.2 C 306.8,211.3 296.5,208.6 288.6,206.6 C 280.7,204.6 274.5,202.4 268.4,200.0 C 262.2,197.6 256.7,195.0 251.7,192.2 C 246.7,189.4 242.3,186.4 238.5,183.3 C 234.7,180.2 231.6,176.9 229.1,173.5 C 226.6,170.1 224.6,166.8 223.4,162.6 C 222.2,158.4 221.7,153.2 221.9,148.6 C 222.1,144.0 222.9,138.9 224.4,134.9 C 225.9,130.9 228.1,127.7 230.8,124.4 C 233.6,121.1 236.9,118.2 240.9,115.3 C 244.9,112.4 249.5,109.8 254.7,107.3 C 259.8,104.8 265.5,102.6 271.8,100.6 C 278.1,98.6 284.4,96.9 292.5,95.4 C 300.6,93.9 310.9,92.0 320.1,91.8 C 329.3,91.6 339.6,92.9 347.5,94.0 C 355.4,95.1 361.6,96.5 367.8,98.4 C 374.0,100.3 379.5,102.6 384.5,105.2 C 389.5,107.8 393.9,110.8 397.7,114.1 C 401.5,117.4 404.6,121.0 407.1,125.0 C 409.6,129.0 411.5,133.0 412.7,138.1 C 413.9,143.2 414.3,149.7 414.1,155.4 Z" fill="none" stroke="#7a7a7a" stroke-width="5.3" stroke-linejoin="round" stroke-linecap="round" opacity="0.8" filter="url(#zb0)"/>
<path d="M 406.5,155.1 C 406.3,160.1 405.5,165.8 404.1,170.1 C 402.7,174.4 400.8,177.8 398.2,181.1 C 395.6,184.4 392.5,187.4 388.8,190.0 C 385.1,192.6 380.9,194.9 376.2,196.9 C 371.5,198.9 366.2,200.6 360.4,201.8 C 354.6,203.1 348.9,203.9 341.5,204.4 C 334.1,204.9 324.6,205.5 316.2,204.6 C 307.8,203.7 298.3,200.9 291.0,198.9 C 283.7,196.9 278.0,194.9 272.4,192.7 C 266.8,190.5 261.7,188.0 257.1,185.5 C 252.5,183.0 248.5,180.4 245.0,177.7 C 241.5,175.0 238.5,172.3 236.2,169.4 C 233.9,166.5 232.1,163.7 231.0,160.3 C 229.9,156.9 229.4,152.7 229.5,148.9 C 229.6,145.1 230.5,140.9 231.8,137.6 C 233.2,134.3 235.1,131.6 237.6,128.9 C 240.1,126.2 243.2,123.6 246.9,121.2 C 250.6,118.8 254.9,116.5 259.6,114.3 C 264.4,112.1 269.6,110.0 275.4,108.2 C 281.2,106.4 287.0,104.8 294.4,103.3 C 301.8,101.8 311.4,99.7 319.8,99.4 C 328.2,99.1 337.8,100.4 345.1,101.4 C 352.4,102.4 358.1,103.7 363.8,105.3 C 369.5,106.9 374.6,108.9 379.2,111.2 C 383.8,113.5 387.8,116.1 391.3,119.0 C 394.8,121.9 397.7,125.1 400.0,128.6 C 402.3,132.1 404.0,135.6 405.1,140.0 C 406.2,144.4 406.7,150.1 406.5,155.1 Z" fill="#7c7c7c" stroke="#3a3a3a" stroke-width="8.5" stroke-linejoin="round" stroke-linecap="round" opacity="1.0" filter="url(#zb0)"/>
<path d="M 232.5,136.1 C 233.4,134.8 235.8,130.9 238.1,128.5 C 240.4,126.1 243.2,123.8 246.4,121.6 C 249.6,119.4 253.2,117.3 257.3,115.3 C 261.4,113.3 265.9,111.5 270.8,109.8 C 275.7,108.1 281.0,106.4 286.8,105.0 C 292.6,103.6 298.3,102.0 305.8,101.2 C 313.3,100.4 324.3,99.8 331.8,100.0 C 339.3,100.2 345.1,101.2 351.0,102.3 C 356.9,103.3 362.0,104.7 366.9,106.3 C 371.8,107.9 376.2,109.7 380.2,111.8 C 384.2,113.9 387.9,116.2 391.0,118.8 C 394.1,121.4 396.8,124.2 399.0,127.2 C 401.2,130.2 403.0,133.4 404.2,137.0 C 405.4,140.6 406.2,144.2 406.4,148.7 C 406.6,153.2 406.3,159.6 405.6,164.0 C 404.9,168.4 403.7,171.7 402.0,175.0 C 400.3,178.3 398.2,181.3 395.6,184.1 C 393.0,186.9 389.9,189.4 386.4,191.6 C 382.9,193.8 379.0,195.8 374.7,197.5 C 370.4,199.2 365.7,200.6 360.6,201.7 C 355.5,202.8 350.1,203.7 343.9,204.2 C 337.7,204.7 331.2,205.4 323.6,204.8 C 316.0,204.2 305.4,202.3 298.2,200.8 C 291.0,199.3 283.3,196.5 280.3,195.6 " fill="none" stroke="#0c0c0c" stroke-width="12.8" stroke-linejoin="round" stroke-linecap="round" opacity="1.0" filter="url(#zb0)"/>
<path d="M 240.3,126.3 C 241.7,125.3 245.4,122.2 248.4,120.3 C 251.4,118.4 254.8,116.5 258.5,114.8 C 262.2,113.1 266.2,111.4 270.6,109.9 C 275.0,108.4 279.6,106.9 284.6,105.6 C 289.7,104.3 294.4,103.0 300.9,102.0 C 307.4,101.0 316.5,99.7 323.5,99.5 C 330.5,99.3 337.0,100.4 342.8,101.1 C 348.6,101.8 353.5,102.7 358.3,103.8 C 363.1,104.9 367.5,106.3 371.6,107.9 C 375.7,109.5 379.4,111.2 382.8,113.2 C 386.2,115.2 389.3,117.3 392.0,119.6 C 394.7,121.9 397.0,124.5 399.0,127.2 C 401.0,129.9 402.6,132.7 403.8,135.8 C 405.0,138.9 405.8,141.9 406.2,145.9 C 406.6,149.9 406.6,155.6 406.2,159.7 C 405.8,163.8 405.0,167.2 403.9,170.5 C 402.8,173.8 401.3,176.7 399.4,179.4 C 397.5,182.1 395.3,184.6 392.7,186.9 C 390.1,189.2 387.2,191.3 383.9,193.2 C 380.6,195.1 377.0,196.8 373.1,198.2 C 369.2,199.6 364.9,200.8 360.3,201.8 C 355.7,202.8 350.9,203.6 345.5,204.1 C 340.1,204.6 334.9,205.2 328.1,204.9 C 321.3,204.6 308.6,202.7 304.7,202.3 " fill="none" stroke="#141414" stroke-width="7.3" stroke-linejoin="round" stroke-linecap="round" opacity="1.0"/>
<path d="M 390.5,154.3 C 390.4,157.7 389.8,161.6 388.8,164.5 C 387.8,167.4 386.4,169.7 384.5,171.9 C 382.6,174.2 380.3,176.2 377.6,178.0 C 374.9,179.8 371.7,181.4 368.2,182.7 C 364.7,184.0 360.9,185.1 356.6,185.9 C 352.3,186.7 348.1,187.4 342.6,187.7 C 337.1,188.0 330.0,188.4 323.8,187.8 C 317.6,187.2 310.6,185.3 305.2,183.9 C 299.8,182.5 295.6,181.1 291.4,179.6 C 287.2,178.1 283.5,176.4 280.1,174.7 C 276.7,173.0 273.7,171.2 271.1,169.4 C 268.5,167.6 266.3,165.7 264.6,163.7 C 262.9,161.7 261.5,159.8 260.7,157.5 C 259.9,155.2 259.5,152.3 259.6,149.7 C 259.7,147.1 260.3,144.2 261.3,142.0 C 262.3,139.8 263.8,138.0 265.6,136.2 C 267.5,134.3 269.7,132.6 272.4,130.9 C 275.1,129.2 278.3,127.7 281.8,126.2 C 285.3,124.7 289.1,123.3 293.4,122.1 C 297.7,120.9 302.0,119.8 307.5,118.8 C 313.0,117.8 320.1,116.4 326.3,116.2 C 332.6,116.0 339.6,116.9 345.0,117.6 C 350.4,118.3 354.7,119.2 358.9,120.3 C 363.1,121.4 366.9,122.8 370.3,124.4 C 373.7,126.0 376.6,127.7 379.2,129.7 C 381.8,131.7 384.0,133.9 385.7,136.3 C 387.4,138.7 388.7,141.0 389.5,144.0 C 390.3,147.0 390.6,150.9 390.5,154.3 Z" fill="none" stroke="#555" stroke-width="4.6" stroke-linejoin="round" stroke-linecap="round" opacity="0.9" filter="url(#zb0)"/>
<path d="M 377.3,153.6 C 377.2,155.8 376.8,158.3 376.1,160.2 C 375.4,162.1 374.3,163.6 373.0,165.0 C 371.7,166.4 370.1,167.8 368.2,168.9 C 366.3,170.1 364.1,171.1 361.6,171.9 C 359.2,172.8 356.5,173.5 353.5,174.0 C 350.5,174.5 347.4,174.9 343.6,175.1 C 339.8,175.3 334.9,175.6 330.5,175.2 C 326.1,174.8 321.2,173.5 317.4,172.6 C 313.6,171.7 310.6,170.8 307.7,169.8 C 304.8,168.8 302.1,167.7 299.7,166.6 C 297.3,165.5 295.2,164.3 293.4,163.1 C 291.6,161.9 290.0,160.7 288.8,159.4 C 287.6,158.1 286.7,156.9 286.1,155.4 C 285.5,153.9 285.2,152.1 285.3,150.4 C 285.4,148.7 285.7,146.9 286.4,145.4 C 287.1,143.9 288.1,142.8 289.4,141.6 C 290.7,140.4 292.3,139.4 294.2,138.3 C 296.1,137.2 298.3,136.1 300.8,135.2 C 303.3,134.2 306.0,133.4 309.0,132.6 C 312.0,131.8 315.0,131.1 318.9,130.5 C 322.8,129.9 327.7,128.9 332.1,128.8 C 336.5,128.7 341.4,129.3 345.2,129.8 C 349.0,130.3 352.0,130.9 355.0,131.6 C 358.0,132.3 360.6,133.2 363.0,134.2 C 365.4,135.2 367.5,136.4 369.3,137.7 C 371.1,139.0 372.6,140.3 373.8,141.9 C 375.0,143.5 375.9,145.1 376.5,147.0 C 377.1,148.9 377.4,151.4 377.3,153.6 Z" fill="#a2a2a2" stroke="#666" stroke-width="3.8" stroke-linejoin="round" stroke-linecap="round" opacity="0.9" filter="url(#zb0)"/>
<ellipse cx="340.127" cy="152" rx="23.0" ry="8.4" transform="rotate(2 340.127 152)" fill="#dedede" stroke="none" stroke-width="0.0" opacity="0.95" filter="url(#zb1)"/>
</g></g>
<line x1="29.80" y1="0.00" x2="29.80" y2="60.10" stroke="#2a2a2a" stroke-width="0.9" />
<line x1="0.00" y1="31.80" x2="60.50" y2="31.80" stroke="#2a2a2a" stroke-width="0.9" />
<rect x="0" y="0" width="60.5" height="60.1" fill="none" stroke="#1a1a1a" stroke-width="1.3"/>
<text x="1.90" y="6.70" font-size="8.2" text-anchor="start" font-weight="normal" fill="#111" textLength="14.81" lengthAdjust="spacingAndGlyphs" stroke="#111" stroke-width="0.18">17%</text>
<text x="58.60" y="6.70" font-size="8.2" text-anchor="end" font-weight="normal" fill="#111" textLength="14.81" lengthAdjust="spacingAndGlyphs" stroke="#111" stroke-width="0.18">59%</text>
<text x="1.90" y="57.70" font-size="8.2" text-anchor="start" font-weight="normal" fill="#111" textLength="14.81" lengthAdjust="spacingAndGlyphs" stroke="#111" stroke-width="0.18">17%</text>
<text x="58.60" y="57.70" font-size="8.2" text-anchor="end" font-weight="normal" fill="#111" textLength="10.69" lengthAdjust="spacingAndGlyphs" stroke="#111" stroke-width="0.18">7%</text>
</g>
<g transform="translate(114.10,256.35)">
<clipPath id="cp01"><rect x="0" y="0" width="60.5" height="60.1"/></clipPath>
<g clip-path="url(#cp01)"><g transform="translate(-1.1,-1.35) scale(0.13106)">
<path d="M 80,130 C 101.7,115.8 163.3,112.5 200,105 C 236.7,97.5 265.0,86.7 300,85 C 335.0,83.3 390.0,72.5 410,95 C 430.0,117.5 426.7,190.8 420,220 C 413.3,249.2 385.0,256.7 370,270 C 355.0,283.3 335.8,280.0 330,300 C 324.2,320.0 336.7,368.3 335,390 C 333.3,411.7 359.2,421.7 320,430 C 280.8,438.3 140.8,456.7 100,440 C 59.2,423.3 80.0,371.7 75,330 C 70.0,288.3 69.2,223.3 70,190 C 70.8,156.7 58.3,144.2 80,130 Z" fill="#dadada" stroke="none" stroke-width="0.0" stroke-linejoin="round" stroke-linecap="round" opacity="1.0" filter="url(#zb2)"/>
<path d="M 80,130 C 101.7,115.8 163.3,112.5 200,105 C 236.7,97.5 265.0,86.7 300,85 C 335.0,83.3 390.0,72.5 410,95 C 430.0,117.5 426.7,190.8 420,220 C 413.3,249.2 385.0,256.7 370,270 C 355.0,283.3 335.8,280.0 330,300 C 324.2,320.0 336.7,368.3 335,390 C 333.3,411.7 359.2,421.7 320,430 C 280.8,438.3 140.8,456.7 100,440 C 59.2,423.3 80.0,371.7 75,330 C 70.0,288.3 69.2,223.3 70,190 C 70.8,156.7 58.3,144.2 80,130 Z" fill="none" stroke="#c4c4c4" stroke-width="4.6" stroke-linejoin="round" stroke-linecap="round" opacity="0.7" filter="url(#zb0)"/>
<path d="M 95,150 C 115.3,127.5 189.2,121.7 210,125 C 230.8,128.3 222.5,160.0 220,170 C 217.5,180.0 200.8,170.0 195,185 C 189.2,200.0 188.3,237.5 185,260 C 181.7,282.5 172.5,303.3 175,320 C 177.5,336.7 179.2,350.8 200,360 C 220.8,369.2 283.3,365.0 300,375 C 316.7,385.0 316.7,411.7 300,420 C 283.3,428.3 230.0,425.0 200,425 C 170.0,425.0 137.5,427.5 120,420 C 102.5,412.5 100.3,406.7 95,380 C 89.7,353.3 88.0,298.3 88,260 C 88.0,221.7 74.7,172.5 95,150 Z" fill="#ababab" stroke="none" stroke-width="0.0" stroke-linejoin="round" stroke-linecap="round" opacity="1.0" filter="url(#zb1)"/>
<path d="M 95.0,150.0 C 115.3,127.5 189.2,121.7 210.0,125.0 C 230.8,128.3 222.5,160.0 220.0,170.0 C 217.5,180.0 200.8,170.0 195.0,185.0 C 189.2,200.0 188.3,237.5 185.0,260.0 C 181.7,282.5 172.5,303.3 175.0,320.0 C 177.5,336.7 179.2,350.8 200.0,360.0 C 220.8,369.2 283.3,365.0 300.0,375.0 C 316.7,385.0 316.7,411.7 300.0,420.0 C 283.3,428.3 230.0,425.0 200.0,425.0 C 170.0,425.0 137.5,427.5 120.0,420.0 C 102.5,412.5 100.3,406.7 95.0,380.0 C 89.7,353.3 88.0,298.3 88.0,260.0 C 88.0,221.7 74.7,172.5 95.0,150.0 Z" fill="none" stroke="#7a7a7a" stroke-width="5.3" stroke-linejoin="round" stroke-linecap="round" opacity="0.85" filter="url(#zb0)"/>
<path d="M 112.7,179.2 C 129.0,161.2 188.0,156.5 204.7,159.2 C 221.4,161.9 214.7,187.2 212.7,195.2 C 210.7,203.2 197.4,195.2 192.7,207.2 C 188.0,219.2 187.4,249.2 184.7,267.2 C 182.0,285.2 174.7,301.9 176.7,315.2 C 178.7,328.5 180.0,339.9 196.7,347.2 C 213.4,354.5 263.4,351.2 276.7,359.2 C 290.0,367.2 290.0,388.5 276.7,395.2 C 263.4,401.9 220.7,399.2 196.7,399.2 C 172.7,399.2 146.7,401.2 132.7,395.2 C 118.7,389.2 117.0,384.5 112.7,363.2 C 108.4,341.9 107.1,297.9 107.1,267.2 C 107.1,236.5 96.4,197.2 112.7,179.2 Z" fill="none" stroke="#888" stroke-width="5.3" stroke-linejoin="round" stroke-linecap="round" opacity="0.85" filter="url(#zb0)"/>
<path d="M 130.3,208.5 C 142.5,195.0 186.8,191.5 199.3,193.5 C 211.8,195.5 206.8,214.5 205.3,220.5 C 203.8,226.5 193.8,220.5 190.3,229.5 C 186.8,238.5 186.3,261.0 184.3,274.5 C 182.3,288.0 176.8,300.5 178.3,310.5 C 179.8,320.5 180.8,329.0 193.3,334.5 C 205.8,340.0 243.3,337.5 253.3,343.5 C 263.3,349.5 263.3,365.5 253.3,370.5 C 243.3,375.5 211.3,373.5 193.3,373.5 C 175.3,373.5 155.8,375.0 145.3,370.5 C 134.8,366.0 133.5,362.5 130.3,346.5 C 127.1,330.5 126.1,297.5 126.1,274.5 C 126.1,251.5 118.1,222.0 130.3,208.5 Z" fill="none" stroke="#959595" stroke-width="5.3" stroke-linejoin="round" stroke-linecap="round" opacity="0.85" filter="url(#zb0)"/>
<path d="M 215,135 C 206.7,135.5 182.2,136.3 165,138 C 147.8,139.7 123.2,138.8 112,145 C 100.8,151.2 101.3,155.8 98,175 C 94.7,194.2 92.3,232.5 92,260 C 91.7,287.5 92.7,318.3 96,340 C 99.3,361.7 103.8,379.2 112,390 C 120.2,400.8 127.0,402.0 145,405 C 163.0,408.0 207.5,407.5 220,408 " fill="none" stroke="#3c3c3c" stroke-width="34.3" stroke-linejoin="round" stroke-linecap="round" opacity="0.5" filter="url(#zb1)"/>
<path d="M 215,135 C 206.7,135.5 182.2,136.3 165,138 C 147.8,139.7 123.2,138.8 112,145 C 100.8,151.2 101.3,155.8 98,175 C 94.7,194.2 92.3,232.5 92,260 C 91.7,287.5 92.7,318.3 96,340 C 99.3,361.7 103.8,379.2 112,390 C 120.2,400.8 127.0,402.0 145,405 C 163.0,408.0 207.5,407.5 220,408 " fill="none" stroke="#3c3c3c" stroke-width="17.2" stroke-linejoin="round" stroke-linecap="round" opacity="1.0" filter="url(#zb0)"/>
<path d="M 160,190 C 160.0,201.7 159.2,236.7 160,260 C 160.8,283.3 164.2,318.3 165,330 " fill="none" stroke="#707070" stroke-width="29.8" stroke-linejoin="round" stroke-linecap="round" opacity="0.5" filter="url(#zb1)"/>
<path d="M 160,190 C 160.0,201.7 159.2,236.7 160,260 C 160.8,283.3 164.2,318.3 165,330 " fill="none" stroke="#707070" stroke-width="14.9" stroke-linejoin="round" stroke-linecap="round" opacity="1.0" filter="url(#zb0)"/>
<path d="M 185,160 C 185.0,168.3 185.0,201.7 185,210 " fill="none" stroke="#707070" stroke-width="27.5" stroke-linejoin="round" stroke-linecap="round" opacity="0.5" filter="url(#zb1)"/>
<path d="M 185,160 C 185.0,168.3 185.0,201.7 185,210 " fill="none" stroke="#707070" stroke-width="13.7" stroke-linejoin="round" stroke-linecap="round" opacity="1.0" filter="url(#zb0)"/>
<ellipse cx="255" cy="395" rx="35.1" ry="15.3" transform="rotate(0 255 395)" fill="#cfcfcf" stroke="#222" stroke-width="12.2" opacity="1.0" filter="url(#zb0)"/>
<path d="M 420.3,170.5 C 419.4,177.3 417.6,184.8 415.2,190.5 C 412.8,196.2 409.9,200.4 406.2,204.6 C 402.5,208.8 398.1,212.4 393.1,215.5 C 388.1,218.6 382.5,221.2 376.3,223.3 C 370.1,225.4 363.3,226.9 355.9,227.8 C 348.5,228.8 341.1,229.3 331.8,229.0 C 322.5,228.7 310.4,228.0 300.0,226.0 C 289.6,224.0 278.0,220.2 269.1,217.1 C 260.2,214.0 253.3,210.9 246.5,207.5 C 239.7,204.1 233.7,200.3 228.3,196.5 C 222.9,192.7 218.1,188.6 214.2,184.4 C 210.2,180.2 207.0,175.9 204.6,171.3 C 202.2,166.8 200.4,162.4 199.6,157.1 C 198.8,151.8 198.9,145.3 199.7,139.5 C 200.5,133.7 202.2,127.4 204.4,122.5 C 206.7,117.6 209.6,113.9 213.2,110.2 C 216.8,106.5 221.1,103.2 226.1,100.3 C 231.1,97.3 236.7,94.7 242.9,92.5 C 249.1,90.3 256.0,88.4 263.5,87.0 C 271.0,85.6 278.4,84.5 287.8,84.0 C 297.2,83.5 309.4,83.0 320.0,84.0 C 330.6,85.0 342.3,87.6 351.3,89.9 C 360.3,92.2 367.3,94.6 374.2,97.6 C 381.1,100.5 387.1,103.9 392.5,107.6 C 397.9,111.3 402.7,115.3 406.6,119.7 C 410.5,124.1 413.7,128.8 416.1,133.8 C 418.5,138.8 420.2,143.8 420.9,149.9 C 421.6,156.0 421.2,163.7 420.3,170.5 Z" fill="#acacac" stroke="none" stroke-width="0.0" stroke-linejoin="round" stroke-linecap="round" opacity="0.9" filter="url(#zb2)"/>
<path d="M 410.5,169.1 C 409.7,174.9 408.0,181.4 405.9,186.3 C 403.8,191.2 401.1,194.9 397.8,198.5 C 394.5,202.1 390.6,205.2 386.1,207.8 C 381.6,210.5 376.5,212.7 370.8,214.4 C 365.1,216.1 358.9,217.4 352.2,218.2 C 345.4,219.0 338.8,219.3 330.3,219.0 C 321.8,218.7 310.9,218.1 301.4,216.2 C 291.9,214.3 281.4,210.4 273.3,207.5 C 265.2,204.6 259.0,201.7 252.8,198.5 C 246.6,195.3 241.1,192.0 236.2,188.6 C 231.3,185.2 226.9,181.7 223.3,178.1 C 219.7,174.5 216.7,170.8 214.4,167.0 C 212.1,163.2 210.4,159.5 209.6,155.2 C 208.8,150.8 208.8,145.6 209.5,140.9 C 210.2,136.2 211.6,131.1 213.6,127.1 C 215.6,123.1 218.2,120.1 221.4,117.1 C 224.6,114.1 228.5,111.4 233.0,108.9 C 237.5,106.4 242.6,104.2 248.3,102.3 C 254.0,100.4 260.2,98.7 267.0,97.4 C 273.8,96.1 280.6,95.1 289.2,94.5 C 297.8,93.9 309.0,93.0 318.6,93.8 C 328.2,94.6 338.9,97.1 347.1,99.1 C 355.3,101.1 361.7,103.3 368.0,105.9 C 374.3,108.5 379.9,111.5 384.8,114.7 C 389.8,117.9 394.1,121.4 397.7,125.2 C 401.3,129.0 404.2,133.1 406.4,137.4 C 408.6,141.8 410.1,146.0 410.8,151.3 C 411.5,156.6 411.3,163.3 410.5,169.1 Z" fill="none" stroke="#7a7a7a" stroke-width="5.3" stroke-linejoin="round" stroke-linecap="round" opacity="0.8" filter="url(#zb0)"/>
<path d="M 402.9,168.1 C 402.2,173.2 400.7,178.8 398.8,183.1 C 396.9,187.4 394.4,190.6 391.4,193.7 C 388.4,196.8 384.8,199.5 380.6,201.8 C 376.5,204.1 371.7,206.0 366.5,207.5 C 361.3,209.0 355.6,210.1 349.4,210.7 C 343.2,211.3 337.0,211.7 329.2,211.3 C 321.4,211.0 311.3,210.5 302.5,208.6 C 293.7,206.7 284.1,202.8 276.6,200.0 C 269.1,197.2 263.3,194.4 257.6,191.5 C 251.9,188.6 246.8,185.6 242.2,182.5 C 237.6,179.4 233.6,176.3 230.2,173.2 C 226.8,170.0 224.0,166.8 221.9,163.6 C 219.8,160.4 218.2,157.4 217.4,153.8 C 216.6,150.2 216.6,145.8 217.1,141.9 C 217.6,138.0 218.8,133.8 220.6,130.6 C 222.4,127.3 224.8,124.9 227.7,122.4 C 230.6,119.9 234.2,117.6 238.3,115.5 C 242.4,113.4 247.2,111.6 252.4,109.9 C 257.6,108.2 263.4,106.6 269.7,105.4 C 276.0,104.2 282.3,103.2 290.3,102.5 C 298.3,101.8 308.6,100.8 317.5,101.4 C 326.4,102.0 336.3,104.4 343.9,106.2 C 351.5,108.0 357.5,110.0 363.3,112.3 C 369.1,114.6 374.2,117.2 378.8,120.1 C 383.4,123.0 387.4,126.2 390.8,129.5 C 394.2,132.8 396.9,136.4 399.0,140.2 C 401.1,144.0 402.5,147.8 403.1,152.5 C 403.8,157.2 403.6,163.0 402.9,168.1 Z" fill="#7c7c7c" stroke="#3a3a3a" stroke-width="8.5" stroke-linejoin="round" stroke-linecap="round" opacity="1.0" filter="url(#zb0)"/>
<path d="M 221.6,129.1 C 222.7,127.9 225.5,124.2 228.2,122.0 C 230.9,119.8 234.1,117.8 237.7,115.9 C 241.3,114.0 245.4,112.3 249.9,110.7 C 254.4,109.1 259.4,107.7 264.8,106.5 C 270.2,105.3 275.8,104.2 282.1,103.4 C 288.4,102.6 294.6,101.7 302.6,101.7 C 310.6,101.7 322.2,102.3 330.1,103.3 C 338.0,104.3 344.1,106.2 350.1,107.9 C 356.2,109.6 361.4,111.6 366.4,113.7 C 371.4,115.8 375.9,118.2 379.9,120.8 C 383.9,123.4 387.5,126.1 390.5,129.1 C 393.5,132.1 396.1,135.2 398.1,138.6 C 400.1,142.0 401.6,145.5 402.5,149.3 C 403.4,153.1 403.8,156.9 403.6,161.5 C 403.4,166.1 402.4,172.7 401.1,177.1 C 399.9,181.5 398.2,184.8 396.1,188.0 C 394.0,191.2 391.4,194.1 388.4,196.6 C 385.4,199.1 381.8,201.3 377.9,203.2 C 374.0,205.1 369.7,206.7 365.0,207.9 C 360.3,209.2 355.1,210.1 349.6,210.7 C 344.1,211.3 338.4,211.5 331.8,211.3 C 325.2,211.1 318.2,211.1 310.2,209.7 C 302.2,208.3 291.3,205.2 283.9,202.8 C 276.5,200.4 268.7,196.6 265.6,195.4 " fill="none" stroke="#0c0c0c" stroke-width="12.8" stroke-linejoin="round" stroke-linecap="round" opacity="1.0" filter="url(#zb0)"/>
<path d="M 230.9,120.0 C 232.4,119.1 236.6,116.4 240.0,114.8 C 243.4,113.2 247.1,111.7 251.2,110.3 C 255.3,108.9 259.8,107.7 264.5,106.6 C 269.2,105.5 274.2,104.5 279.7,103.7 C 285.2,102.9 290.4,102.2 297.3,101.9 C 304.2,101.6 314.0,101.3 321.4,101.9 C 328.8,102.5 335.6,104.2 341.6,105.6 C 347.6,107.0 352.7,108.5 357.6,110.2 C 362.5,111.9 367.1,113.9 371.2,115.9 C 375.3,118.0 379.1,120.1 382.5,122.5 C 385.9,124.9 388.9,127.4 391.5,130.1 C 394.1,132.8 396.3,135.6 398.1,138.6 C 399.9,141.6 401.3,144.7 402.2,148.0 C 403.1,151.3 403.7,154.5 403.7,158.6 C 403.7,162.7 403.0,168.6 402.2,172.8 C 401.4,177.0 400.2,180.4 398.6,183.6 C 397.1,186.8 395.1,189.5 392.9,192.1 C 390.6,194.7 388.1,197.0 385.1,199.1 C 382.1,201.2 378.8,202.9 375.1,204.5 C 371.5,206.1 367.5,207.4 363.2,208.4 C 358.9,209.4 354.2,210.2 349.3,210.7 C 344.4,211.2 339.2,211.5 333.5,211.4 C 327.8,211.3 322.2,211.3 315.1,210.2 C 308.0,209.1 294.7,205.9 290.6,205.0 " fill="none" stroke="#141414" stroke-width="7.3" stroke-linejoin="round" stroke-linecap="round" opacity="1.0"/>
<path d="M 386.3,164.7 C 385.8,168.2 384.8,172.0 383.4,174.9 C 382.0,177.8 380.2,180.0 378.0,182.1 C 375.8,184.2 373.2,186.0 370.1,187.5 C 367.1,189.0 363.5,190.2 359.7,191.2 C 355.9,192.2 351.7,192.9 347.1,193.3 C 342.5,193.7 337.9,193.8 332.1,193.5 C 326.3,193.2 318.9,192.8 312.4,191.5 C 305.9,190.2 298.8,187.4 293.2,185.4 C 287.6,183.4 283.4,181.5 279.1,179.5 C 274.8,177.5 271.0,175.3 267.6,173.2 C 264.2,171.1 261.2,168.9 258.7,166.7 C 256.2,164.5 254.1,162.4 252.5,160.2 C 250.9,158.0 249.7,155.9 249.1,153.4 C 248.5,150.9 248.3,147.9 248.7,145.3 C 249.1,142.7 250.0,139.9 251.3,137.7 C 252.6,135.5 254.2,133.8 256.4,132.1 C 258.5,130.4 261.2,128.9 264.2,127.5 C 267.2,126.1 270.8,124.9 274.6,123.8 C 278.5,122.7 282.7,121.7 287.3,120.9 C 291.9,120.1 296.6,119.5 302.5,119.1 C 308.4,118.7 316.0,118.0 322.6,118.5 C 329.2,119.0 336.6,120.7 342.2,122.0 C 347.8,123.3 352.2,124.8 356.5,126.4 C 360.8,128.0 364.7,129.8 368.1,131.8 C 371.5,133.8 374.5,136.0 377.0,138.3 C 379.5,140.6 381.6,143.1 383.1,145.7 C 384.7,148.3 385.8,150.8 386.3,154.0 C 386.8,157.2 386.8,161.2 386.3,164.7 Z" fill="none" stroke="#555" stroke-width="4.6" stroke-linejoin="round" stroke-linecap="round" opacity="0.9" filter="url(#zb0)"/>
<path d="M 372.4,161.8 C 372.1,164.1 371.3,166.5 370.4,168.4 C 369.4,170.3 368.2,171.7 366.7,173.0 C 365.2,174.3 363.3,175.5 361.2,176.5 C 359.1,177.5 356.7,178.2 354.0,178.8 C 351.3,179.4 348.3,179.8 345.1,180.0 C 341.9,180.2 338.7,180.3 334.6,180.1 C 330.6,179.9 325.4,179.5 320.8,178.6 C 316.2,177.7 311.1,175.8 307.2,174.5 C 303.3,173.2 300.3,171.9 297.3,170.6 C 294.3,169.2 291.6,167.8 289.2,166.4 C 286.8,165.0 284.7,163.5 282.9,162.1 C 281.1,160.7 279.6,159.2 278.5,157.8 C 277.4,156.4 276.4,155.0 276.0,153.4 C 275.6,151.8 275.6,149.9 275.8,148.2 C 276.1,146.5 276.6,144.7 277.5,143.3 C 278.4,141.9 279.5,140.8 281.0,139.7 C 282.5,138.6 284.4,137.7 286.5,136.8 C 288.6,135.9 291.0,135.1 293.7,134.4 C 296.4,133.7 299.3,133.2 302.6,132.7 C 305.9,132.2 309.2,131.8 313.3,131.6 C 317.4,131.4 322.8,131.0 327.4,131.4 C 332.0,131.8 337.1,132.9 341.1,133.8 C 345.1,134.7 348.1,135.6 351.2,136.7 C 354.2,137.8 357.0,139.1 359.4,140.4 C 361.8,141.7 363.9,143.1 365.7,144.6 C 367.5,146.1 368.9,147.8 370.0,149.5 C 371.1,151.2 371.9,152.8 372.3,154.9 C 372.7,157.0 372.7,159.6 372.4,161.8 Z" fill="#a2a2a2" stroke="#666" stroke-width="3.8" stroke-linejoin="round" stroke-linecap="round" opacity="0.9" filter="url(#zb0)"/>
<ellipse cx="333.46225" cy="155" rx="24.4" ry="8.7" transform="rotate(8 333.46225 155)" fill="#dedede" stroke="none" stroke-width="0.0" opacity="0.95" filter="url(#zb1)"/>
</g></g>
<line x1="29.80" y1="0.00" x2="29.80" y2="60.10" stroke="#2a2a2a" stroke-width="0.9" />
<line x1="0.00" y1="31.80" x2="60.50" y2="31.80" stroke="#2a2a2a" stroke-width="0.9" />
<rect x="0" y="0" width="60.5" height="60.1" fill="none" stroke="#1a1a1a" stroke-width="1.3"/>
<text x="1.90" y="6.70" font-size="8.2" text-anchor="start" font-weight="normal" fill="#111" textLength="14.81" lengthAdjust="spacingAndGlyphs" stroke="#111" stroke-width="0.18">17%</text>
<text x="58.60" y="6.70" font-size="8.2" text-anchor="end" font-weight="normal" fill="#111" textLength="14.81" lengthAdjust="spacingAndGlyphs" stroke="#111" stroke-width="0.18">58%</text>
<text x="1.90" y="57.70" font-size="8.2" text-anchor="start" font-weight="normal" fill="#111" textLength="14.81" lengthAdjust="spacingAndGlyphs" stroke="#111" stroke-width="0.18">17%</text>
<text x="58.60" y="57.70" font-size="8.2" text-anchor="end" font-weight="normal" fill="#111" textLength="10.69" lengthAdjust="spacingAndGlyphs" stroke="#111" stroke-width="0.18">7%</text>
</g>
<g transform="translate(178.60,256.35)">
<clipPath id="cp02"><rect x="0" y="0" width="60.5" height="60.1"/></clipPath>
<g clip-path="url(#cp02)"><g transform="translate(-0.6,-1.35) scale(0.13106)">
<path d="M 90,150 C 109.2,120.0 175.0,128.3 200,120 C 225.0,111.7 203.3,104.2 240,100 C 276.7,95.8 386.7,78.3 420,95 C 453.3,111.7 440.0,174.2 440,200 C 440.0,225.8 436.7,236.7 420,250 C 403.3,263.3 355.0,258.3 340,280 C 325.0,301.7 336.7,356.7 330,380 C 323.3,403.3 313.3,408.3 300,420 C 286.7,431.7 283.3,443.3 250,450 C 216.7,456.7 127.5,485.0 100,460 C 72.5,435.0 86.7,351.7 85,300 C 83.3,248.3 70.8,180.0 90,150 Z" fill="#dadada" stroke="none" stroke-width="0.0" stroke-linejoin="round" stroke-linecap="round" opacity="1.0" filter="url(#zb2)"/>
<path d="M 90,150 C 109.2,120.0 175.0,128.3 200,120 C 225.0,111.7 203.3,104.2 240,100 C 276.7,95.8 386.7,78.3 420,95 C 453.3,111.7 440.0,174.2 440,200 C 440.0,225.8 436.7,236.7 420,250 C 403.3,263.3 355.0,258.3 340,280 C 325.0,301.7 336.7,356.7 330,380 C 323.3,403.3 313.3,408.3 300,420 C 286.7,431.7 283.3,443.3 250,450 C 216.7,456.7 127.5,485.0 100,460 C 72.5,435.0 86.7,351.7 85,300 C 83.3,248.3 70.8,180.0 90,150 Z" fill="none" stroke="#c4c4c4" stroke-width="4.6" stroke-linejoin="round" stroke-linecap="round" opacity="0.7" filter="url(#zb0)"/>
<path d="M 100,160 C 115.0,132.5 167.5,138.3 190,135 C 212.5,131.7 227.5,120.8 235,140 C 242.5,159.2 237.5,223.3 235,250 C 232.5,276.7 220.8,275.0 220,300 C 219.2,325.0 233.3,376.7 230,400 C 226.7,423.3 215.0,431.7 200,440 C 185.0,448.3 155.0,456.7 140,450 C 125.0,443.3 116.7,425.0 110,400 C 103.3,375.0 101.7,340.0 100,300 C 98.3,260.0 85.0,187.5 100,160 Z" fill="#bdbdbd" stroke="none" stroke-width="0.0" stroke-linejoin="round" stroke-linecap="round" opacity="1.0" filter="url(#zb1)"/>
<path d="M 100.0,160.0 C 115.0,132.5 167.5,138.3 190.0,135.0 C 212.5,131.7 227.5,120.8 235.0,140.0 C 242.5,159.2 237.5,223.3 235.0,250.0 C 232.5,276.7 220.8,275.0 220.0,300.0 C 219.2,325.0 233.3,376.7 230.0,400.0 C 226.7,423.3 215.0,431.7 200.0,440.0 C 185.0,448.3 155.0,456.7 140.0,450.0 C 125.0,443.3 116.7,425.0 110.0,400.0 C 103.3,375.0 101.7,340.0 100.0,300.0 C 98.3,260.0 85.0,187.5 100.0,160.0 Z" fill="none" stroke="#7a7a7a" stroke-width="5.3" stroke-linejoin="round" stroke-linecap="round" opacity="0.85" filter="url(#zb0)"/>
<path d="M 115.2,187.5 C 127.2,165.5 169.2,170.2 187.2,167.5 C 205.2,164.8 217.2,156.2 223.2,171.5 C 229.2,186.8 225.2,238.2 223.2,259.5 C 221.2,280.8 211.9,279.5 211.2,299.5 C 210.5,319.5 221.9,360.8 219.2,379.5 C 216.5,398.2 207.2,404.8 195.2,411.5 C 183.2,418.2 159.2,424.8 147.2,419.5 C 135.2,414.2 128.5,399.5 123.2,379.5 C 117.9,359.5 116.5,331.5 115.2,299.5 C 113.9,267.5 103.2,209.5 115.2,187.5 Z" fill="none" stroke="#888" stroke-width="5.3" stroke-linejoin="round" stroke-linecap="round" opacity="0.85" filter="url(#zb0)"/>
<path d="M 130.4,215.0 C 139.4,198.5 170.9,202.0 184.4,200.0 C 197.9,198.0 206.9,191.5 211.4,203.0 C 215.9,214.5 212.9,253.0 211.4,269.0 C 209.9,285.0 202.9,284.0 202.4,299.0 C 201.9,314.0 210.4,345.0 208.4,359.0 C 206.4,373.0 199.4,378.0 190.4,383.0 C 181.4,388.0 163.4,393.0 154.4,389.0 C 145.4,385.0 140.4,374.0 136.4,359.0 C 132.4,344.0 131.4,323.0 130.4,299.0 C 129.4,275.0 121.4,231.5 130.4,215.0 Z" fill="none" stroke="#959595" stroke-width="5.3" stroke-linejoin="round" stroke-linecap="round" opacity="0.85" filter="url(#zb0)"/>
<path d="M 235,150 C 227.5,149.7 205.0,147.7 190,148 C 175.0,148.3 155.8,148.3 145,152 C 134.2,155.7 129.5,160.3 125,170 C 120.5,179.7 119.7,193.3 118,210 C 116.3,226.7 114.7,250.0 115,270 C 115.3,290.0 119.2,320.0 120,330 " fill="none" stroke="#3c3c3c" stroke-width="34.3" stroke-linejoin="round" stroke-linecap="round" opacity="0.5" filter="url(#zb1)"/>
<path d="M 235,150 C 227.5,149.7 205.0,147.7 190,148 C 175.0,148.3 155.8,148.3 145,152 C 134.2,155.7 129.5,160.3 125,170 C 120.5,179.7 119.7,193.3 118,210 C 116.3,226.7 114.7,250.0 115,270 C 115.3,290.0 119.2,320.0 120,330 " fill="none" stroke="#3c3c3c" stroke-width="17.2" stroke-linejoin="round" stroke-linecap="round" opacity="1.0" filter="url(#zb0)"/>
<path d="M 170,200 C 170.8,216.7 172.5,266.7 175,300 C 177.5,333.3 183.3,383.3 185,400 " fill="none" stroke="#9a9a9a" stroke-width="22.9" stroke-linejoin="round" stroke-linecap="round" opacity="0.5" filter="url(#zb1)"/>
<path d="M 170,200 C 170.8,216.7 172.5,266.7 175,300 C 177.5,333.3 183.3,383.3 185,400 " fill="none" stroke="#9a9a9a" stroke-width="11.4" stroke-linejoin="round" stroke-linecap="round" opacity="1.0" filter="url(#zb0)"/>
<ellipse cx="160" cy="462" rx="26.7" ry="15.3" transform="rotate(0 160 462)" fill="#222" stroke="none" stroke-width="0.0" opacity="1.0" filter="url(#zb0)"/>
<path d="M 439.1,178.0 C 439.1,186.1 438.3,195.2 436.8,202.2 C 435.3,209.2 433.0,214.7 430.0,220.2 C 427.0,225.7 423.3,230.6 418.9,235.1 C 414.5,239.6 409.4,243.6 403.6,247.0 C 397.9,250.4 391.5,253.3 384.4,255.6 C 377.3,257.9 370.3,259.7 361.2,260.9 C 352.1,262.1 340.4,263.3 330.0,262.7 C 319.6,262.1 307.9,259.5 298.8,257.4 C 289.7,255.2 282.7,252.7 275.6,249.8 C 268.5,246.9 262.1,243.6 256.4,240.0 C 250.6,236.4 245.5,232.5 241.1,228.2 C 236.7,223.9 233.0,219.3 230.0,214.4 C 227.0,209.5 224.7,204.8 223.2,198.7 C 221.7,192.6 220.9,184.9 220.9,178.0 C 220.9,171.1 221.7,163.4 223.2,157.3 C 224.7,151.2 227.0,146.5 230.0,141.6 C 233.0,136.7 236.7,132.1 241.1,127.8 C 245.5,123.5 250.6,119.6 256.4,116.0 C 262.1,112.4 268.5,109.1 275.6,106.2 C 282.7,103.3 289.7,100.8 298.8,98.6 C 307.9,96.4 319.6,93.9 330.0,93.3 C 340.4,92.7 352.1,93.9 361.2,95.1 C 370.3,96.3 377.3,98.1 384.4,100.4 C 391.5,102.7 397.9,105.6 403.6,109.0 C 409.4,112.4 414.5,116.4 418.9,120.9 C 423.3,125.4 427.0,130.3 430.0,135.8 C 433.0,141.3 435.3,146.8 436.8,153.8 C 438.3,160.8 439.1,169.9 439.1,178.0 Z" fill="#acacac" stroke="none" stroke-width="0.0" stroke-linejoin="round" stroke-linecap="round" opacity="0.9" filter="url(#zb2)"/>
<path d="M 429.2,178.0 C 429.2,185.1 428.5,193.2 427.1,199.4 C 425.7,205.6 423.6,210.5 420.9,215.3 C 418.2,220.1 414.8,224.5 410.8,228.4 C 406.8,232.3 402.1,235.9 396.9,238.9 C 391.7,241.9 385.9,244.6 379.5,246.6 C 373.1,248.6 366.6,250.2 358.4,251.2 C 350.1,252.2 339.5,253.5 330.0,252.8 C 320.5,252.1 309.9,249.2 301.6,247.0 C 293.4,244.8 286.9,242.4 280.5,239.7 C 274.1,237.0 268.3,233.9 263.1,230.7 C 257.9,227.4 253.2,223.9 249.2,220.2 C 245.2,216.5 241.8,212.7 239.1,208.5 C 236.4,204.3 234.3,200.3 232.9,195.2 C 231.5,190.1 230.8,183.7 230.8,178.0 C 230.8,172.3 231.5,165.9 232.9,160.8 C 234.3,155.7 236.4,151.7 239.1,147.5 C 241.8,143.3 245.2,139.5 249.2,135.8 C 253.2,132.1 257.9,128.6 263.1,125.3 C 268.3,122.0 274.1,119.0 280.5,116.3 C 286.9,113.6 293.4,111.2 301.6,109.0 C 309.9,106.8 320.5,103.9 330.0,103.2 C 339.5,102.5 350.1,103.8 358.4,104.8 C 366.6,105.8 373.1,107.4 379.5,109.4 C 385.9,111.5 391.7,114.1 396.9,117.1 C 402.1,120.1 406.8,123.7 410.8,127.6 C 414.8,131.5 418.2,135.9 420.9,140.7 C 423.6,145.5 425.7,150.4 427.1,156.6 C 428.5,162.8 429.2,170.9 429.2,178.0 Z" fill="none" stroke="#7a7a7a" stroke-width="5.3" stroke-linejoin="round" stroke-linecap="round" opacity="0.8" filter="url(#zb0)"/>
<path d="M 421.6,178.0 C 421.6,184.4 420.9,191.6 419.6,197.2 C 418.3,202.8 416.4,207.2 413.9,211.5 C 411.4,215.8 408.3,219.8 404.6,223.3 C 400.9,226.8 396.6,230.0 391.8,232.7 C 387.0,235.4 381.6,237.8 375.7,239.6 C 369.8,241.4 363.8,242.8 356.2,243.7 C 348.6,244.6 338.7,245.9 330.0,245.1 C 321.3,244.3 311.4,241.2 303.8,239.0 C 296.2,236.8 290.2,234.5 284.3,231.9 C 278.4,229.3 273.0,226.5 268.2,223.5 C 263.4,220.5 259.1,217.4 255.4,214.1 C 251.7,210.8 248.6,207.4 246.1,203.8 C 243.6,200.2 241.7,196.8 240.4,192.5 C 239.1,188.2 238.4,182.8 238.4,178.0 C 238.4,173.2 239.1,167.8 240.4,163.5 C 241.7,159.2 243.6,155.8 246.1,152.2 C 248.6,148.6 251.7,145.2 255.4,141.9 C 259.1,138.6 263.4,135.5 268.2,132.5 C 273.0,129.5 278.4,126.7 284.3,124.1 C 290.2,121.5 296.2,119.2 303.8,117.0 C 311.4,114.8 321.3,111.7 330.0,110.9 C 338.7,110.1 348.6,111.4 356.2,112.3 C 363.8,113.2 369.8,114.6 375.7,116.4 C 381.6,118.2 387.0,120.6 391.8,123.3 C 396.6,126.0 400.9,129.2 404.6,132.7 C 408.3,136.2 411.4,140.2 413.9,144.5 C 416.4,148.8 418.3,153.2 419.6,158.8 C 420.9,164.4 421.6,171.6 421.6,178.0 Z" fill="#7c7c7c" stroke="#3a3a3a" stroke-width="9.6" stroke-linejoin="round" stroke-linecap="round" opacity="1.0" filter="url(#zb0)"/>
<path d="M 241.0,161.5 C 241.9,159.8 244.2,154.8 246.5,151.6 C 248.8,148.4 251.7,145.3 254.9,142.4 C 258.1,139.5 261.9,136.7 266.0,134.0 C 270.1,131.3 274.7,128.7 279.7,126.3 C 284.7,123.9 290.0,121.6 296.0,119.5 C 302.0,117.4 307.9,115.2 315.6,113.8 C 323.3,112.4 334.6,111.2 342.4,111.1 C 350.2,111.0 356.2,112.1 362.3,113.2 C 368.4,114.3 373.8,115.7 378.9,117.5 C 384.0,119.3 388.7,121.5 392.9,124.0 C 397.1,126.5 400.9,129.3 404.2,132.4 C 407.5,135.5 410.5,138.9 412.9,142.7 C 415.3,146.5 417.2,150.5 418.6,155.0 C 420.0,159.5 420.9,164.1 421.3,169.8 C 421.7,175.5 421.6,183.8 421.0,189.4 C 420.4,195.0 419.3,199.2 417.7,203.6 C 416.1,207.9 414.0,211.8 411.4,215.5 C 408.8,219.2 405.7,222.5 402.2,225.5 C 398.7,228.5 394.7,231.2 390.3,233.5 C 385.9,235.8 381.1,237.8 375.8,239.5 C 370.5,241.2 365.1,242.5 358.7,243.4 C 352.3,244.3 345.6,245.5 337.7,245.1 C 329.8,244.7 318.8,242.8 311.3,241.1 C 303.8,239.4 295.7,236.2 292.6,235.2 " fill="none" stroke="#0c0c0c" stroke-width="14.4" stroke-linejoin="round" stroke-linecap="round" opacity="1.0" filter="url(#zb0)"/>
<path d="M 248.8,148.7 C 250.2,147.4 253.8,143.3 256.9,140.7 C 259.9,138.1 263.4,135.6 267.1,133.2 C 270.9,130.8 274.9,128.6 279.4,126.4 C 283.8,124.2 288.6,122.2 293.8,120.3 C 299.0,118.4 303.9,116.7 310.6,115.1 C 317.3,113.5 326.6,111.4 333.8,110.9 C 341.0,110.4 347.8,111.3 353.8,112.0 C 359.8,112.7 364.9,113.6 369.9,114.8 C 374.9,116.0 379.5,117.6 383.8,119.4 C 388.1,121.2 392.0,123.3 395.6,125.6 C 399.2,127.9 402.4,130.6 405.3,133.4 C 408.2,136.2 410.8,139.3 412.9,142.7 C 415.0,146.1 416.8,149.7 418.1,153.6 C 419.5,157.5 420.4,161.2 421.0,166.3 C 421.6,171.4 421.6,178.7 421.4,183.9 C 421.1,189.2 420.5,193.6 419.5,197.8 C 418.5,202.0 417.0,205.8 415.2,209.3 C 413.4,212.9 411.1,216.1 408.5,219.1 C 405.9,222.1 402.9,224.9 399.6,227.5 C 396.3,230.1 392.6,232.4 388.6,234.4 C 384.6,236.4 380.2,238.2 375.5,239.6 C 370.8,241.0 365.9,242.2 360.4,243.1 C 354.9,244.0 349.5,245.0 342.4,244.9 C 335.3,244.8 322.1,243.1 318.0,242.7 " fill="none" stroke="#141414" stroke-width="8.2" stroke-linejoin="round" stroke-linecap="round" opacity="1.0"/>
<path d="M 405.1,178.0 C 405.1,182.4 404.6,187.3 403.7,191.1 C 402.8,194.9 401.3,197.9 399.4,200.8 C 397.5,203.8 395.2,206.4 392.5,208.8 C 389.8,211.2 386.6,213.3 383.0,215.2 C 379.4,217.0 375.5,218.7 371.1,219.9 C 366.7,221.2 362.3,222.1 356.7,222.7 C 351.1,223.3 343.8,224.2 337.3,223.7 C 330.9,223.2 323.6,221.0 318.0,219.5 C 312.4,218.0 307.9,216.4 303.5,214.6 C 299.1,212.8 295.2,210.9 291.6,208.9 C 288.0,206.9 284.8,204.7 282.1,202.5 C 279.4,200.3 277.1,197.9 275.2,195.5 C 273.3,193.1 271.9,190.8 271.0,187.9 C 270.1,185.0 269.6,181.3 269.6,178.0 C 269.6,174.7 270.1,171.0 271.0,168.1 C 271.9,165.2 273.3,162.9 275.2,160.5 C 277.1,158.1 279.4,155.7 282.1,153.5 C 284.8,151.3 288.0,149.1 291.6,147.1 C 295.2,145.1 299.1,143.2 303.5,141.4 C 307.9,139.6 312.4,138.0 318.0,136.5 C 323.6,135.0 330.9,132.8 337.3,132.3 C 343.8,131.8 351.1,132.7 356.7,133.3 C 362.3,133.9 366.7,134.8 371.1,136.1 C 375.5,137.3 379.4,139.0 383.0,140.8 C 386.6,142.7 389.8,144.8 392.5,147.2 C 395.2,149.6 397.5,152.2 399.4,155.2 C 401.3,158.1 402.8,161.1 403.7,164.9 C 404.6,168.7 405.1,173.6 405.1,178.0 Z" fill="none" stroke="#555" stroke-width="4.6" stroke-linejoin="round" stroke-linecap="round" opacity="0.9" filter="url(#zb0)"/>
<path d="M 391.3,178.0 C 391.3,180.8 391.0,184.0 390.3,186.4 C 389.6,188.8 388.7,190.8 387.4,192.7 C 386.1,194.6 384.4,196.3 382.5,197.9 C 380.6,199.5 378.4,200.9 375.9,202.1 C 373.4,203.3 370.6,204.3 367.5,205.1 C 364.4,205.9 361.3,206.5 357.3,206.9 C 353.3,207.3 348.2,207.8 343.7,207.5 C 339.2,207.2 334.1,205.9 330.1,204.9 C 326.2,203.9 323.1,202.8 320.0,201.7 C 316.9,200.5 314.1,199.3 311.6,198.0 C 309.1,196.7 306.9,195.3 305.0,193.9 C 303.1,192.5 301.4,191.0 300.1,189.4 C 298.8,187.8 297.8,186.3 297.1,184.4 C 296.4,182.5 296.1,180.1 296.1,178.0 C 296.1,175.9 296.4,173.5 297.1,171.6 C 297.8,169.7 298.8,168.2 300.1,166.6 C 301.4,165.0 303.1,163.5 305.0,162.1 C 306.9,160.7 309.1,159.3 311.6,158.0 C 314.1,156.7 316.9,155.5 320.0,154.3 C 323.1,153.2 326.2,152.1 330.1,151.1 C 334.1,150.1 339.2,148.8 343.7,148.5 C 348.2,148.2 353.3,148.7 357.3,149.1 C 361.3,149.5 364.4,150.1 367.5,150.9 C 370.6,151.7 373.4,152.7 375.9,153.9 C 378.4,155.1 380.6,156.5 382.5,158.1 C 384.4,159.7 386.1,161.4 387.4,163.3 C 388.7,165.2 389.6,167.2 390.3,169.6 C 391.0,172.0 391.3,175.2 391.3,178.0 Z" fill="#a2a2a2" stroke="#666" stroke-width="3.8" stroke-linejoin="round" stroke-linecap="round" opacity="0.9" filter="url(#zb0)"/>
<ellipse cx="352.89" cy="178" rx="23.8" ry="10.7" transform="rotate(0 352.89 178)" fill="#dedede" stroke="none" stroke-width="0.0" opacity="0.95" filter="url(#zb1)"/>
</g></g>
<line x1="29.80" y1="0.00" x2="29.80" y2="60.10" stroke="#2a2a2a" stroke-width="0.9" />
<line x1="0.00" y1="31.80" x2="60.50" y2="31.80" stroke="#2a2a2a" stroke-width="0.9" />
<rect x="0" y="0" width="60.5" height="60.1" fill="none" stroke="#1a1a1a" stroke-width="1.3"/>
<text x="1.90" y="6.70" font-size="8.2" text-anchor="start" font-weight="normal" fill="#111" textLength="14.81" lengthAdjust="spacingAndGlyphs" stroke="#111" stroke-width="0.18">13%</text>
<text x="58.60" y="6.70" font-size="8.2" text-anchor="end" font-weight="normal" fill="#111" textLength="14.81" lengthAdjust="spacingAndGlyphs" stroke="#111" stroke-width="0.18">63%</text>
<text x="1.90" y="57.70" font-size="8.2" text-anchor="start" font-weight="normal" fill="#111" textLength="14.81" lengthAdjust="spacingAndGlyphs" stroke="#111" stroke-width="0.18">17%</text>
<text x="58.60" y="57.70" font-size="8.2" text-anchor="end" font-weight="normal" fill="#111" textLength="10.69" lengthAdjust="spacingAndGlyphs" stroke="#111" stroke-width="0.18">7%</text>
</g>
<g transform="translate(243.20,256.35)">
<clipPath id="cp03"><rect x="0" y="0" width="60.5" height="60.1"/></clipPath>
<g clip-path="url(#cp03)"><g transform="translate(-1.2,-1.35) scale(0.13106)">
<path d="M 95,130 C 112.5,97.5 175.8,111.7 200,105 C 224.2,98.3 206.7,91.7 240,90 C 273.3,88.3 368.3,76.7 400,95 C 431.7,113.3 430.0,172.5 430,200 C 430.0,227.5 416.7,243.3 400,260 C 383.3,276.7 343.3,276.7 330,300 C 316.7,323.3 326.7,378.3 320,400 C 313.3,421.7 323.3,425.0 290,430 C 256.7,435.0 152.5,451.7 120,430 C 87.5,408.3 99.2,350.0 95,300 C 90.8,250.0 77.5,162.5 95,130 Z" fill="#dadada" stroke="none" stroke-width="0.0" stroke-linejoin="round" stroke-linecap="round" opacity="1.0" filter="url(#zb2)"/>
<path d="M 95,130 C 112.5,97.5 175.8,111.7 200,105 C 224.2,98.3 206.7,91.7 240,90 C 273.3,88.3 368.3,76.7 400,95 C 431.7,113.3 430.0,172.5 430,200 C 430.0,227.5 416.7,243.3 400,260 C 383.3,276.7 343.3,276.7 330,300 C 316.7,323.3 326.7,378.3 320,400 C 313.3,421.7 323.3,425.0 290,430 C 256.7,435.0 152.5,451.7 120,430 C 87.5,408.3 99.2,350.0 95,300 C 90.8,250.0 77.5,162.5 95,130 Z" fill="none" stroke="#c4c4c4" stroke-width="4.6" stroke-linejoin="round" stroke-linecap="round" opacity="0.7" filter="url(#zb0)"/>
<path d="M 110,140 C 128.3,110.8 199.2,118.3 220,125 C 240.8,131.7 233.3,157.5 235,180 C 236.7,202.5 222.5,240.0 230,260 C 237.5,280.0 268.3,280.0 280,300 C 291.7,320.0 300.0,361.7 300,380 C 300.0,398.3 300.0,405.0 280,410 C 260.0,415.0 205.0,415.0 180,410 C 155.0,405.0 141.7,398.3 130,380 C 118.3,361.7 113.3,340.0 110,300 C 106.7,260.0 91.7,169.2 110,140 Z" fill="#b6b6b6" stroke="none" stroke-width="0.0" stroke-linejoin="round" stroke-linecap="round" opacity="1.0" filter="url(#zb1)"/>
<path d="M 110.0,140.0 C 128.3,110.8 199.2,118.3 220.0,125.0 C 240.8,131.7 233.3,157.5 235.0,180.0 C 236.7,202.5 222.5,240.0 230.0,260.0 C 237.5,280.0 268.3,280.0 280.0,300.0 C 291.7,320.0 300.0,361.7 300.0,380.0 C 300.0,398.3 300.0,405.0 280.0,410.0 C 260.0,415.0 205.0,415.0 180.0,410.0 C 155.0,405.0 141.7,398.3 130.0,380.0 C 118.3,361.7 113.3,340.0 110.0,300.0 C 106.7,260.0 91.7,169.2 110.0,140.0 Z" fill="none" stroke="#7a7a7a" stroke-width="5.3" stroke-linejoin="round" stroke-linecap="round" opacity="0.85" filter="url(#zb0)"/>
<path d="M 129.5,169.7 C 144.2,146.4 200.8,152.4 217.5,157.7 C 234.2,163.0 228.2,183.7 229.5,201.7 C 230.8,219.7 219.5,249.7 225.5,265.7 C 231.5,281.7 256.2,281.7 265.5,297.7 C 274.8,313.7 281.5,347.0 281.5,361.7 C 281.5,376.4 281.5,381.7 265.5,385.7 C 249.5,389.7 205.5,389.7 185.5,385.7 C 165.5,381.7 154.8,376.4 145.5,361.7 C 136.2,347.0 132.2,329.7 129.5,297.7 C 126.8,265.7 114.8,193.0 129.5,169.7 Z" fill="none" stroke="#888" stroke-width="5.3" stroke-linejoin="round" stroke-linecap="round" opacity="0.85" filter="url(#zb0)"/>
<path d="M 149.0,199.4 C 160.0,181.9 202.5,186.4 215.0,190.4 C 227.5,194.4 223.0,209.9 224.0,223.4 C 225.0,236.9 216.5,259.4 221.0,271.4 C 225.5,283.4 244.0,283.4 251.0,295.4 C 258.0,307.4 263.0,332.4 263.0,343.4 C 263.0,354.4 263.0,358.4 251.0,361.4 C 239.0,364.4 206.0,364.4 191.0,361.4 C 176.0,358.4 168.0,354.4 161.0,343.4 C 154.0,332.4 151.0,319.4 149.0,295.4 C 147.0,271.4 138.0,216.9 149.0,199.4 Z" fill="none" stroke="#959595" stroke-width="5.3" stroke-linejoin="round" stroke-linecap="round" opacity="0.85" filter="url(#zb0)"/>
<path d="M 225,140 C 215.8,140.0 186.2,138.3 170,140 C 153.8,141.7 136.7,143.3 128,150 C 119.3,156.7 119.3,163.3 118,180 C 116.7,196.7 118.0,230.0 120,250 C 122.0,270.0 125.8,280.0 130,300 C 134.2,320.0 138.3,354.2 145,370 C 151.7,385.8 165.8,390.8 170,395 " fill="none" stroke="#4a4a4a" stroke-width="29.8" stroke-linejoin="round" stroke-linecap="round" opacity="0.5" filter="url(#zb1)"/>
<path d="M 225,140 C 215.8,140.0 186.2,138.3 170,140 C 153.8,141.7 136.7,143.3 128,150 C 119.3,156.7 119.3,163.3 118,180 C 116.7,196.7 118.0,230.0 120,250 C 122.0,270.0 125.8,280.0 130,300 C 134.2,320.0 138.3,354.2 145,370 C 151.7,385.8 165.8,390.8 170,395 " fill="none" stroke="#4a4a4a" stroke-width="14.9" stroke-linejoin="round" stroke-linecap="round" opacity="1.0" filter="url(#zb0)"/>
<path d="M 170,190 C 170.8,201.7 168.3,238.3 175,260 C 181.7,281.7 195.8,303.3 210,320 C 224.2,336.7 246.7,348.3 260,360 C 273.3,371.7 285.0,385.0 290,390 " fill="none" stroke="#707070" stroke-width="25.2" stroke-linejoin="round" stroke-linecap="round" opacity="0.5" filter="url(#zb1)"/>
<path d="M 170,190 C 170.8,201.7 168.3,238.3 175,260 C 181.7,281.7 195.8,303.3 210,320 C 224.2,336.7 246.7,348.3 260,360 C 273.3,371.7 285.0,385.0 290,390 " fill="none" stroke="#707070" stroke-width="12.6" stroke-linejoin="round" stroke-linecap="round" opacity="1.0" filter="url(#zb0)"/>
<path d="M 430.5,194.5 C 428.9,203.6 426.2,213.7 423.3,221.3 C 420.4,229.0 417.0,234.8 412.9,240.4 C 408.8,246.1 404.0,250.9 398.6,255.2 C 393.2,259.4 387.3,263.1 380.8,265.9 C 374.3,268.7 367.3,270.8 359.7,272.2 C 352.1,273.6 344.5,274.3 335.1,274.0 C 325.7,273.7 313.6,272.9 303.2,270.4 C 292.8,267.9 281.5,262.9 272.7,258.9 C 263.9,254.9 257.2,250.7 250.6,246.2 C 244.0,241.7 238.3,236.8 233.2,231.7 C 228.1,226.6 223.7,221.2 220.1,215.6 C 216.5,210.0 213.6,204.3 211.5,198.2 C 209.4,192.1 208.1,186.3 207.8,179.2 C 207.5,172.1 208.1,163.2 209.5,155.5 C 210.9,147.8 213.2,139.3 216.0,132.7 C 218.8,126.1 222.0,121.1 226.0,116.1 C 230.0,111.1 234.7,106.6 240.0,102.6 C 245.3,98.6 251.3,95.0 257.8,92.0 C 264.3,89.0 271.5,86.3 279.2,84.3 C 286.9,82.3 294.6,80.8 304.2,80.0 C 313.8,79.2 326.2,78.4 336.8,79.6 C 347.4,80.8 359.1,84.2 368.0,87.1 C 376.9,90.0 383.8,93.3 390.5,97.2 C 397.2,101.1 403.1,105.5 408.2,110.4 C 413.3,115.3 417.7,120.7 421.3,126.5 C 424.9,132.3 427.8,138.6 429.7,145.3 C 431.6,152.0 432.9,158.6 433.0,166.8 C 433.1,175.0 432.1,185.4 430.5,194.5 Z" fill="#acacac" stroke="none" stroke-width="0.0" stroke-linejoin="round" stroke-linecap="round" opacity="0.9" filter="url(#zb2)"/>
<path d="M 420.7,192.8 C 419.3,201.0 416.9,210.0 414.3,216.9 C 411.7,223.8 408.6,228.9 404.8,234.0 C 401.1,239.1 396.7,243.4 391.8,247.2 C 386.9,251.0 381.5,254.3 375.6,256.8 C 369.7,259.3 363.3,261.2 356.4,262.4 C 349.5,263.6 342.6,264.2 334.0,263.9 C 325.4,263.6 314.3,263.2 304.9,260.7 C 295.4,258.2 285.2,253.0 277.3,249.0 C 269.4,245.0 263.3,241.1 257.3,236.8 C 251.3,232.5 246.0,228.1 241.4,223.4 C 236.8,218.8 232.8,213.9 229.5,208.9 C 226.2,203.9 223.4,198.9 221.5,193.6 C 219.6,188.3 218.3,183.4 217.9,177.3 C 217.5,171.2 218.1,163.8 219.3,157.2 C 220.5,150.6 222.5,143.5 224.9,137.9 C 227.3,132.3 230.2,128.1 233.8,123.8 C 237.4,119.5 241.7,115.7 246.5,112.2 C 251.3,108.7 256.7,105.5 262.7,102.7 C 268.7,99.9 275.2,97.4 282.3,95.4 C 289.4,93.4 296.4,91.9 305.2,90.9 C 314.0,89.9 325.4,88.4 335.1,89.3 C 344.8,90.2 355.4,93.5 363.6,96.2 C 371.8,98.9 378.0,101.8 384.1,105.3 C 390.2,108.8 395.5,112.8 400.2,117.2 C 404.9,121.6 408.9,126.5 412.2,131.7 C 415.5,136.9 418.0,142.6 419.8,148.6 C 421.6,154.6 422.8,160.5 422.9,167.9 C 423.0,175.3 422.1,184.6 420.7,192.8 Z" fill="none" stroke="#7a7a7a" stroke-width="5.3" stroke-linejoin="round" stroke-linecap="round" opacity="0.8" filter="url(#zb0)"/>
<path d="M 413.2,191.4 C 411.9,198.9 409.8,207.1 407.3,213.4 C 404.9,219.7 401.9,224.4 398.5,229.0 C 395.1,233.6 391.1,237.7 386.6,241.1 C 382.1,244.5 377.1,247.4 371.6,249.7 C 366.1,252.0 360.2,253.7 353.8,254.8 C 347.4,255.9 341.0,256.5 333.1,256.2 C 325.2,255.9 314.9,255.6 306.2,253.1 C 297.5,250.6 288.1,245.2 280.8,241.3 C 273.5,237.4 268.0,233.6 262.5,229.5 C 257.0,225.4 252.1,221.1 247.8,216.8 C 243.5,212.5 239.8,208.1 236.7,203.6 C 233.6,199.1 231.1,194.6 229.3,190.0 C 227.5,185.4 226.2,181.0 225.8,175.8 C 225.4,170.6 225.8,164.2 226.8,158.6 C 227.8,153.0 229.6,146.8 231.8,142.0 C 234.0,137.2 236.6,133.6 239.9,129.9 C 243.2,126.2 247.1,122.8 251.5,119.6 C 255.9,116.4 261.0,113.6 266.5,111.0 C 272.0,108.4 278.0,106.0 284.6,104.1 C 291.2,102.1 297.7,100.5 305.9,99.3 C 314.1,98.1 324.8,96.2 333.8,96.9 C 342.8,97.6 352.6,100.8 360.1,103.2 C 367.7,105.7 373.4,108.4 379.1,111.6 C 384.8,114.8 389.8,118.4 394.1,122.4 C 398.5,126.4 402.2,130.9 405.2,135.7 C 408.2,140.5 410.6,145.6 412.3,151.1 C 414.0,156.6 415.1,162.0 415.2,168.7 C 415.3,175.4 414.5,183.9 413.2,191.4 Z" fill="#7c7c7c" stroke="#3a3a3a" stroke-width="9.6" stroke-linejoin="round" stroke-linecap="round" opacity="1.0" filter="url(#zb0)"/>
<path d="M 232.9,139.9 C 234.2,138.1 237.5,132.6 240.5,129.3 C 243.5,126.0 246.9,122.9 250.8,120.1 C 254.7,117.3 259.1,114.7 263.9,112.3 C 268.7,109.9 273.8,107.7 279.4,105.8 C 285.0,103.9 290.9,102.1 297.4,100.8 C 303.9,99.5 310.4,98.0 318.5,97.7 C 326.6,97.5 338.4,98.0 346.3,99.3 C 354.2,100.6 360.2,103.1 366.2,105.4 C 372.2,107.8 377.4,110.4 382.2,113.4 C 387.0,116.4 391.3,119.8 395.1,123.4 C 398.9,127.0 402.1,131.0 404.9,135.2 C 407.6,139.4 409.9,144.0 411.6,148.8 C 413.3,153.6 414.4,158.6 414.9,164.1 C 415.4,169.6 415.4,175.1 414.6,181.9 C 413.8,188.7 412.1,198.3 410.3,204.7 C 408.5,211.1 406.5,215.8 404.0,220.5 C 401.5,225.2 398.5,229.4 395.1,233.2 C 391.7,237.0 387.9,240.3 383.7,243.2 C 379.5,246.1 374.9,248.5 370.0,250.4 C 365.1,252.3 359.7,253.8 354.0,254.8 C 348.3,255.8 342.5,256.3 335.8,256.2 C 329.1,256.1 322.0,256.2 314.0,254.4 C 306.0,252.6 295.3,248.3 288.0,245.1 C 280.7,241.8 273.1,236.6 270.1,234.9 " fill="none" stroke="#0c0c0c" stroke-width="14.4" stroke-linejoin="round" stroke-linecap="round" opacity="1.0" filter="url(#zb0)"/>
<path d="M 243.4,126.3 C 245.0,125.0 249.6,120.9 253.2,118.4 C 256.8,116.0 260.9,113.7 265.2,111.6 C 269.5,109.5 274.1,107.6 279.1,105.9 C 284.1,104.2 289.3,102.7 295.0,101.4 C 300.7,100.1 306.0,99.0 313.1,98.3 C 320.2,97.6 330.2,96.8 337.6,97.5 C 345.1,98.2 351.8,100.6 357.8,102.4 C 363.8,104.2 368.8,106.2 373.6,108.6 C 378.4,110.9 382.8,113.6 386.8,116.5 C 390.8,119.4 394.3,122.5 397.5,125.8 C 400.7,129.2 403.4,132.8 405.8,136.6 C 408.2,140.4 410.1,144.5 411.6,148.8 C 413.1,153.1 414.1,157.6 414.7,162.4 C 415.3,167.2 415.5,171.7 415.0,177.7 C 414.5,183.7 413.1,192.2 411.8,198.3 C 410.5,204.4 408.9,209.4 407.0,214.1 C 405.1,218.8 402.9,222.9 400.3,226.7 C 397.7,230.5 394.7,233.9 391.4,237.0 C 388.1,240.1 384.6,242.8 380.7,245.1 C 376.8,247.4 372.6,249.5 368.1,251.1 C 363.6,252.7 358.8,254.1 353.7,254.9 C 348.6,255.8 343.3,256.2 337.5,256.2 C 331.7,256.2 326.1,256.4 318.9,255.1 C 311.7,253.8 298.6,249.3 294.5,248.2 " fill="none" stroke="#141414" stroke-width="8.2" stroke-linejoin="round" stroke-linecap="round" opacity="1.0"/>
<path d="M 396.5,187.2 C 395.6,192.3 394.1,197.9 392.4,202.1 C 390.7,206.3 388.6,209.5 386.1,212.6 C 383.6,215.7 380.7,218.4 377.4,220.7 C 374.1,223.0 370.4,225.0 366.4,226.5 C 362.4,228.0 358.1,229.1 353.4,229.8 C 348.7,230.5 344.0,230.8 338.1,230.5 C 332.2,230.2 324.7,229.9 318.2,228.1 C 311.7,226.3 304.7,222.6 299.3,219.8 C 293.9,217.1 289.8,214.4 285.7,211.6 C 281.6,208.8 277.9,205.8 274.7,202.8 C 271.5,199.8 268.7,196.7 266.4,193.6 C 264.1,190.5 262.2,187.5 260.8,184.3 C 259.4,181.1 258.4,178.2 258.0,174.6 C 257.6,171.0 257.9,166.6 258.6,162.8 C 259.3,159.0 260.5,154.8 262.1,151.6 C 263.7,148.4 265.6,145.9 268.0,143.4 C 270.4,140.9 273.2,138.7 276.4,136.6 C 279.6,134.5 283.3,132.5 287.4,130.8 C 291.4,129.1 295.9,127.6 300.7,126.3 C 305.5,125.0 310.4,123.9 316.4,123.2 C 322.4,122.5 330.2,121.4 336.9,121.9 C 343.6,122.4 350.9,124.7 356.5,126.4 C 362.1,128.1 366.3,130.1 370.5,132.3 C 374.7,134.6 378.4,137.1 381.7,139.9 C 385.0,142.7 387.8,145.8 390.1,149.1 C 392.4,152.4 394.2,155.8 395.5,159.6 C 396.8,163.4 397.6,167.1 397.8,171.7 C 398.0,176.3 397.4,182.1 396.5,187.2 Z" fill="none" stroke="#555" stroke-width="4.6" stroke-linejoin="round" stroke-linecap="round" opacity="0.9" filter="url(#zb0)"/>
<path d="M 382.6,183.5 C 382.0,186.8 381.1,190.4 379.9,193.2 C 378.7,195.9 377.3,198.0 375.6,200.0 C 373.9,202.0 371.9,203.7 369.6,205.2 C 367.3,206.7 364.7,207.9 361.9,208.8 C 359.1,209.7 356.1,210.4 352.8,210.8 C 349.5,211.2 346.2,211.3 342.1,211.1 C 338.0,210.9 332.7,210.6 328.1,209.4 C 323.6,208.2 318.6,205.7 314.8,203.8 C 311.0,202.0 308.1,200.2 305.2,198.3 C 302.3,196.4 299.7,194.5 297.4,192.5 C 295.1,190.5 293.2,188.5 291.5,186.5 C 289.8,184.5 288.4,182.5 287.4,180.4 C 286.4,178.3 285.7,176.4 285.4,174.1 C 285.1,171.8 285.2,169.0 285.7,166.5 C 286.1,164.0 287.0,161.3 288.1,159.2 C 289.2,157.1 290.5,155.6 292.1,154.0 C 293.8,152.4 295.8,150.9 298.0,149.6 C 300.2,148.3 302.8,147.1 305.6,146.0 C 308.4,144.9 311.5,143.9 314.9,143.1 C 318.3,142.3 321.7,141.7 325.9,141.3 C 330.1,140.9 335.6,140.2 340.3,140.6 C 345.0,141.0 350.1,142.6 354.0,143.8 C 357.9,145.0 360.9,146.2 363.9,147.7 C 366.9,149.2 369.5,151.0 371.8,152.8 C 374.1,154.7 376.1,156.7 377.7,158.8 C 379.3,161.0 380.7,163.2 381.6,165.7 C 382.6,168.1 383.2,170.5 383.4,173.5 C 383.6,176.5 383.2,180.2 382.6,183.5 Z" fill="#a2a2a2" stroke="#666" stroke-width="3.8" stroke-linejoin="round" stroke-linecap="round" opacity="0.9" filter="url(#zb0)"/>
<ellipse cx="343.653" cy="175" rx="24.6" ry="12.7" transform="rotate(10 343.653 175)" fill="#dedede" stroke="none" stroke-width="0.0" opacity="0.95" filter="url(#zb1)"/>
</g></g>
<line x1="29.80" y1="0.00" x2="29.80" y2="60.10" stroke="#2a2a2a" stroke-width="0.9" />
<line x1="0.00" y1="31.80" x2="60.50" y2="31.80" stroke="#2a2a2a" stroke-width="0.9" />
<rect x="0" y="0" width="60.5" height="60.1" fill="none" stroke="#1a1a1a" stroke-width="1.3"/>
<text x="1.90" y="6.70" font-size="8.2" text-anchor="start" font-weight="normal" fill="#111" textLength="14.81" lengthAdjust="spacingAndGlyphs" stroke="#111" stroke-width="0.18">16%</text>
<text x="58.60" y="6.70" font-size="8.2" text-anchor="end" font-weight="normal" fill="#111" textLength="14.81" lengthAdjust="spacingAndGlyphs" stroke="#111" stroke-width="0.18">61%</text>
<text x="1.90" y="57.70" font-size="8.2" text-anchor="start" font-weight="normal" fill="#111" textLength="14.81" lengthAdjust="spacingAndGlyphs" stroke="#111" stroke-width="0.18">15%</text>
<text x="58.60" y="57.70" font-size="8.2" text-anchor="end" font-weight="normal" fill="#111" textLength="10.69" lengthAdjust="spacingAndGlyphs" stroke="#111" stroke-width="0.18">8%</text>
</g>
<g transform="translate(49.80,320.40)">
<clipPath id="cp10"><rect x="0" y="0" width="60.5" height="60.1"/></clipPath>
<g clip-path="url(#cp10)"><g transform="translate(-0.8,-1.4) scale(0.13106)">
<path d="M 70,150 C 93.3,128.3 161.7,111.7 200,100 C 238.3,88.3 268.3,80.8 300,80 C 331.7,79.2 373.3,75.0 390,95 C 406.7,115.0 408.3,175.8 400,200 C 391.7,224.2 356.7,226.7 340,240 C 323.3,253.3 308.3,265.0 300,280 C 291.7,295.0 290.0,310.0 290,330 C 290.0,350.0 306.7,381.7 300,400 C 293.3,418.3 281.7,431.7 250,440 C 218.3,448.3 140.0,465.0 110,450 C 80.0,435.0 78.3,386.7 70,350 C 61.7,313.3 60.0,263.3 60,230 C 60.0,196.7 46.7,171.7 70,150 Z" fill="#dadada" stroke="none" stroke-width="0.0" stroke-linejoin="round" stroke-linecap="round" opacity="1.0" filter="url(#zb2)"/>
<path d="M 70,150 C 93.3,128.3 161.7,111.7 200,100 C 238.3,88.3 268.3,80.8 300,80 C 331.7,79.2 373.3,75.0 390,95 C 406.7,115.0 408.3,175.8 400,200 C 391.7,224.2 356.7,226.7 340,240 C 323.3,253.3 308.3,265.0 300,280 C 291.7,295.0 290.0,310.0 290,330 C 290.0,350.0 306.7,381.7 300,400 C 293.3,418.3 281.7,431.7 250,440 C 218.3,448.3 140.0,465.0 110,450 C 80.0,435.0 78.3,386.7 70,350 C 61.7,313.3 60.0,263.3 60,230 C 60.0,196.7 46.7,171.7 70,150 Z" fill="none" stroke="#c4c4c4" stroke-width="4.6" stroke-linejoin="round" stroke-linecap="round" opacity="0.7" filter="url(#zb0)"/>
<path d="M 75,160 C 95.8,129.2 173.3,120.8 200,115 C 226.7,109.2 230.0,114.2 235,125 C 240.0,135.8 235.8,165.8 230,180 C 224.2,194.2 210.0,196.7 200,210 C 190.0,223.3 174.2,240.0 170,260 C 165.8,280.0 165.0,310.0 175,330 C 185.0,350.0 214.2,368.3 230,380 C 245.8,391.7 266.7,391.7 270,400 C 273.3,408.3 268.3,423.3 250,430 C 231.7,436.7 185.0,445.0 160,440 C 135.0,435.0 114.2,423.3 100,400 C 85.8,376.7 79.2,340.0 75,300 C 70.8,260.0 54.2,190.8 75,160 Z" fill="#ababab" stroke="none" stroke-width="0.0" stroke-linejoin="round" stroke-linecap="round" opacity="1.0" filter="url(#zb1)"/>
<path d="M 75.0,160.0 C 95.8,129.2 173.3,120.8 200.0,115.0 C 226.7,109.2 230.0,114.2 235.0,125.0 C 240.0,135.8 235.8,165.8 230.0,180.0 C 224.2,194.2 210.0,196.7 200.0,210.0 C 190.0,223.3 174.2,240.0 170.0,260.0 C 165.8,280.0 165.0,310.0 175.0,330.0 C 185.0,350.0 214.2,368.3 230.0,380.0 C 245.8,391.7 266.7,391.7 270.0,400.0 C 273.3,408.3 268.3,423.3 250.0,430.0 C 231.7,436.7 185.0,445.0 160.0,440.0 C 135.0,435.0 114.2,423.3 100.0,400.0 C 85.8,376.7 79.2,340.0 75.0,300.0 C 70.8,260.0 54.2,190.8 75.0,160.0 Z" fill="none" stroke="#7a7a7a" stroke-width="5.3" stroke-linejoin="round" stroke-linecap="round" opacity="0.85" filter="url(#zb0)"/>
<path d="M 96.5,185.4 C 113.2,160.7 175.2,154.1 196.5,149.4 C 217.8,144.7 220.5,148.7 224.5,157.4 C 228.5,166.1 225.2,190.1 220.5,201.4 C 215.8,212.7 204.5,214.7 196.5,225.4 C 188.5,236.1 175.8,249.4 172.5,265.4 C 169.2,281.4 168.5,305.4 176.5,321.4 C 184.5,337.4 207.8,352.1 220.5,361.4 C 233.2,370.7 249.8,370.7 252.5,377.4 C 255.2,384.1 251.2,396.1 236.5,401.4 C 221.8,406.7 184.5,413.4 164.5,409.4 C 144.5,405.4 127.8,396.1 116.5,377.4 C 105.2,358.7 99.8,329.4 96.5,297.4 C 93.2,265.4 79.8,210.1 96.5,185.4 Z" fill="none" stroke="#888" stroke-width="5.3" stroke-linejoin="round" stroke-linecap="round" opacity="0.85" filter="url(#zb0)"/>
<path d="M 117.9,210.8 C 130.4,192.3 176.9,187.3 192.9,183.8 C 208.9,180.3 210.9,183.3 213.9,189.8 C 216.9,196.3 214.4,214.3 210.9,222.8 C 207.4,231.3 198.9,232.8 192.9,240.8 C 186.9,248.8 177.4,258.8 174.9,270.8 C 172.4,282.8 171.9,300.8 177.9,312.8 C 183.9,324.8 201.4,335.8 210.9,342.8 C 220.4,349.8 232.9,349.8 234.9,354.8 C 236.9,359.8 233.9,368.8 222.9,372.8 C 211.9,376.8 183.9,381.8 168.9,378.8 C 153.9,375.8 141.4,368.8 132.9,354.8 C 124.4,340.8 120.4,318.8 117.9,294.8 C 115.4,270.8 105.4,229.3 117.9,210.8 Z" fill="none" stroke="#959595" stroke-width="5.3" stroke-linejoin="round" stroke-linecap="round" opacity="0.85" filter="url(#zb0)"/>
<path d="M 230,118 C 218.3,118.7 181.7,118.3 160,122 C 138.3,125.7 113.3,130.3 100,140 C 86.7,149.7 84.2,161.7 80,180 C 75.8,198.3 74.7,226.7 75,250 C 75.3,273.3 77.8,296.7 82,320 C 86.2,343.3 90.3,372.5 100,390 C 109.7,407.5 125.0,416.7 140,425 C 155.0,433.3 181.7,437.5 190,440 " fill="none" stroke="#3c3c3c" stroke-width="34.3" stroke-linejoin="round" stroke-linecap="round" opacity="0.5" filter="url(#zb1)"/>
<path d="M 230,118 C 218.3,118.7 181.7,118.3 160,122 C 138.3,125.7 113.3,130.3 100,140 C 86.7,149.7 84.2,161.7 80,180 C 75.8,198.3 74.7,226.7 75,250 C 75.3,273.3 77.8,296.7 82,320 C 86.2,343.3 90.3,372.5 100,390 C 109.7,407.5 125.0,416.7 140,425 C 155.0,433.3 181.7,437.5 190,440 " fill="none" stroke="#3c3c3c" stroke-width="17.2" stroke-linejoin="round" stroke-linecap="round" opacity="1.0" filter="url(#zb0)"/>
<path d="M 200,200 C 195.8,210.0 178.3,238.3 175,260 C 171.7,281.7 170.8,310.8 180,330 C 189.2,349.2 221.7,367.5 230,375 " fill="none" stroke="#707070" stroke-width="25.2" stroke-linejoin="round" stroke-linecap="round" opacity="0.5" filter="url(#zb1)"/>
<path d="M 200,200 C 195.8,210.0 178.3,238.3 175,260 C 171.7,281.7 170.8,310.8 180,330 C 189.2,349.2 221.7,367.5 230,375 " fill="none" stroke="#707070" stroke-width="12.6" stroke-linejoin="round" stroke-linecap="round" opacity="1.0" filter="url(#zb0)"/>
<path d="M 400.1,183.5 C 398.1,190.9 395.2,199.2 392.1,205.3 C 389.0,211.4 385.7,216.0 381.7,220.3 C 377.7,224.7 373.2,228.3 368.3,231.4 C 363.4,234.5 358.0,237.0 352.1,238.8 C 346.2,240.6 339.9,241.8 333.2,242.3 C 326.5,242.8 319.9,242.8 311.7,241.8 C 303.5,240.8 293.0,239.1 284.1,236.1 C 275.2,233.1 265.6,228.0 258.2,223.9 C 250.8,219.8 245.2,215.9 239.8,211.6 C 234.4,207.3 229.6,202.7 225.5,198.0 C 221.4,193.3 218.0,188.5 215.2,183.5 C 212.4,178.5 210.2,173.4 208.8,168.2 C 207.4,163.0 206.6,158.0 206.8,152.1 C 207.0,146.2 208.2,138.8 209.9,132.5 C 211.6,126.2 214.2,119.2 217.0,114.0 C 219.8,108.8 223.0,104.8 226.8,101.0 C 230.6,97.2 235.1,93.9 240.0,91.0 C 244.9,88.1 250.3,85.6 256.2,83.6 C 262.1,81.6 268.4,80.0 275.3,79.0 C 282.2,78.0 289.0,77.3 297.4,77.5 C 305.8,77.7 316.7,78.0 325.9,79.9 C 335.1,81.8 345.1,85.6 352.7,88.8 C 360.3,92.0 366.0,95.3 371.6,99.1 C 377.2,102.9 382.0,107.0 386.2,111.5 C 390.4,116.0 393.9,120.9 396.6,126.1 C 399.3,131.2 401.4,136.7 402.6,142.4 C 403.9,148.2 404.5,153.8 404.1,160.6 C 403.7,167.4 402.1,176.1 400.1,183.5 Z" fill="#acacac" stroke="none" stroke-width="0.0" stroke-linejoin="round" stroke-linecap="round" opacity="0.9" filter="url(#zb2)"/>
<path d="M 390.5,180.9 C 388.8,187.4 386.2,194.6 383.5,200.0 C 380.8,205.4 377.7,209.4 374.2,213.2 C 370.7,217.0 366.7,220.2 362.3,222.9 C 357.9,225.6 352.9,227.7 347.7,229.3 C 342.4,230.9 336.8,231.9 330.8,232.3 C 324.8,232.7 318.9,232.7 311.5,231.7 C 304.1,230.7 294.6,229.3 286.6,226.5 C 278.6,223.7 270.2,218.6 263.6,214.7 C 257.0,210.8 252.1,207.1 247.2,203.1 C 242.3,199.1 238.1,195.0 234.4,190.8 C 230.7,186.6 227.6,182.3 225.0,178.0 C 222.4,173.7 220.4,169.3 219.1,164.9 C 217.8,160.5 217.0,156.3 217.1,151.3 C 217.2,146.3 218.1,140.3 219.5,135.1 C 220.9,129.8 223.1,124.1 225.5,119.8 C 227.9,115.5 230.7,112.3 234.1,109.1 C 237.5,105.9 241.3,103.1 245.7,100.6 C 250.1,98.1 255.0,96.0 260.3,94.2 C 265.6,92.4 271.3,91.0 277.5,90.0 C 283.7,89.0 289.9,88.3 297.5,88.2 C 305.1,88.1 315.1,88.0 323.4,89.5 C 331.7,91.0 340.5,94.6 347.4,97.4 C 354.2,100.2 359.5,103.2 364.5,106.6 C 369.5,110.0 373.9,113.6 377.6,117.6 C 381.4,121.6 384.5,125.9 387.0,130.4 C 389.5,134.9 391.3,139.7 392.5,144.8 C 393.7,149.9 394.3,154.8 394.0,160.8 C 393.7,166.8 392.2,174.4 390.5,180.9 Z" fill="none" stroke="#7a7a7a" stroke-width="5.3" stroke-linejoin="round" stroke-linecap="round" opacity="0.8" filter="url(#zb0)"/>
<path d="M 383.1,178.9 C 381.5,184.7 379.2,191.2 376.8,196.0 C 374.4,200.8 371.6,204.3 368.4,207.7 C 365.2,211.1 361.6,213.9 357.6,216.3 C 353.6,218.7 349.1,220.5 344.3,221.9 C 339.5,223.3 334.4,224.2 328.9,224.5 C 323.4,224.8 318.0,224.8 311.3,223.9 C 304.6,223.0 295.9,221.9 288.6,219.2 C 281.4,216.5 273.8,211.4 267.8,207.6 C 261.9,203.8 257.3,200.3 252.9,196.6 C 248.5,192.9 244.6,189.1 241.2,185.3 C 237.8,181.5 234.9,177.6 232.6,173.8 C 230.2,170.0 228.4,166.2 227.1,162.3 C 225.8,158.5 225.0,154.9 225.0,150.7 C 225.0,146.5 225.7,141.5 226.9,137.1 C 228.1,132.7 230.0,127.9 232.1,124.3 C 234.2,120.7 236.7,118.0 239.7,115.3 C 242.7,112.6 246.2,110.2 250.2,108.1 C 254.1,106.0 258.6,104.1 263.4,102.5 C 268.2,100.9 273.5,99.5 279.2,98.5 C 284.9,97.5 290.6,96.7 297.6,96.4 C 304.6,96.1 313.8,95.5 321.4,96.8 C 329.0,98.1 337.1,101.5 343.4,104.1 C 349.7,106.7 354.4,109.4 359.0,112.4 C 363.6,115.4 367.6,118.7 371.0,122.3 C 374.4,125.9 377.4,129.7 379.7,133.8 C 382.0,137.9 383.7,142.2 384.8,146.7 C 385.9,151.2 386.5,155.6 386.2,161.0 C 385.9,166.4 384.7,173.1 383.1,178.9 Z" fill="#7c7c7c" stroke="#3a3a3a" stroke-width="9.6" stroke-linejoin="round" stroke-linecap="round" opacity="1.0" filter="url(#zb0)"/>
<path d="M 233.1,122.6 C 234.3,121.3 237.4,117.2 240.2,114.8 C 242.9,112.4 246.1,110.3 249.6,108.4 C 253.1,106.5 256.9,104.7 261.1,103.2 C 265.3,101.7 269.8,100.5 274.7,99.4 C 279.6,98.4 284.7,97.4 290.3,96.9 C 295.9,96.4 301.5,95.7 308.4,96.2 C 315.3,96.7 325.2,98.2 331.9,99.9 C 338.6,101.6 343.5,104.0 348.4,106.4 C 353.3,108.8 357.6,111.3 361.5,114.1 C 365.4,116.9 368.9,119.9 371.9,123.1 C 374.9,126.3 377.4,129.8 379.5,133.4 C 381.6,137.0 383.2,140.8 384.3,144.8 C 385.4,148.8 386.1,152.9 386.2,157.3 C 386.3,161.7 385.9,166.1 384.9,171.4 C 383.8,176.7 381.8,184.2 379.9,189.2 C 378.0,194.2 376.0,197.8 373.6,201.4 C 371.2,205.0 368.4,208.1 365.3,210.8 C 362.2,213.5 358.7,215.8 355.0,217.7 C 351.3,219.6 347.2,221.2 342.9,222.3 C 338.6,223.4 334.0,224.2 329.1,224.5 C 324.2,224.8 319.1,224.7 313.5,224.1 C 307.9,223.5 301.8,223.1 295.2,220.9 C 288.6,218.8 279.6,214.4 273.6,211.2 C 267.6,208.0 261.5,203.2 259.1,201.6 " fill="none" stroke="#0c0c0c" stroke-width="14.4" stroke-linejoin="round" stroke-linecap="round" opacity="1.0" filter="url(#zb0)"/>
<path d="M 242.9,112.7 C 244.4,111.8 248.5,109.0 251.7,107.3 C 254.9,105.6 258.5,104.1 262.3,102.8 C 266.1,101.5 270.1,100.3 274.4,99.4 C 278.7,98.5 283.3,97.7 288.2,97.2 C 293.1,96.7 297.7,96.1 303.8,96.2 C 309.9,96.3 318.3,96.5 324.6,97.7 C 330.9,98.9 336.4,101.3 341.4,103.3 C 346.4,105.3 350.5,107.3 354.5,109.6 C 358.5,111.9 362.0,114.3 365.2,116.9 C 368.4,119.5 371.3,122.3 373.8,125.3 C 376.3,128.2 378.4,131.3 380.1,134.6 C 381.9,137.8 383.3,141.2 384.3,144.8 C 385.3,148.4 385.9,152.0 386.1,155.9 C 386.3,159.8 386.2,163.4 385.5,168.1 C 384.8,172.8 383.1,179.6 381.6,184.3 C 380.1,189.0 378.4,192.9 376.5,196.5 C 374.6,200.1 372.4,203.1 370.0,205.9 C 367.6,208.7 364.8,211.2 361.9,213.4 C 358.9,215.6 355.8,217.4 352.3,219.0 C 348.9,220.6 345.1,221.9 341.2,222.8 C 337.3,223.7 333.2,224.2 328.8,224.5 C 324.4,224.8 319.9,224.8 315.0,224.3 C 310.1,223.9 305.2,223.5 299.2,221.8 C 293.2,220.1 282.4,215.5 279.0,214.2 " fill="none" stroke="#141414" stroke-width="8.2" stroke-linejoin="round" stroke-linecap="round" opacity="1.0"/>
<path d="M 369.3,173.5 C 368.2,177.5 366.6,181.9 364.9,185.1 C 363.2,188.3 361.2,190.6 358.9,192.9 C 356.6,195.2 353.9,197.1 351.0,198.7 C 348.1,200.3 344.9,201.4 341.4,202.3 C 337.9,203.2 334.2,203.8 330.1,203.9 C 326.1,204.1 322.1,203.9 317.1,203.2 C 312.1,202.5 305.7,201.6 300.3,199.6 C 294.9,197.6 289.2,194.1 284.8,191.4 C 280.4,188.8 277.0,186.3 273.7,183.7 C 270.4,181.1 267.4,178.4 264.9,175.7 C 262.3,173.0 260.2,170.3 258.4,167.7 C 256.6,165.0 255.2,162.5 254.2,159.8 C 253.2,157.2 252.6,154.7 252.5,151.8 C 252.4,148.9 252.9,145.5 253.7,142.5 C 254.5,139.5 255.8,136.3 257.3,133.9 C 258.8,131.5 260.6,129.6 262.8,127.8 C 265.0,126.0 267.5,124.4 270.4,123.0 C 273.3,121.6 276.5,120.4 280.0,119.4 C 283.5,118.4 287.4,117.5 291.6,116.9 C 295.8,116.3 299.9,115.9 305.1,115.8 C 310.3,115.7 317.0,115.4 322.6,116.4 C 328.2,117.4 334.2,119.8 338.9,121.7 C 343.5,123.6 347.1,125.4 350.5,127.6 C 353.9,129.8 356.9,132.1 359.5,134.6 C 362.1,137.1 364.4,139.8 366.1,142.6 C 367.9,145.4 369.1,148.4 370.0,151.5 C 370.9,154.6 371.4,157.6 371.3,161.3 C 371.2,165.0 370.4,169.5 369.3,173.5 Z" fill="none" stroke="#555" stroke-width="4.6" stroke-linejoin="round" stroke-linecap="round" opacity="0.9" filter="url(#zb0)"/>
<path d="M 357.8,168.9 C 357.1,171.5 356.0,174.3 354.8,176.4 C 353.6,178.5 352.4,180.0 350.8,181.4 C 349.2,182.8 347.4,184.0 345.4,185.0 C 343.4,186.0 341.1,186.8 338.7,187.3 C 336.3,187.8 333.6,188.1 330.8,188.1 C 328.0,188.1 325.2,188.0 321.7,187.5 C 318.2,187.0 313.7,186.2 309.9,184.9 C 306.1,183.6 302.1,181.2 299.0,179.4 C 295.9,177.6 293.5,175.9 291.1,174.2 C 288.7,172.4 286.6,170.7 284.8,168.9 C 283.0,167.1 281.5,165.3 280.2,163.6 C 278.9,161.8 277.8,160.1 277.1,158.4 C 276.4,156.7 275.9,155.1 275.8,153.2 C 275.7,151.3 276.0,149.0 276.5,147.1 C 277.0,145.2 277.9,143.1 278.9,141.5 C 279.9,139.9 281.2,138.8 282.7,137.7 C 284.2,136.6 285.9,135.6 287.9,134.7 C 289.9,133.8 292.1,133.0 294.6,132.4 C 297.1,131.8 299.8,131.3 302.7,131.0 C 305.6,130.7 308.5,130.4 312.1,130.4 C 315.7,130.4 320.4,130.4 324.3,131.1 C 328.2,131.8 332.5,133.5 335.8,134.8 C 339.1,136.1 341.6,137.4 344.0,138.8 C 346.4,140.2 348.5,141.8 350.4,143.4 C 352.2,145.1 353.8,146.8 355.1,148.7 C 356.4,150.6 357.4,152.5 358.0,154.6 C 358.6,156.7 359.0,158.6 359.0,161.0 C 359.0,163.4 358.5,166.3 357.8,168.9 Z" fill="#a2a2a2" stroke="#666" stroke-width="3.8" stroke-linejoin="round" stroke-linecap="round" opacity="0.9" filter="url(#zb0)"/>
<ellipse cx="325.2195" cy="158" rx="21.0" ry="10.1" transform="rotate(15 325.2195 158)" fill="#dedede" stroke="none" stroke-width="0.0" opacity="0.95" filter="url(#zb1)"/>
</g></g>
<line x1="29.80" y1="0.00" x2="29.80" y2="60.10" stroke="#2a2a2a" stroke-width="0.9" />
<line x1="0.00" y1="31.80" x2="60.50" y2="31.80" stroke="#2a2a2a" stroke-width="0.9" />
<rect x="0" y="0" width="60.5" height="60.1" fill="none" stroke="#1a1a1a" stroke-width="1.3"/>
<text x="1.90" y="6.70" font-size="8.2" text-anchor="start" font-weight="normal" fill="#111" textLength="14.81" lengthAdjust="spacingAndGlyphs" stroke="#111" stroke-width="0.18">17%</text>
<text x="58.60" y="6.70" font-size="8.2" text-anchor="end" font-weight="normal" fill="#111" textLength="14.81" lengthAdjust="spacingAndGlyphs" stroke="#111" stroke-width="0.18">59%</text>
<text x="1.90" y="57.70" font-size="8.2" text-anchor="start" font-weight="normal" fill="#111" textLength="14.81" lengthAdjust="spacingAndGlyphs" stroke="#111" stroke-width="0.18">17%</text>
<text x="58.60" y="57.70" font-size="8.2" text-anchor="end" font-weight="normal" fill="#111" textLength="10.69" lengthAdjust="spacingAndGlyphs" stroke="#111" stroke-width="0.18">4%</text>
</g>
<g transform="translate(114.10,320.40)">
<clipPath id="cp11"><rect x="0" y="0" width="60.5" height="60.1"/></clipPath>
<g clip-path="url(#cp11)"><g transform="translate(-1.1,-1.4) scale(0.13106)">
<path d="M 80,140 C 100.8,108.3 165.0,117.5 200,110 C 235.0,102.5 259.2,95.8 290,95 C 320.8,94.2 368.3,87.5 385,105 C 401.7,122.5 399.2,174.2 390,200 C 380.8,225.8 340.0,243.3 330,260 C 320.0,276.7 336.7,276.7 330,300 C 323.3,323.3 301.7,380.0 290,400 C 278.3,420.0 293.3,415.0 260,420 C 226.7,425.0 120.8,450.0 90,430 C 59.2,410.0 76.7,348.3 75,300 C 73.3,251.7 59.2,171.7 80,140 Z" fill="#dadada" stroke="none" stroke-width="0.0" stroke-linejoin="round" stroke-linecap="round" opacity="1.0" filter="url(#zb2)"/>
<path d="M 80,140 C 100.8,108.3 165.0,117.5 200,110 C 235.0,102.5 259.2,95.8 290,95 C 320.8,94.2 368.3,87.5 385,105 C 401.7,122.5 399.2,174.2 390,200 C 380.8,225.8 340.0,243.3 330,260 C 320.0,276.7 336.7,276.7 330,300 C 323.3,323.3 301.7,380.0 290,400 C 278.3,420.0 293.3,415.0 260,420 C 226.7,425.0 120.8,450.0 90,430 C 59.2,410.0 76.7,348.3 75,300 C 73.3,251.7 59.2,171.7 80,140 Z" fill="none" stroke="#c4c4c4" stroke-width="4.6" stroke-linejoin="round" stroke-linecap="round" opacity="0.7" filter="url(#zb0)"/>
<path d="M 82,150 C 103.3,120.8 187.0,121.7 210,125 C 233.0,128.3 224.2,159.2 220,170 C 215.8,180.8 192.5,175.0 185,190 C 177.5,205.0 175.8,228.3 175,260 C 174.2,291.7 170.8,355.0 180,380 C 189.2,405.0 226.7,402.5 230,410 C 233.3,417.5 221.7,423.3 200,425 C 178.3,426.7 119.7,440.8 100,420 C 80.3,399.2 85.0,345.0 82,300 C 79.0,255.0 60.7,179.2 82,150 Z" fill="#ababab" stroke="none" stroke-width="0.0" stroke-linejoin="round" stroke-linecap="round" opacity="1.0" filter="url(#zb1)"/>
<path d="M 82.0,150.0 C 103.3,120.8 187.0,121.7 210.0,125.0 C 233.0,128.3 224.2,159.2 220.0,170.0 C 215.8,180.8 192.5,175.0 185.0,190.0 C 177.5,205.0 175.8,228.3 175.0,260.0 C 174.2,291.7 170.8,355.0 180.0,380.0 C 189.2,405.0 226.7,402.5 230.0,410.0 C 233.3,417.5 221.7,423.3 200.0,425.0 C 178.3,426.7 119.7,440.8 100.0,420.0 C 80.3,399.2 85.0,345.0 82.0,300.0 C 79.0,255.0 60.7,179.2 82.0,150.0 Z" fill="none" stroke="#7a7a7a" stroke-width="5.3" stroke-linejoin="round" stroke-linecap="round" opacity="0.85" filter="url(#zb0)"/>
<path d="M 98.9,176.6 C 116.0,153.3 182.9,153.9 201.3,156.6 C 219.7,159.3 212.6,183.9 209.3,192.6 C 206.0,201.3 187.3,196.6 181.3,208.6 C 175.3,220.6 174.0,239.3 173.3,264.6 C 172.6,289.9 170.0,340.6 177.3,360.6 C 184.6,380.6 214.6,378.6 217.3,384.6 C 220.0,390.6 210.6,395.3 193.3,396.6 C 176.0,397.9 129.0,409.3 113.3,392.6 C 97.6,375.9 101.3,332.6 98.9,296.6 C 96.5,260.6 81.8,199.9 98.9,176.6 Z" fill="none" stroke="#888" stroke-width="5.3" stroke-linejoin="round" stroke-linecap="round" opacity="0.85" filter="url(#zb0)"/>
<path d="M 115.8,203.2 C 128.6,185.7 178.8,186.2 192.6,188.2 C 206.4,190.2 201.1,208.7 198.6,215.2 C 196.1,221.7 182.1,218.2 177.6,227.2 C 173.1,236.2 172.1,250.2 171.6,269.2 C 171.1,288.2 169.1,326.2 174.6,341.2 C 180.1,356.2 202.6,354.7 204.6,359.2 C 206.6,363.7 199.6,367.2 186.6,368.2 C 173.6,369.2 138.4,377.7 126.6,365.2 C 114.8,352.7 117.6,320.2 115.8,293.2 C 114.0,266.2 103.0,220.7 115.8,203.2 Z" fill="none" stroke="#959595" stroke-width="5.3" stroke-linejoin="round" stroke-linecap="round" opacity="0.85" filter="url(#zb0)"/>
<path d="M 215,130 C 204.2,130.0 169.2,128.3 150,130 C 130.8,131.7 110.3,132.5 100,140 C 89.7,147.5 90.3,155.0 88,175 C 85.7,195.0 85.7,230.8 86,260 C 86.3,289.2 87.7,325.8 90,350 C 92.3,374.2 91.7,394.2 100,405 C 108.3,415.8 120.8,414.2 140,415 C 159.2,415.8 202.5,410.8 215,410 " fill="none" stroke="#3c3c3c" stroke-width="34.3" stroke-linejoin="round" stroke-linecap="round" opacity="0.5" filter="url(#zb1)"/>
<path d="M 215,130 C 204.2,130.0 169.2,128.3 150,130 C 130.8,131.7 110.3,132.5 100,140 C 89.7,147.5 90.3,155.0 88,175 C 85.7,195.0 85.7,230.8 86,260 C 86.3,289.2 87.7,325.8 90,350 C 92.3,374.2 91.7,394.2 100,405 C 108.3,415.8 120.8,414.2 140,415 C 159.2,415.8 202.5,410.8 215,410 " fill="none" stroke="#3c3c3c" stroke-width="17.2" stroke-linejoin="round" stroke-linecap="round" opacity="1.0" filter="url(#zb0)"/>
<path d="M 155,190 C 154.2,201.7 150.0,235.0 150,260 C 150.0,285.0 150.8,316.7 155,340 C 159.2,363.3 171.7,390.0 175,400 " fill="none" stroke="#555" stroke-width="32.0" stroke-linejoin="round" stroke-linecap="round" opacity="0.5" filter="url(#zb1)"/>
<path d="M 155,190 C 154.2,201.7 150.0,235.0 150,260 C 150.0,285.0 150.8,316.7 155,340 C 159.2,363.3 171.7,390.0 175,400 " fill="none" stroke="#555" stroke-width="16.0" stroke-linejoin="round" stroke-linecap="round" opacity="1.0" filter="url(#zb0)"/>
<path d="M 398.0,191.8 C 395.9,198.4 392.7,205.6 389.5,210.9 C 386.3,216.2 382.7,220.0 378.6,223.6 C 374.5,227.2 369.8,230.1 364.7,232.4 C 359.6,234.7 353.9,236.5 347.8,237.6 C 341.7,238.7 335.2,239.3 328.3,239.1 C 321.4,238.9 314.6,238.3 306.1,236.6 C 297.7,234.9 286.8,232.4 277.6,228.9 C 268.4,225.4 258.6,219.9 251.0,215.5 C 243.4,211.1 237.8,207.0 232.2,202.6 C 226.6,198.2 221.7,193.6 217.5,189.0 C 213.3,184.4 209.7,179.7 206.9,174.9 C 204.1,170.2 202.0,165.4 200.6,160.5 C 199.2,155.6 198.4,151.0 198.6,145.6 C 198.8,140.2 200.2,133.8 202.0,128.2 C 203.8,122.6 206.6,116.5 209.6,112.0 C 212.6,107.5 215.8,104.3 219.8,101.2 C 223.8,98.1 228.4,95.5 233.5,93.3 C 238.6,91.1 244.2,89.4 250.3,88.1 C 256.4,86.8 263.0,86.0 270.1,85.7 C 277.2,85.4 284.3,85.4 293.0,86.3 C 301.7,87.2 312.9,88.5 322.4,91.1 C 331.9,93.6 342.1,98.0 349.9,101.6 C 357.7,105.2 363.7,108.8 369.4,112.7 C 375.1,116.7 380.1,120.8 384.3,125.3 C 388.6,129.8 392.1,134.5 394.9,139.4 C 397.7,144.3 399.8,149.5 401.0,154.8 C 402.2,160.2 402.8,165.3 402.3,171.5 C 401.8,177.7 400.1,185.2 398.0,191.8 Z" fill="#acacac" stroke="none" stroke-width="0.0" stroke-linejoin="round" stroke-linecap="round" opacity="0.9" filter="url(#zb2)"/>
<path d="M 388.5,188.8 C 386.6,194.5 383.9,200.7 381.1,205.2 C 378.3,209.7 375.2,212.9 371.5,216.0 C 367.8,219.1 363.7,221.6 359.1,223.6 C 354.5,225.6 349.4,227.0 344.0,227.9 C 338.6,228.8 332.7,229.1 326.4,228.9 C 320.1,228.7 314.0,228.1 306.4,226.5 C 298.8,224.9 289.0,222.8 280.7,219.5 C 272.4,216.2 263.6,210.8 256.8,206.7 C 250.0,202.6 244.9,198.8 239.9,194.8 C 234.9,190.8 230.5,186.6 226.7,182.5 C 222.9,178.4 219.6,174.3 217.0,170.2 C 214.4,166.1 212.3,162.0 211.0,157.9 C 209.7,153.8 208.8,149.9 208.9,145.5 C 209.0,141.1 210.0,135.8 211.5,131.2 C 213.0,126.6 215.3,121.8 217.8,118.2 C 220.3,114.6 223.2,111.9 226.7,109.4 C 230.2,106.9 234.3,104.8 238.8,103.0 C 243.3,101.2 248.4,99.8 253.9,98.7 C 259.4,97.6 265.4,96.8 271.8,96.5 C 278.2,96.2 284.6,96.2 292.5,96.9 C 300.4,97.6 310.7,98.3 319.3,100.5 C 327.9,102.7 337.1,106.8 344.2,110.0 C 351.3,113.2 356.7,116.3 361.9,119.8 C 367.1,123.3 371.6,127.0 375.5,130.9 C 379.4,134.8 382.6,139.0 385.2,143.3 C 387.8,147.6 389.6,152.0 390.8,156.7 C 392.0,161.3 392.6,165.8 392.2,171.2 C 391.8,176.5 390.4,183.1 388.5,188.8 Z" fill="none" stroke="#7a7a7a" stroke-width="5.3" stroke-linejoin="round" stroke-linecap="round" opacity="0.8" filter="url(#zb0)"/>
<path d="M 381.3,186.4 C 379.7,191.4 377.2,196.8 374.7,200.8 C 372.1,204.8 369.3,207.6 366.0,210.3 C 362.7,213.0 359.0,215.1 354.8,216.8 C 350.6,218.5 346.0,219.7 341.0,220.4 C 336.0,221.1 330.7,221.4 325.0,221.1 C 319.3,220.8 313.6,220.2 306.6,218.7 C 299.6,217.2 290.6,215.3 283.0,212.2 C 275.4,209.1 267.5,203.8 261.3,199.9 C 255.1,196.0 250.4,192.5 245.8,188.8 C 241.2,185.1 237.2,181.3 233.7,177.6 C 230.2,173.9 227.1,170.2 224.7,166.6 C 222.2,163.0 220.3,159.4 219.0,155.9 C 217.7,152.4 216.9,149.1 216.8,145.4 C 216.8,141.7 217.5,137.3 218.7,133.6 C 219.9,129.8 221.9,125.9 224.1,122.9 C 226.3,119.9 228.9,117.8 232.0,115.7 C 235.1,113.6 238.8,111.9 242.9,110.4 C 247.0,108.9 251.7,107.7 256.7,106.8 C 261.7,105.9 267.2,105.2 273.1,104.9 C 279.0,104.6 284.9,104.5 292.2,105.0 C 299.5,105.5 309.1,105.9 317.0,107.8 C 324.9,109.7 333.4,113.5 339.9,116.4 C 346.4,119.3 351.3,122.1 356.1,125.3 C 360.9,128.4 365.1,131.8 368.7,135.3 C 372.3,138.8 375.3,142.5 377.7,146.3 C 380.1,150.1 381.9,154.1 383.0,158.2 C 384.1,162.3 384.7,166.2 384.4,170.9 C 384.1,175.6 382.9,181.4 381.3,186.4 Z" fill="#7c7c7c" stroke="#3a3a3a" stroke-width="10.1" stroke-linejoin="round" stroke-linecap="round" opacity="1.0" filter="url(#zb0)"/>
<path d="M 225.2,121.5 C 226.4,120.5 229.8,117.2 232.6,115.4 C 235.4,113.6 238.7,112.1 242.3,110.7 C 245.9,109.3 250.0,108.2 254.3,107.3 C 258.6,106.4 263.3,105.6 268.4,105.2 C 273.4,104.8 278.8,104.6 284.6,104.7 C 290.4,104.8 296.2,104.8 303.4,105.9 C 310.6,107.0 320.9,109.3 327.9,111.5 C 334.8,113.7 340.0,116.3 345.1,118.9 C 350.2,121.5 354.6,124.2 358.7,127.1 C 362.8,130.0 366.4,133.0 369.5,136.1 C 372.6,139.2 375.2,142.5 377.4,145.9 C 379.6,149.3 381.3,152.9 382.5,156.5 C 383.7,160.1 384.3,163.8 384.4,167.7 C 384.5,171.6 384.2,175.4 383.1,180.0 C 382.0,184.6 379.9,191.0 377.9,195.2 C 375.9,199.4 373.8,202.3 371.3,205.2 C 368.8,208.1 365.9,210.5 362.7,212.6 C 359.5,214.7 356.0,216.4 352.1,217.7 C 348.2,219.0 344.0,220.0 339.5,220.6 C 335.0,221.2 330.2,221.3 325.1,221.1 C 320.0,220.9 314.8,220.3 308.9,219.2 C 303.0,218.1 296.7,217.0 289.8,214.4 C 282.9,211.8 273.8,207.1 267.5,203.7 C 261.2,200.2 254.8,195.4 252.3,193.7 " fill="none" stroke="#0c0c0c" stroke-width="15.2" stroke-linejoin="round" stroke-linecap="round" opacity="1.0" filter="url(#zb0)"/>
<path d="M 235.3,113.8 C 236.8,113.2 241.1,111.0 244.5,109.9 C 247.9,108.8 251.6,107.8 255.5,107.0 C 259.4,106.2 263.7,105.7 268.2,105.3 C 272.7,104.9 277.4,104.7 282.5,104.7 C 287.6,104.7 292.4,104.7 298.7,105.4 C 305.0,106.1 313.8,107.2 320.3,108.9 C 326.8,110.6 332.6,113.2 337.8,115.5 C 343.0,117.8 347.3,120.0 351.4,122.4 C 355.5,124.8 359.2,127.3 362.6,129.9 C 366.0,132.5 368.9,135.3 371.5,138.2 C 374.1,141.0 376.3,143.9 378.1,147.0 C 379.9,150.1 381.4,153.3 382.5,156.5 C 383.6,159.7 384.2,163.0 384.4,166.4 C 384.6,169.8 384.5,173.0 383.7,177.1 C 382.9,181.2 381.2,187.0 379.7,191.0 C 378.1,195.0 376.4,198.2 374.4,201.2 C 372.4,204.2 370.2,206.7 367.7,208.9 C 365.2,211.2 362.4,213.1 359.3,214.7 C 356.2,216.3 352.9,217.6 349.3,218.6 C 345.7,219.6 341.9,220.4 337.8,220.8 C 333.7,221.2 329.4,221.3 324.8,221.1 C 320.2,220.9 315.6,220.3 310.5,219.4 C 305.4,218.5 300.4,217.7 294.1,215.6 C 287.9,213.5 276.5,208.3 273.0,206.9 " fill="none" stroke="#141414" stroke-width="8.7" stroke-linejoin="round" stroke-linecap="round" opacity="1.0"/>
<path d="M 367.0,179.5 C 365.9,182.9 364.2,186.6 362.4,189.3 C 360.6,192.0 358.6,193.8 356.2,195.6 C 353.8,197.4 351.0,198.8 348.0,199.9 C 345.0,201.0 341.6,201.7 338.0,202.1 C 334.4,202.5 330.4,202.6 326.2,202.3 C 322.0,202.0 317.8,201.5 312.7,200.4 C 307.6,199.3 300.9,197.8 295.3,195.5 C 289.7,193.2 283.8,189.5 279.2,186.7 C 274.6,183.9 271.1,181.4 267.6,178.8 C 264.1,176.2 261.1,173.5 258.4,170.9 C 255.7,168.3 253.4,165.7 251.6,163.2 C 249.8,160.7 248.3,158.1 247.3,155.7 C 246.3,153.2 245.6,151.0 245.5,148.5 C 245.4,146.0 245.9,143.1 246.7,140.5 C 247.5,137.9 248.8,135.2 250.4,133.2 C 252.0,131.2 253.8,129.8 256.1,128.4 C 258.4,127.0 261.0,125.9 264.0,125.0 C 267.0,124.1 270.4,123.3 274.1,122.8 C 277.8,122.2 281.8,121.8 286.1,121.7 C 290.4,121.6 294.7,121.6 300.1,122.1 C 305.5,122.6 312.5,123.0 318.4,124.5 C 324.3,126.0 330.5,128.7 335.3,130.8 C 340.1,132.9 343.8,135.0 347.4,137.2 C 351.0,139.4 354.1,141.7 356.8,144.2 C 359.5,146.7 361.8,149.3 363.6,152.0 C 365.4,154.7 366.8,157.4 367.7,160.2 C 368.6,163.0 369.1,165.8 369.0,169.0 C 368.9,172.2 368.1,176.1 367.0,179.5 Z" fill="none" stroke="#555" stroke-width="4.6" stroke-linejoin="round" stroke-linecap="round" opacity="0.9" filter="url(#zb0)"/>
<path d="M 355.1,173.7 C 354.4,175.9 353.3,178.3 352.1,180.0 C 350.9,181.7 349.5,183.0 347.8,184.1 C 346.1,185.2 344.3,186.0 342.2,186.7 C 340.1,187.3 337.7,187.8 335.2,188.0 C 332.7,188.2 329.9,188.2 327.0,187.9 C 324.1,187.6 321.2,187.2 317.6,186.4 C 314.0,185.6 309.2,184.6 305.3,183.0 C 301.4,181.4 297.2,178.9 293.9,177.0 C 290.6,175.1 288.1,173.4 285.7,171.6 C 283.3,169.8 281.2,168.0 279.3,166.3 C 277.4,164.6 275.8,162.9 274.4,161.2 C 273.0,159.5 272.0,157.8 271.2,156.2 C 270.4,154.6 269.9,153.2 269.8,151.5 C 269.7,149.8 270.1,148.0 270.6,146.3 C 271.2,144.7 272.1,142.9 273.1,141.6 C 274.2,140.3 275.3,139.4 276.9,138.6 C 278.4,137.8 280.3,137.1 282.4,136.5 C 284.5,135.9 286.8,135.5 289.4,135.2 C 291.9,134.9 294.7,134.7 297.7,134.7 C 300.7,134.7 303.7,134.8 307.5,135.2 C 311.3,135.6 316.2,136.0 320.3,137.0 C 324.4,138.0 328.8,139.9 332.2,141.4 C 335.6,142.9 338.2,144.3 340.7,145.8 C 343.2,147.3 345.5,148.8 347.4,150.5 C 349.3,152.2 351.0,153.9 352.3,155.7 C 353.6,157.5 354.6,159.2 355.3,161.1 C 356.0,163.0 356.3,164.8 356.3,166.9 C 356.3,169.0 355.8,171.5 355.1,173.7 Z" fill="#a2a2a2" stroke="#666" stroke-width="3.8" stroke-linejoin="round" stroke-linecap="round" opacity="0.9" filter="url(#zb0)"/>
<ellipse cx="321.364" cy="160" rx="22.2" ry="8.8" transform="rotate(18 321.364 160)" fill="#dedede" stroke="none" stroke-width="0.0" opacity="0.95" filter="url(#zb1)"/>
</g></g>
<line x1="29.80" y1="0.00" x2="29.80" y2="60.10" stroke="#2a2a2a" stroke-width="0.9" />
<line x1="0.00" y1="31.80" x2="60.50" y2="31.80" stroke="#2a2a2a" stroke-width="0.9" />
<rect x="0" y="0" width="60.5" height="60.1" fill="none" stroke="#1a1a1a" stroke-width="1.3"/>
<text x="1.90" y="6.70" font-size="8.2" text-anchor="start" font-weight="normal" fill="#111" textLength="14.81" lengthAdjust="spacingAndGlyphs" stroke="#111" stroke-width="0.18">20%</text>
<text x="58.60" y="6.70" font-size="8.2" text-anchor="end" font-weight="normal" fill="#111" textLength="14.81" lengthAdjust="spacingAndGlyphs" stroke="#111" stroke-width="0.18">54%</text>
<text x="1.90" y="57.70" font-size="8.2" text-anchor="start" font-weight="normal" fill="#111" textLength="14.81" lengthAdjust="spacingAndGlyphs" stroke="#111" stroke-width="0.18">20%</text>
<text x="58.60" y="57.70" font-size="8.2" text-anchor="end" font-weight="normal" fill="#111" textLength="10.69" lengthAdjust="spacingAndGlyphs" stroke="#111" stroke-width="0.18">5%</text>
</g>
<g transform="translate(178.60,320.40)">
<clipPath id="cp12"><rect x="0" y="0" width="60.5" height="60.1"/></clipPath>
<g clip-path="url(#cp12)"><g transform="translate(-0.6,-1.4) scale(0.13106)">
<path d="M 70,150 C 92.5,118.3 161.7,119.2 200,110 C 238.3,100.8 266.7,95.8 300,95 C 333.3,94.2 380.0,84.2 400,105 C 420.0,125.8 423.3,189.2 420,220 C 416.7,250.8 403.3,276.7 380,290 C 356.7,303.3 298.3,281.7 280,300 C 261.7,318.3 283.3,376.7 270,400 C 256.7,423.3 231.7,431.7 200,440 C 168.3,448.3 102.5,473.3 80,450 C 57.5,426.7 66.7,350.0 65,300 C 63.3,250.0 47.5,181.7 70,150 Z" fill="#dadada" stroke="none" stroke-width="0.0" stroke-linejoin="round" stroke-linecap="round" opacity="1.0" filter="url(#zb2)"/>
<path d="M 70,150 C 92.5,118.3 161.7,119.2 200,110 C 238.3,100.8 266.7,95.8 300,95 C 333.3,94.2 380.0,84.2 400,105 C 420.0,125.8 423.3,189.2 420,220 C 416.7,250.8 403.3,276.7 380,290 C 356.7,303.3 298.3,281.7 280,300 C 261.7,318.3 283.3,376.7 270,400 C 256.7,423.3 231.7,431.7 200,440 C 168.3,448.3 102.5,473.3 80,450 C 57.5,426.7 66.7,350.0 65,300 C 63.3,250.0 47.5,181.7 70,150 Z" fill="none" stroke="#c4c4c4" stroke-width="4.6" stroke-linejoin="round" stroke-linecap="round" opacity="0.7" filter="url(#zb0)"/>
<path d="M 72,160 C 98.7,131.7 202.8,115.0 230,130 C 257.2,145.0 238.3,221.7 235,250 C 231.7,278.3 215.8,271.7 210,300 C 204.2,328.3 213.3,395.0 200,420 C 186.7,445.0 150.0,448.3 130,450 C 110.0,451.7 90.0,455.0 80,430 C 70.0,405.0 71.3,345.0 70,300 C 68.7,255.0 45.3,188.3 72,160 Z" fill="#b8b8b8" stroke="none" stroke-width="0.0" stroke-linejoin="round" stroke-linecap="round" opacity="1.0" filter="url(#zb1)"/>
<path d="M 72.0,160.0 C 98.7,131.7 202.8,115.0 230.0,130.0 C 257.2,145.0 238.3,221.7 235.0,250.0 C 231.7,278.3 215.8,271.7 210.0,300.0 C 204.2,328.3 213.3,395.0 200.0,420.0 C 186.7,445.0 150.0,448.3 130.0,450.0 C 110.0,451.7 90.0,455.0 80.0,430.0 C 70.0,405.0 71.3,345.0 70.0,300.0 C 68.7,255.0 45.3,188.3 72.0,160.0 Z" fill="none" stroke="#7a7a7a" stroke-width="5.3" stroke-linejoin="round" stroke-linecap="round" opacity="0.85" filter="url(#zb0)"/>
<path d="M 88.3,189.0 C 109.6,166.3 193.0,153.0 214.7,165.0 C 236.4,177.0 221.4,238.3 218.7,261.0 C 216.0,283.7 203.4,278.3 198.7,301.0 C 194.0,323.7 201.4,377.0 190.7,397.0 C 180.0,417.0 150.7,419.7 134.7,421.0 C 118.7,422.3 102.7,425.0 94.7,405.0 C 86.7,385.0 87.8,337.0 86.7,301.0 C 85.6,265.0 67.0,211.7 88.3,189.0 Z" fill="none" stroke="#888" stroke-width="5.3" stroke-linejoin="round" stroke-linecap="round" opacity="0.85" filter="url(#zb0)"/>
<path d="M 104.6,218.0 C 120.6,201.0 183.0,191.0 199.3,200.0 C 215.6,209.0 204.3,255.0 202.3,272.0 C 200.3,289.0 190.8,285.0 187.3,302.0 C 183.8,319.0 189.3,359.0 181.3,374.0 C 173.3,389.0 151.3,391.0 139.3,392.0 C 127.3,393.0 115.3,395.0 109.3,380.0 C 103.3,365.0 104.1,329.0 103.3,302.0 C 102.5,275.0 88.6,235.0 104.6,218.0 Z" fill="none" stroke="#959595" stroke-width="5.3" stroke-linejoin="round" stroke-linecap="round" opacity="0.85" filter="url(#zb0)"/>
<path d="M 230,135 C 218.3,135.5 181.7,135.5 160,138 C 138.3,140.5 113.3,143.8 100,150 C 86.7,156.2 84.2,156.7 80,175 C 75.8,193.3 75.0,230.8 75,260 C 75.0,289.2 76.7,323.3 80,350 C 83.3,376.7 86.7,403.3 95,420 C 103.3,436.7 124.2,445.0 130,450 " fill="none" stroke="#4c4c4c" stroke-width="32.0" stroke-linejoin="round" stroke-linecap="round" opacity="0.5" filter="url(#zb1)"/>
<path d="M 230,135 C 218.3,135.5 181.7,135.5 160,138 C 138.3,140.5 113.3,143.8 100,150 C 86.7,156.2 84.2,156.7 80,175 C 75.8,193.3 75.0,230.8 75,260 C 75.0,289.2 76.7,323.3 80,350 C 83.3,376.7 86.7,403.3 95,420 C 103.3,436.7 124.2,445.0 130,450 " fill="none" stroke="#4c4c4c" stroke-width="16.0" stroke-linejoin="round" stroke-linecap="round" opacity="1.0" filter="url(#zb0)"/>
<path d="M 140,200 C 140.8,216.7 143.3,266.7 145,300 C 146.7,333.3 149.2,383.3 150,400 " fill="none" stroke="#9a9a9a" stroke-width="22.9" stroke-linejoin="round" stroke-linecap="round" opacity="0.5" filter="url(#zb1)"/>
<path d="M 140,200 C 140.8,216.7 143.3,266.7 145,300 C 146.7,333.3 149.2,383.3 150,400 " fill="none" stroke="#9a9a9a" stroke-width="11.4" stroke-linejoin="round" stroke-linecap="round" opacity="1.0" filter="url(#zb0)"/>
<path d="M 421.5,195.0 C 421.5,204.1 420.8,214.4 419.4,222.3 C 418.0,230.2 415.8,236.4 413.0,242.6 C 410.2,248.8 406.8,254.3 402.7,259.3 C 398.6,264.3 393.9,268.9 388.5,272.7 C 383.1,276.5 377.2,279.8 370.6,282.4 C 364.0,285.0 357.4,287.1 349.0,288.4 C 340.6,289.7 329.7,291.1 320.0,290.4 C 310.3,289.7 299.4,286.8 291.0,284.4 C 282.6,282.0 276.0,279.2 269.4,275.9 C 262.8,272.6 256.9,268.9 251.5,264.8 C 246.2,260.7 241.4,256.3 237.3,251.5 C 233.2,246.7 229.8,241.5 227.0,236.0 C 224.2,230.5 222.0,225.1 220.6,218.3 C 219.2,211.5 218.5,202.8 218.5,195.0 C 218.5,187.2 219.2,178.5 220.6,171.7 C 222.0,164.9 224.2,159.5 227.0,154.0 C 229.8,148.5 233.2,143.3 237.3,138.5 C 241.4,133.7 246.2,129.3 251.5,125.2 C 256.9,121.1 262.8,117.4 269.4,114.1 C 276.0,110.8 282.6,108.0 291.0,105.6 C 299.4,103.2 310.3,100.3 320.0,99.6 C 329.7,98.9 340.6,100.3 349.0,101.6 C 357.4,102.9 364.0,105.0 370.6,107.6 C 377.2,110.2 383.1,113.5 388.5,117.3 C 393.9,121.1 398.6,125.7 402.7,130.7 C 406.8,135.7 410.2,141.2 413.0,147.4 C 415.8,153.6 418.0,159.8 419.4,167.7 C 420.8,175.6 421.5,185.9 421.5,195.0 Z" fill="#acacac" stroke="none" stroke-width="0.0" stroke-linejoin="round" stroke-linecap="round" opacity="0.9" filter="url(#zb2)"/>
<path d="M 411.6,195.0 C 411.6,203.1 410.9,212.3 409.6,219.4 C 408.3,226.5 406.4,232.1 403.9,237.6 C 401.4,243.1 398.3,248.1 394.6,252.6 C 390.9,257.1 386.6,261.2 381.8,264.6 C 377.0,268.1 371.6,271.0 365.7,273.3 C 359.8,275.6 353.8,277.5 346.2,278.7 C 338.6,279.9 328.7,281.3 320.0,280.5 C 311.3,279.7 301.4,276.4 293.8,273.9 C 286.2,271.4 280.2,268.6 274.3,265.5 C 268.4,262.4 263.0,258.9 258.2,255.2 C 253.4,251.5 249.1,247.5 245.4,243.3 C 241.7,239.1 238.6,234.6 236.1,229.8 C 233.6,225.0 231.7,220.4 230.4,214.6 C 229.1,208.8 228.4,201.5 228.4,195.0 C 228.4,188.5 229.1,181.2 230.4,175.4 C 231.7,169.6 233.6,165.0 236.1,160.2 C 238.6,155.4 241.7,150.9 245.4,146.7 C 249.1,142.5 253.4,138.5 258.2,134.8 C 263.0,131.1 268.4,127.6 274.3,124.5 C 280.2,121.4 286.2,118.6 293.8,116.1 C 301.4,113.6 311.3,110.3 320.0,109.5 C 328.7,108.7 338.6,110.1 346.2,111.3 C 353.8,112.5 359.8,114.3 365.7,116.7 C 371.6,119.1 377.0,122.0 381.8,125.4 C 386.6,128.8 390.9,132.9 394.6,137.4 C 398.3,141.9 401.4,146.9 403.9,152.4 C 406.4,157.9 408.3,163.5 409.6,170.6 C 410.9,177.7 411.6,186.9 411.6,195.0 Z" fill="none" stroke="#7a7a7a" stroke-width="5.3" stroke-linejoin="round" stroke-linecap="round" opacity="0.8" filter="url(#zb0)"/>
<path d="M 403.9,195.0 C 403.9,202.4 403.4,210.7 402.2,217.2 C 401.0,223.7 399.2,228.8 396.9,233.8 C 394.6,238.9 391.8,243.4 388.4,247.5 C 385.0,251.6 381.0,255.3 376.6,258.4 C 372.2,261.5 367.3,264.2 361.9,266.3 C 356.5,268.4 351.0,270.1 344.0,271.2 C 337.0,272.3 328.0,273.7 320.0,272.8 C 312.0,271.9 303.0,268.4 296.0,265.8 C 289.0,263.2 283.5,260.5 278.1,257.5 C 272.7,254.5 267.8,251.1 263.4,247.7 C 259.0,244.2 255.0,240.6 251.6,236.8 C 248.2,233.0 245.4,229.1 243.1,224.9 C 240.8,220.7 239.0,216.8 237.8,211.8 C 236.6,206.8 236.1,200.6 236.1,195.0 C 236.1,189.4 236.6,183.2 237.8,178.2 C 239.0,173.2 240.8,169.3 243.1,165.1 C 245.4,160.9 248.2,157.0 251.6,153.2 C 255.0,149.4 259.0,145.8 263.4,142.3 C 267.8,138.9 272.7,135.5 278.1,132.5 C 283.5,129.5 289.0,126.8 296.0,124.2 C 303.0,121.7 312.0,118.1 320.0,117.2 C 328.0,116.3 337.0,117.7 344.0,118.8 C 351.0,119.9 356.5,121.6 361.9,123.7 C 367.3,125.8 372.2,128.5 376.6,131.6 C 381.0,134.7 385.0,138.4 388.4,142.5 C 391.8,146.6 394.6,151.1 396.9,156.2 C 399.2,161.2 401.0,166.3 402.2,172.8 C 403.4,179.3 403.9,187.6 403.9,195.0 Z" fill="#707070" stroke="#3a3a3a" stroke-width="10.7" stroke-linejoin="round" stroke-linecap="round" opacity="1.0" filter="url(#zb0)"/>
<path d="M 238.5,175.9 C 239.3,174.0 241.4,168.1 243.5,164.4 C 245.6,160.7 248.1,157.2 251.1,153.8 C 254.1,150.4 257.5,147.1 261.3,144.0 C 265.1,140.9 269.3,137.8 273.9,135.0 C 278.5,132.2 283.4,129.6 288.9,127.2 C 294.4,124.8 299.7,122.2 306.8,120.6 C 313.9,119.0 324.3,117.5 331.4,117.4 C 338.5,117.3 344.0,118.7 349.6,119.9 C 355.2,121.2 360.1,122.8 364.8,124.9 C 369.5,127.0 373.8,129.5 377.7,132.4 C 381.6,135.3 385.1,138.5 388.1,142.1 C 391.1,145.7 393.7,149.7 395.9,154.1 C 398.1,158.5 399.9,163.2 401.2,168.4 C 402.5,173.6 403.3,178.8 403.7,185.5 C 404.1,192.2 403.9,201.8 403.4,208.3 C 402.8,214.8 401.9,219.7 400.4,224.7 C 398.9,229.7 397.0,234.2 394.6,238.4 C 392.2,242.6 389.4,246.5 386.2,250.0 C 383.0,253.5 379.3,256.6 375.3,259.3 C 371.3,262.0 366.8,264.4 362.0,266.3 C 357.2,268.2 352.1,269.7 346.3,270.8 C 340.5,271.9 334.2,273.1 327.0,272.7 C 319.8,272.3 309.8,270.1 302.9,268.2 C 296.0,266.3 288.6,262.4 285.7,261.3 " fill="none" stroke="#0c0c0c" stroke-width="16.0" stroke-linejoin="round" stroke-linecap="round" opacity="1.0" filter="url(#zb0)"/>
<path d="M 245.6,161.0 C 246.8,159.4 250.2,154.7 253.0,151.7 C 255.8,148.7 258.9,145.8 262.3,143.1 C 265.7,140.3 269.5,137.7 273.6,135.2 C 277.7,132.7 282.0,130.3 286.8,128.1 C 291.6,125.9 296.1,123.9 302.2,122.1 C 308.3,120.3 316.9,117.8 323.5,117.2 C 330.1,116.6 336.3,117.7 341.8,118.5 C 347.3,119.3 352.0,120.4 356.6,121.8 C 361.2,123.2 365.4,125.0 369.3,127.1 C 373.2,129.2 376.8,131.6 380.1,134.3 C 383.4,137.0 386.4,140.0 389.0,143.3 C 391.6,146.6 393.9,150.2 395.9,154.1 C 397.9,158.0 399.6,162.1 400.8,166.7 C 402.1,171.2 402.9,175.5 403.4,181.4 C 403.9,187.3 404.0,195.8 403.8,201.9 C 403.6,208.0 402.9,213.0 402.0,217.9 C 401.1,222.8 399.8,227.1 398.1,231.2 C 396.4,235.3 394.4,239.2 392.0,242.7 C 389.6,246.2 386.9,249.5 383.8,252.4 C 380.8,255.3 377.4,258.0 373.7,260.3 C 370.0,262.6 366.0,264.7 361.7,266.4 C 357.4,268.1 352.9,269.5 347.8,270.5 C 342.8,271.5 337.9,272.7 331.4,272.6 C 324.9,272.5 312.7,270.4 309.0,270.0 " fill="none" stroke="#141414" stroke-width="9.2" stroke-linejoin="round" stroke-linecap="round" opacity="1.0"/>
<path d="M 388.8,195.0 C 388.8,200.0 388.4,205.7 387.5,210.1 C 386.6,214.5 385.4,218.0 383.7,221.4 C 382.0,224.8 379.8,227.9 377.3,230.7 C 374.8,233.5 371.9,236.0 368.6,238.1 C 365.3,240.2 361.7,242.1 357.7,243.5 C 353.7,244.9 349.7,246.1 344.5,246.8 C 339.3,247.5 332.6,248.5 326.7,247.9 C 320.8,247.3 314.2,244.8 309.0,243.1 C 303.8,241.4 299.7,239.6 295.7,237.5 C 291.7,235.4 288.1,233.2 284.8,230.8 C 281.5,228.5 278.6,226.0 276.1,223.4 C 273.6,220.8 271.5,218.1 269.8,215.3 C 268.1,212.5 266.8,209.8 265.9,206.4 C 265.0,203.0 264.6,198.8 264.6,195.0 C 264.6,191.2 265.0,187.0 265.9,183.6 C 266.8,180.2 268.1,177.5 269.8,174.7 C 271.5,171.9 273.6,169.2 276.1,166.6 C 278.6,164.0 281.5,161.5 284.8,159.2 C 288.1,156.8 291.7,154.6 295.7,152.5 C 299.7,150.4 303.8,148.6 309.0,146.9 C 314.2,145.2 320.8,142.7 326.7,142.1 C 332.6,141.5 339.3,142.5 344.5,143.2 C 349.7,143.9 353.7,145.1 357.7,146.5 C 361.7,147.9 365.3,149.8 368.6,151.9 C 371.9,154.0 374.8,156.5 377.3,159.3 C 379.8,162.1 382.0,165.2 383.7,168.6 C 385.4,172.0 386.6,175.5 387.5,179.9 C 388.4,184.3 388.8,190.0 388.8,195.0 Z" fill="none" stroke="#555" stroke-width="4.6" stroke-linejoin="round" stroke-linecap="round" opacity="0.9" filter="url(#zb0)"/>
<path d="M 376.2,195.0 C 376.2,198.3 375.9,202.0 375.3,204.8 C 374.7,207.7 373.8,209.9 372.6,212.1 C 371.4,214.3 369.9,216.3 368.1,218.1 C 366.3,219.9 364.3,221.5 362.0,222.9 C 359.7,224.3 357.2,225.5 354.4,226.4 C 351.6,227.3 348.7,228.0 345.1,228.5 C 341.5,229.0 336.8,229.6 332.6,229.2 C 328.4,228.8 323.7,227.2 320.1,226.1 C 316.5,225.0 313.6,223.8 310.8,222.5 C 308.0,221.2 305.4,219.7 303.1,218.2 C 300.8,216.7 298.8,215.1 297.0,213.4 C 295.2,211.7 293.8,210.0 292.6,208.2 C 291.4,206.4 290.5,204.6 289.9,202.4 C 289.3,200.2 288.9,197.5 288.9,195.0 C 288.9,192.5 289.3,189.8 289.9,187.6 C 290.5,185.4 291.4,183.6 292.6,181.8 C 293.8,180.0 295.2,178.3 297.0,176.6 C 298.8,174.9 300.8,173.3 303.1,171.8 C 305.4,170.3 308.0,168.8 310.8,167.5 C 313.6,166.2 316.5,165.0 320.1,163.9 C 323.7,162.8 328.4,161.2 332.6,160.8 C 336.8,160.4 341.5,161.0 345.1,161.5 C 348.7,162.0 351.6,162.7 354.4,163.6 C 357.2,164.5 359.7,165.7 362.0,167.1 C 364.3,168.5 366.3,170.1 368.1,171.9 C 369.9,173.7 371.4,175.7 372.6,177.9 C 373.8,180.1 374.7,182.3 375.3,185.2 C 375.9,188.0 376.2,191.7 376.2,195.0 Z" fill="#a2a2a2" stroke="#666" stroke-width="3.8" stroke-linejoin="round" stroke-linecap="round" opacity="0.9" filter="url(#zb0)"/>
<ellipse cx="340.9825" cy="195" rx="21.8" ry="12.5" transform="rotate(0 340.9825 195)" fill="#dedede" stroke="none" stroke-width="0.0" opacity="0.95" filter="url(#zb1)"/>
</g></g>
<line x1="29.80" y1="0.00" x2="29.80" y2="60.10" stroke="#2a2a2a" stroke-width="0.9" />
<line x1="0.00" y1="31.80" x2="60.50" y2="31.80" stroke="#2a2a2a" stroke-width="0.9" />
<rect x="0" y="0" width="60.5" height="60.1" fill="none" stroke="#1a1a1a" stroke-width="1.3"/>
<text x="1.90" y="6.70" font-size="8.2" text-anchor="start" font-weight="normal" fill="#111" textLength="14.81" lengthAdjust="spacingAndGlyphs" stroke="#111" stroke-width="0.18">17%</text>
<text x="58.60" y="6.70" font-size="8.2" text-anchor="end" font-weight="normal" fill="#111" textLength="14.81" lengthAdjust="spacingAndGlyphs" stroke="#111" stroke-width="0.18">59%</text>
<text x="1.90" y="57.70" font-size="8.2" text-anchor="start" font-weight="normal" fill="#111" textLength="14.81" lengthAdjust="spacingAndGlyphs" stroke="#111" stroke-width="0.18">16%</text>
<text x="58.60" y="57.70" font-size="8.2" text-anchor="end" font-weight="normal" fill="#111" textLength="10.69" lengthAdjust="spacingAndGlyphs" stroke="#111" stroke-width="0.18">6%</text>
</g>
<g transform="translate(243.20,320.40)">
<clipPath id="cp13"><rect x="0" y="0" width="60.5" height="60.1"/></clipPath>
<g clip-path="url(#cp13)"><g transform="translate(-1.2,-1.4) scale(0.13106)">
<path d="M 90,130 C 105.0,95.8 140.0,101.7 180,95 C 220.0,88.3 295.0,85.8 330,90 C 365.0,94.2 378.3,96.7 390,120 C 401.7,143.3 410.0,203.3 400,230 C 390.0,256.7 355.0,268.3 330,280 C 305.0,291.7 265.0,283.3 250,300 C 235.0,316.7 248.3,356.7 240,380 C 231.7,403.3 221.7,428.3 200,440 C 178.3,451.7 128.3,473.3 110,450 C 91.7,426.7 93.3,353.3 90,300 C 86.7,246.7 75.0,164.2 90,130 Z" fill="#dadada" stroke="none" stroke-width="0.0" stroke-linejoin="round" stroke-linecap="round" opacity="1.0" filter="url(#zb2)"/>
<path d="M 90,130 C 105.0,95.8 140.0,101.7 180,95 C 220.0,88.3 295.0,85.8 330,90 C 365.0,94.2 378.3,96.7 390,120 C 401.7,143.3 410.0,203.3 400,230 C 390.0,256.7 355.0,268.3 330,280 C 305.0,291.7 265.0,283.3 250,300 C 235.0,316.7 248.3,356.7 240,380 C 231.7,403.3 221.7,428.3 200,440 C 178.3,451.7 128.3,473.3 110,450 C 91.7,426.7 93.3,353.3 90,300 C 86.7,246.7 75.0,164.2 90,130 Z" fill="none" stroke="#c4c4c4" stroke-width="4.6" stroke-linejoin="round" stroke-linecap="round" opacity="0.7" filter="url(#zb0)"/>
<path d="M 95,140 C 110.0,110.0 172.5,101.7 190,120 C 207.5,138.3 193.3,220.0 200,250 C 206.7,280.0 225.0,275.0 230,300 C 235.0,325.0 238.3,376.7 230,400 C 221.7,423.3 198.3,433.3 180,440 C 161.7,446.7 133.3,463.3 120,440 C 106.7,416.7 104.2,350.0 100,300 C 95.8,250.0 80.0,170.0 95,140 Z" fill="#bababa" stroke="none" stroke-width="0.0" stroke-linejoin="round" stroke-linecap="round" opacity="1.0" filter="url(#zb1)"/>
<path d="M 95.0,140.0 C 110.0,110.0 172.5,101.7 190.0,120.0 C 207.5,138.3 193.3,220.0 200.0,250.0 C 206.7,280.0 225.0,275.0 230.0,300.0 C 235.0,325.0 238.3,376.7 230.0,400.0 C 221.7,423.3 198.3,433.3 180.0,440.0 C 161.7,446.7 133.3,463.3 120.0,440.0 C 106.7,416.7 104.2,350.0 100.0,300.0 C 95.8,250.0 80.0,170.0 95.0,140.0 Z" fill="none" stroke="#7a7a7a" stroke-width="5.3" stroke-linejoin="round" stroke-linecap="round" opacity="0.85" filter="url(#zb0)"/>
<path d="M 109.6,171.8 C 121.6,147.8 171.6,141.1 185.6,155.8 C 199.6,170.5 188.3,235.8 193.6,259.8 C 198.9,283.8 213.6,279.8 217.6,299.8 C 221.6,319.8 224.3,361.1 217.6,379.8 C 210.9,398.5 192.3,406.5 177.6,411.8 C 162.9,417.1 140.3,430.5 129.6,411.8 C 118.9,393.1 116.9,339.8 113.6,299.8 C 110.3,259.8 97.6,195.8 109.6,171.8 Z" fill="none" stroke="#888" stroke-width="5.3" stroke-linejoin="round" stroke-linecap="round" opacity="0.85" filter="url(#zb0)"/>
<path d="M 124.2,203.5 C 133.2,185.5 170.7,180.5 181.2,191.5 C 191.7,202.5 183.2,251.5 187.2,269.5 C 191.2,287.5 202.2,284.5 205.2,299.5 C 208.2,314.5 210.2,345.5 205.2,359.5 C 200.2,373.5 186.2,379.5 175.2,383.5 C 164.2,387.5 147.2,397.5 139.2,383.5 C 131.2,369.5 129.7,329.5 127.2,299.5 C 124.7,269.5 115.2,221.5 124.2,203.5 Z" fill="none" stroke="#959595" stroke-width="5.3" stroke-linejoin="round" stroke-linecap="round" opacity="0.85" filter="url(#zb0)"/>
<path d="M 190,130 C 181.7,130.0 153.3,126.7 140,130 C 126.7,133.3 116.7,138.3 110,150 C 103.3,161.7 101.7,178.3 100,200 C 98.3,221.7 98.3,253.3 100,280 C 101.7,306.7 105.0,335.0 110,360 C 115.0,385.0 126.7,418.3 130,430 " fill="none" stroke="#5a5a5a" stroke-width="27.5" stroke-linejoin="round" stroke-linecap="round" opacity="0.5" filter="url(#zb1)"/>
<path d="M 190,130 C 181.7,130.0 153.3,126.7 140,130 C 126.7,133.3 116.7,138.3 110,150 C 103.3,161.7 101.7,178.3 100,200 C 98.3,221.7 98.3,253.3 100,280 C 101.7,306.7 105.0,335.0 110,360 C 115.0,385.0 126.7,418.3 130,430 " fill="none" stroke="#5a5a5a" stroke-width="13.7" stroke-linejoin="round" stroke-linecap="round" opacity="1.0" filter="url(#zb0)"/>
<path d="M 190,215 C 190.8,202.5 185.0,157.5 195,140 C 205.0,122.5 227.5,114.2 250,110 C 272.5,105.8 311.7,108.3 330,115 C 348.3,121.7 355.0,144.2 360,150 " fill="none" stroke="#333" stroke-width="16.8" stroke-linejoin="round" stroke-linecap="round" opacity="1.0" filter="url(#zb1)"/>
<path d="M 389.8,195.0 C 389.0,204.2 387.3,214.5 385.0,222.4 C 382.7,230.3 379.7,236.3 376.0,242.3 C 372.3,248.3 367.9,253.6 362.8,258.3 C 357.7,263.0 351.9,267.0 345.5,270.4 C 339.1,273.8 332.2,276.5 324.5,278.5 C 316.8,280.5 309.1,281.9 299.5,282.4 C 289.9,282.9 277.5,283.1 266.6,281.5 C 255.7,279.9 243.6,275.9 234.3,272.6 C 225.0,269.3 217.8,265.8 210.6,261.9 C 203.4,257.9 197.1,253.6 191.4,248.9 C 185.7,244.2 180.7,239.3 176.5,234.0 C 172.3,228.7 168.8,223.2 166.1,217.3 C 163.4,211.4 161.6,205.8 160.6,198.7 C 159.6,191.6 159.5,182.8 160.2,175.0 C 160.9,167.2 162.5,158.4 164.7,151.6 C 166.9,144.8 169.8,139.6 173.4,134.3 C 177.0,129.0 181.4,124.2 186.5,119.7 C 191.6,115.2 197.4,111.2 203.8,107.6 C 210.2,104.0 217.2,100.8 224.9,98.1 C 232.6,95.4 240.3,93.3 250.1,91.7 C 259.8,90.1 272.4,88.2 283.4,88.5 C 294.4,88.8 306.7,91.2 316.1,93.4 C 325.5,95.6 332.8,98.2 340.0,101.5 C 347.2,104.8 353.6,108.7 359.3,113.1 C 365.0,117.5 370.0,122.6 374.2,128.1 C 378.4,133.6 381.8,139.6 384.4,146.1 C 387.0,152.6 388.9,159.0 389.8,167.2 C 390.7,175.3 390.6,185.8 389.8,195.0 Z" fill="#909090" stroke="none" stroke-width="0.0" stroke-linejoin="round" stroke-linecap="round" opacity="0.9" filter="url(#zb2)"/>
<path d="M 379.9,194.2 C 379.2,202.5 377.6,211.7 375.5,218.8 C 373.4,225.9 370.8,231.2 367.4,236.6 C 364.0,241.9 359.9,246.7 355.3,250.9 C 350.7,255.1 345.4,258.8 339.6,261.8 C 333.8,264.8 327.4,267.2 320.4,269.0 C 313.4,270.8 306.4,272.1 297.6,272.5 C 288.8,272.9 277.3,273.4 267.4,271.7 C 257.5,270.0 246.5,265.7 238.0,262.4 C 229.5,259.1 222.9,255.7 216.4,251.9 C 209.9,248.2 204.1,244.1 198.9,239.9 C 193.7,235.7 189.2,231.2 185.3,226.5 C 181.5,221.8 178.2,217.0 175.8,211.9 C 173.4,206.8 171.6,201.9 170.6,195.9 C 169.6,189.9 169.5,182.4 170.1,175.8 C 170.7,169.2 172.0,161.8 174.0,156.1 C 176.0,150.3 178.6,145.9 181.9,141.3 C 185.2,136.7 189.2,132.5 193.8,128.6 C 198.4,124.7 203.8,121.0 209.6,117.7 C 215.4,114.4 221.8,111.5 228.9,108.9 C 236.0,106.4 243.1,104.2 252.0,102.4 C 260.9,100.6 272.5,98.2 282.6,98.3 C 292.7,98.4 303.8,100.8 312.4,102.8 C 321.0,104.8 327.7,107.1 334.3,110.1 C 340.9,113.1 346.7,116.6 351.9,120.6 C 357.1,124.6 361.8,129.1 365.6,134.0 C 369.4,138.9 372.5,144.3 374.9,150.2 C 377.3,156.1 379.1,161.9 379.9,169.2 C 380.7,176.5 380.6,185.9 379.9,194.2 Z" fill="none" stroke="#7a7a7a" stroke-width="5.3" stroke-linejoin="round" stroke-linecap="round" opacity="0.8" filter="url(#zb0)"/>
<path d="M 372.3,193.5 C 371.7,201.0 370.2,209.5 368.3,215.9 C 366.4,222.3 363.8,227.3 360.7,232.2 C 357.6,237.1 353.9,241.5 349.6,245.3 C 345.3,249.1 340.4,252.4 335.0,255.1 C 329.6,257.8 323.7,260.1 317.2,261.7 C 310.7,263.3 304.2,264.4 296.0,264.8 C 287.8,265.2 277.3,265.8 268.1,264.1 C 258.9,262.4 248.8,257.7 240.9,254.4 C 233.0,251.1 226.9,247.8 220.9,244.2 C 214.9,240.6 209.5,236.8 204.7,232.8 C 199.9,228.9 195.6,224.7 192.0,220.5 C 188.4,216.3 185.4,212.1 183.1,207.6 C 180.8,203.1 179.2,198.9 178.3,193.7 C 177.4,188.5 177.2,182.2 177.7,176.5 C 178.2,170.8 179.4,164.5 181.2,159.6 C 183.0,154.7 185.4,150.8 188.5,146.8 C 191.6,142.8 195.2,139.1 199.5,135.6 C 203.8,132.1 208.7,128.8 214.1,125.7 C 219.5,122.7 225.4,119.8 232.0,117.3 C 238.6,114.8 245.2,112.6 253.5,110.7 C 261.8,108.8 272.5,106.0 281.9,105.9 C 291.2,105.8 301.6,108.2 309.6,110.0 C 317.6,111.8 323.8,114.1 329.9,116.8 C 336.0,119.5 341.5,122.8 346.3,126.4 C 351.1,130.0 355.3,134.1 358.9,138.6 C 362.4,143.1 365.4,148.1 367.6,153.4 C 369.8,158.8 371.4,164.0 372.2,170.7 C 373.0,177.4 372.9,186.0 372.3,193.5 Z" fill="#6a6a6a" stroke="#3a3a3a" stroke-width="6.4" stroke-linejoin="round" stroke-linecap="round" opacity="1.0" filter="url(#zb0)"/>
<path d="M 215.1,240.5 C 213.3,239.2 207.8,235.3 204.5,232.6 C 201.2,229.9 198.2,227.2 195.5,224.4 C 192.8,221.6 190.3,218.7 188.2,215.8 C 186.1,212.9 184.3,209.9 182.8,206.8 C 181.3,203.8 180.0,200.7 179.1,197.5 C 178.2,194.3 177.6,191.3 177.4,187.4 C 177.2,183.5 177.4,178.1 177.9,174.0 C 178.4,169.9 179.2,166.2 180.2,162.8 C 181.2,159.4 182.5,156.4 184.1,153.5 C 185.7,150.6 187.6,147.9 189.8,145.2 C 192.0,142.5 194.4,139.9 197.2,137.5 C 199.9,135.1 203.0,132.7 206.3,130.5 C 209.6,128.3 213.3,126.1 217.1,124.1 C 220.9,122.1 225.0,120.2 229.3,118.4 C 233.7,116.6 238.3,115.0 243.2,113.5 C 248.1,112.0 253.0,110.7 258.8,109.5 C 264.6,108.3 271.0,106.6 277.8,106.4 C 284.6,106.2 293.4,107.2 299.7,108.1 C 305.9,108.9 310.4,110.1 315.3,111.5 C 320.2,112.9 324.6,114.5 328.8,116.3 C 333.0,118.1 336.9,120.2 340.5,122.4 C 344.1,124.7 347.4,127.1 350.5,129.8 C 353.6,132.5 356.4,135.3 358.8,138.4 C 361.2,141.5 364.1,146.6 365.2,148.2 " fill="none" stroke="#0c0c0c" stroke-width="9.6" stroke-linejoin="round" stroke-linecap="round" opacity="1.0" filter="url(#zb0)"/>
<path d="M 197.9,226.8 C 196.8,225.6 193.1,222.0 191.1,219.5 C 189.1,217.0 187.3,214.6 185.7,212.0 C 184.1,209.4 182.7,206.8 181.5,204.2 C 180.3,201.5 179.5,198.9 178.8,196.1 C 178.1,193.3 177.6,190.7 177.4,187.4 C 177.2,184.1 177.4,180.1 177.7,176.5 C 178.0,172.9 178.7,168.9 179.4,165.7 C 180.2,162.5 181.0,160.0 182.2,157.3 C 183.3,154.7 184.7,152.2 186.3,149.8 C 187.9,147.4 189.7,145.1 191.7,142.9 C 193.7,140.7 196.0,138.6 198.4,136.5 C 200.8,134.4 203.5,132.4 206.3,130.5 C 209.1,128.6 212.2,126.8 215.4,125.0 C 218.6,123.2 222.1,121.5 225.7,119.9 C 229.3,118.3 233.1,116.9 237.1,115.5 C 241.1,114.1 245.2,112.9 249.6,111.7 C 254.0,110.5 258.3,109.5 263.7,108.5 C 269.1,107.5 275.9,106.0 281.9,105.9 C 287.9,105.8 294.5,107.2 299.7,108.1 C 304.9,108.9 309.1,109.9 313.3,111.0 C 317.6,112.1 321.5,113.3 325.2,114.8 C 328.9,116.2 332.4,117.9 335.7,119.7 C 339.0,121.5 342.1,123.3 345.0,125.4 C 347.9,127.5 351.8,131.1 353.1,132.2 " fill="none" stroke="#141414" stroke-width="5.5" stroke-linejoin="round" stroke-linecap="round" opacity="1.0"/>
<path d="M 354.8,191.3 C 354.4,196.4 353.4,202.1 352.0,206.5 C 350.6,210.9 348.8,214.3 346.5,217.6 C 344.2,220.9 341.5,223.8 338.3,226.4 C 335.1,229.0 331.5,231.2 327.5,233.0 C 323.5,234.8 319.2,236.3 314.4,237.4 C 309.6,238.5 304.9,239.2 298.8,239.4 C 292.8,239.6 284.9,240.0 278.1,238.8 C 271.3,237.6 263.8,234.4 258.0,232.1 C 252.2,229.8 247.6,227.5 243.1,225.0 C 238.6,222.5 234.7,219.9 231.1,217.2 C 227.5,214.5 224.3,211.6 221.6,208.7 C 218.9,205.8 216.7,202.9 215.0,199.9 C 213.3,196.9 212.0,193.9 211.3,190.4 C 210.6,186.9 210.5,182.6 210.8,178.7 C 211.1,174.8 212.0,170.5 213.3,167.2 C 214.6,163.8 216.4,161.3 218.6,158.6 C 220.8,155.9 223.6,153.4 226.7,151.0 C 229.8,148.6 233.4,146.4 237.4,144.3 C 241.4,142.2 245.8,140.4 250.7,138.7 C 255.5,137.0 260.4,135.6 266.5,134.3 C 272.6,133.1 280.6,131.2 287.5,131.2 C 294.4,131.2 302.1,132.9 308.0,134.2 C 313.9,135.5 318.5,137.0 323.0,138.9 C 327.5,140.8 331.6,143.0 335.2,145.5 C 338.8,148.0 341.9,150.8 344.6,153.9 C 347.3,157.0 349.5,160.3 351.2,164.0 C 352.9,167.7 354.0,171.2 354.6,175.8 C 355.2,180.4 355.2,186.2 354.8,191.3 Z" fill="none" stroke="#555" stroke-width="4.6" stroke-linejoin="round" stroke-linecap="round" opacity="0.9" filter="url(#zb0)"/>
<path d="M 340.2,189.4 C 339.9,192.7 339.2,196.5 338.3,199.3 C 337.4,202.1 336.1,204.3 334.5,206.4 C 332.9,208.5 331.0,210.4 328.8,212.1 C 326.6,213.8 324.1,215.1 321.3,216.3 C 318.5,217.5 315.5,218.4 312.1,219.1 C 308.7,219.8 305.4,220.2 301.1,220.3 C 296.9,220.4 291.4,220.6 286.6,219.8 C 281.8,219.0 276.5,216.9 272.4,215.4 C 268.3,213.9 265.1,212.3 262.0,210.7 C 258.9,209.1 256.0,207.4 253.5,205.6 C 251.0,203.8 248.7,202.0 246.8,200.1 C 244.9,198.2 243.3,196.3 242.1,194.3 C 240.9,192.3 240.0,190.5 239.5,188.2 C 239.0,185.9 238.9,183.1 239.1,180.6 C 239.3,178.1 239.9,175.4 240.8,173.2 C 241.7,171.0 242.9,169.3 244.4,167.6 C 245.9,165.8 247.9,164.2 250.1,162.7 C 252.3,161.2 254.8,159.8 257.6,158.5 C 260.4,157.2 263.5,156.0 266.9,154.9 C 270.3,153.8 273.7,152.9 278.0,152.1 C 282.3,151.3 287.8,150.2 292.7,150.2 C 297.6,150.2 302.9,151.3 307.1,152.2 C 311.3,153.0 314.5,154.1 317.7,155.3 C 320.9,156.6 323.8,158.1 326.3,159.7 C 328.8,161.3 331.0,163.1 332.9,165.1 C 334.8,167.1 336.3,169.3 337.5,171.7 C 338.7,174.1 339.7,176.4 340.1,179.4 C 340.6,182.4 340.5,186.1 340.2,189.4 Z" fill="#8e8e8e" stroke="#666" stroke-width="3.8" stroke-linejoin="round" stroke-linecap="round" opacity="0.9" filter="url(#zb0)"/>
<ellipse cx="299.416" cy="185" rx="25.4" ry="12.7" transform="rotate(5 299.416 185)" fill="#dedede" stroke="none" stroke-width="0.0" opacity="0.95" filter="url(#zb1)"/>
</g></g>
<line x1="29.80" y1="0.00" x2="29.80" y2="60.10" stroke="#2a2a2a" stroke-width="0.9" />
<line x1="0.00" y1="31.80" x2="60.50" y2="31.80" stroke="#2a2a2a" stroke-width="0.9" />
<rect x="0" y="0" width="60.5" height="60.1" fill="none" stroke="#1a1a1a" stroke-width="1.3"/>
<text x="1.90" y="6.70" font-size="8.2" text-anchor="start" font-weight="normal" fill="#111" textLength="14.81" lengthAdjust="spacingAndGlyphs" stroke="#111" stroke-width="0.18">29%</text>
<text x="58.60" y="6.70" font-size="8.2" text-anchor="end" font-weight="normal" fill="#111" textLength="14.81" lengthAdjust="spacingAndGlyphs" stroke="#111" stroke-width="0.18">52%</text>
<text x="1.90" y="57.70" font-size="8.2" text-anchor="start" font-weight="normal" fill="#111" textLength="14.81" lengthAdjust="spacingAndGlyphs" stroke="#111" stroke-width="0.18">17%</text>
<text x="58.60" y="57.70" font-size="8.2" text-anchor="end" font-weight="normal" fill="#111" textLength="10.69" lengthAdjust="spacingAndGlyphs" stroke="#111" stroke-width="0.18">3%</text>
</g>
<g transform="translate(49.80,385.00)">
<clipPath id="cp20"><rect x="0" y="0" width="60.5" height="60.1"/></clipPath>
<g clip-path="url(#cp20)"><g transform="translate(-0.8,-2.0) scale(0.13106)">
<path d="M 80,110 C 100.8,75.0 163.3,98.3 200,90 C 236.7,81.7 265.0,65.0 300,60 C 335.0,55.0 390.0,43.3 410,60 C 430.0,76.7 430.0,136.7 420,160 C 410.0,183.3 370.0,186.7 350,200 C 330.0,213.3 308.3,220.0 300,240 C 291.7,260.0 295.0,293.3 300,320 C 305.0,346.7 346.7,383.3 330,400 C 313.3,416.7 240.0,415.0 200,420 C 160.0,425.0 110.8,450.0 90,430 C 69.2,410.0 76.7,353.3 75,300 C 73.3,246.7 59.2,145.0 80,110 Z" fill="#dadada" stroke="none" stroke-width="0.0" stroke-linejoin="round" stroke-linecap="round" opacity="1.0" filter="url(#zb2)"/>
<path d="M 80,110 C 100.8,75.0 163.3,98.3 200,90 C 236.7,81.7 265.0,65.0 300,60 C 335.0,55.0 390.0,43.3 410,60 C 430.0,76.7 430.0,136.7 420,160 C 410.0,183.3 370.0,186.7 350,200 C 330.0,213.3 308.3,220.0 300,240 C 291.7,260.0 295.0,293.3 300,320 C 305.0,346.7 346.7,383.3 330,400 C 313.3,416.7 240.0,415.0 200,420 C 160.0,425.0 110.8,450.0 90,430 C 69.2,410.0 76.7,353.3 75,300 C 73.3,246.7 59.2,145.0 80,110 Z" fill="none" stroke="#c4c4c4" stroke-width="4.6" stroke-linejoin="round" stroke-linecap="round" opacity="0.7" filter="url(#zb0)"/>
<path d="M 82,120 C 105.3,103.3 195.3,95.0 220,100 C 244.7,105.0 233.3,133.3 230,150 C 226.7,166.7 206.7,175.0 200,200 C 193.3,225.0 190.0,276.7 190,300 C 190.0,323.3 200.0,321.7 200,340 C 200.0,358.3 205.0,396.7 190,410 C 175.0,423.3 127.5,428.3 110,420 C 92.5,411.7 90.0,396.7 85,360 C 80.0,323.3 80.5,240.0 80,200 C 79.5,160.0 58.7,136.7 82,120 Z" fill="#ababab" stroke="none" stroke-width="0.0" stroke-linejoin="round" stroke-linecap="round" opacity="1.0" filter="url(#zb1)"/>
<path d="M 82.0,120.0 C 105.3,103.3 195.3,95.0 220.0,100.0 C 244.7,105.0 233.3,133.3 230.0,150.0 C 226.7,166.7 206.7,175.0 200.0,200.0 C 193.3,225.0 190.0,276.7 190.0,300.0 C 190.0,323.3 200.0,321.7 200.0,340.0 C 200.0,358.3 205.0,396.7 190.0,410.0 C 175.0,423.3 127.5,428.3 110.0,420.0 C 92.5,411.7 90.0,396.7 85.0,360.0 C 80.0,323.3 80.5,240.0 80.0,200.0 C 79.5,160.0 58.7,136.7 82.0,120.0 Z" fill="none" stroke="#7a7a7a" stroke-width="5.3" stroke-linejoin="round" stroke-linecap="round" opacity="0.85" filter="url(#zb0)"/>
<path d="M 97.3,148.0 C 116.0,134.7 188.0,128.0 207.7,132.0 C 227.4,136.0 218.4,158.7 215.7,172.0 C 213.0,185.3 197.0,192.0 191.7,212.0 C 186.4,232.0 183.7,273.3 183.7,292.0 C 183.7,310.7 191.7,309.3 191.7,324.0 C 191.7,338.7 195.7,369.3 183.7,380.0 C 171.7,390.7 133.7,394.7 119.7,388.0 C 105.7,381.3 103.7,369.3 99.7,340.0 C 95.7,310.7 96.1,244.0 95.7,212.0 C 95.3,180.0 78.6,161.3 97.3,148.0 Z" fill="none" stroke="#888" stroke-width="5.3" stroke-linejoin="round" stroke-linecap="round" opacity="0.85" filter="url(#zb0)"/>
<path d="M 112.7,176.0 C 126.7,166.0 180.7,161.0 195.5,164.0 C 210.3,167.0 203.5,184.0 201.5,194.0 C 199.5,204.0 187.5,209.0 183.5,224.0 C 179.5,239.0 177.5,270.0 177.5,284.0 C 177.5,298.0 183.5,297.0 183.5,308.0 C 183.5,319.0 186.5,342.0 177.5,350.0 C 168.5,358.0 140.0,361.0 129.5,356.0 C 119.0,351.0 117.5,342.0 114.5,320.0 C 111.5,298.0 111.8,248.0 111.5,224.0 C 111.2,200.0 98.7,186.0 112.7,176.0 Z" fill="none" stroke="#959595" stroke-width="5.3" stroke-linejoin="round" stroke-linecap="round" opacity="0.85" filter="url(#zb0)"/>
<path d="M 225,108 C 214.2,108.3 179.5,107.2 160,110 C 140.5,112.8 119.3,116.7 108,125 C 96.7,133.3 95.7,139.2 92,160 C 88.3,180.8 86.3,221.7 86,250 C 85.7,278.3 86.8,306.7 90,330 C 93.2,353.3 98.3,376.7 105,390 C 111.7,403.3 118.3,406.7 130,410 C 141.7,413.3 164.2,414.2 175,410 C 185.8,405.8 191.7,389.2 195,385 " fill="none" stroke="#3c3c3c" stroke-width="34.3" stroke-linejoin="round" stroke-linecap="round" opacity="0.5" filter="url(#zb1)"/>
<path d="M 225,108 C 214.2,108.3 179.5,107.2 160,110 C 140.5,112.8 119.3,116.7 108,125 C 96.7,133.3 95.7,139.2 92,160 C 88.3,180.8 86.3,221.7 86,250 C 85.7,278.3 86.8,306.7 90,330 C 93.2,353.3 98.3,376.7 105,390 C 111.7,403.3 118.3,406.7 130,410 C 141.7,413.3 164.2,414.2 175,410 C 185.8,405.8 191.7,389.2 195,385 " fill="none" stroke="#3c3c3c" stroke-width="17.2" stroke-linejoin="round" stroke-linecap="round" opacity="1.0" filter="url(#zb0)"/>
<path d="M 150,170 C 150.0,185.0 148.3,233.3 150,260 C 151.7,286.7 158.3,318.3 160,330 " fill="none" stroke="#707070" stroke-width="27.5" stroke-linejoin="round" stroke-linecap="round" opacity="0.5" filter="url(#zb1)"/>
<path d="M 150,170 C 150.0,185.0 148.3,233.3 150,260 C 151.7,286.7 158.3,318.3 160,330 " fill="none" stroke="#707070" stroke-width="13.7" stroke-linejoin="round" stroke-linecap="round" opacity="1.0" filter="url(#zb0)"/>
<path d="M 240,340 C 248.3,341.7 276.7,343.3 290,350 C 303.3,356.7 318.3,371.7 320,380 C 321.7,388.3 313.3,396.7 300,400 C 286.7,403.3 250.0,400.0 240,400 " fill="none" stroke="#b0b0b0" stroke-width="18.3" stroke-linejoin="round" stroke-linecap="round" opacity="0.5" filter="url(#zb1)"/>
<path d="M 240,340 C 248.3,341.7 276.7,343.3 290,350 C 303.3,356.7 318.3,371.7 320,380 C 321.7,388.3 313.3,396.7 300,400 C 286.7,403.3 250.0,400.0 240,400 " fill="none" stroke="#b0b0b0" stroke-width="9.2" stroke-linejoin="round" stroke-linecap="round" opacity="1.0" filter="url(#zb0)"/>
<ellipse cx="150" cy="378" rx="25.2" ry="21.4" transform="rotate(0 150 378)" fill="#cfcfcf" stroke="#333" stroke-width="9.9" opacity="1.0" filter="url(#zb0)"/>
<path d="M 424.3,111.2 C 425.4,118.3 425.9,126.4 425.4,132.8 C 424.9,139.2 423.4,144.5 421.3,149.8 C 419.2,155.1 416.2,160.0 412.5,164.6 C 408.8,169.2 404.4,173.5 399.3,177.4 C 394.2,181.3 388.4,184.9 381.8,188.0 C 375.2,191.1 368.6,193.8 359.9,196.2 C 351.2,198.6 340.0,201.5 329.8,202.6 C 319.6,203.7 307.8,203.2 298.7,202.7 C 289.6,202.2 282.3,201.1 275.0,199.7 C 267.7,198.2 261.1,196.3 255.0,194.0 C 248.9,191.7 243.3,189.0 238.4,185.9 C 233.5,182.8 229.3,179.4 225.7,175.5 C 222.1,171.6 219.1,167.8 216.8,162.7 C 214.5,157.6 212.6,150.9 211.7,144.8 C 210.8,138.7 210.5,131.9 211.1,126.3 C 211.7,120.7 213.3,116.1 215.5,111.3 C 217.7,106.5 220.7,101.9 224.4,97.5 C 228.1,93.1 232.6,88.8 237.7,84.7 C 242.8,80.6 248.5,76.7 255.0,73.1 C 261.5,69.5 268.1,66.2 276.6,62.9 C 285.1,59.6 296.2,55.5 306.2,53.4 C 316.2,51.3 327.8,50.5 336.8,50.1 C 345.8,49.7 353.0,50.2 360.2,51.2 C 367.4,52.2 374.0,53.8 380.1,55.9 C 386.2,58.0 391.7,60.8 396.6,64.0 C 401.5,67.2 405.8,71.0 409.5,75.4 C 413.2,79.8 416.2,84.2 418.7,90.2 C 421.2,96.2 423.2,104.1 424.3,111.2 Z" fill="#acacac" stroke="none" stroke-width="0.0" stroke-linejoin="round" stroke-linecap="round" opacity="0.9" filter="url(#zb2)"/>
<path d="M 414.5,112.7 C 415.5,118.9 415.9,126.0 415.4,131.6 C 414.9,137.2 413.6,141.7 411.6,146.3 C 409.6,150.9 406.9,155.3 403.5,159.3 C 400.1,163.3 396.1,167.1 391.4,170.5 C 386.7,173.9 381.5,177.0 375.5,179.8 C 369.5,182.6 363.5,184.9 355.6,187.1 C 347.7,189.3 337.6,192.0 328.3,192.8 C 319.0,193.7 308.2,192.8 299.9,192.2 C 291.6,191.6 285.0,190.5 278.4,189.1 C 271.8,187.7 265.7,186.0 260.2,184.0 C 254.7,182.0 249.6,179.6 245.2,177.0 C 240.8,174.4 236.9,171.6 233.7,168.4 C 230.5,165.2 227.9,162.1 225.9,157.9 C 223.9,153.7 222.3,148.3 221.5,143.3 C 220.7,138.3 220.5,132.7 221.2,128.1 C 221.8,123.5 223.3,119.6 225.4,115.6 C 227.5,111.5 230.2,107.6 233.6,103.8 C 237.0,100.0 241.1,96.2 245.7,92.6 C 250.3,89.0 255.5,85.4 261.4,82.1 C 267.3,78.8 273.3,75.7 281.0,72.5 C 288.7,69.3 298.6,65.2 307.7,63.2 C 316.8,61.2 327.3,60.6 335.5,60.2 C 343.7,59.8 350.2,60.2 356.7,61.0 C 363.2,61.8 369.2,63.1 374.7,64.9 C 380.2,66.7 385.3,69.0 389.7,71.8 C 394.1,74.6 398.0,77.9 401.3,81.7 C 404.6,85.5 407.3,89.3 409.5,94.5 C 411.7,99.7 413.5,106.5 414.5,112.7 Z" fill="none" stroke="#7a7a7a" stroke-width="5.3" stroke-linejoin="round" stroke-linecap="round" opacity="0.8" filter="url(#zb0)"/>
<path d="M 406.9,113.9 C 407.8,119.4 408.2,125.6 407.7,130.6 C 407.2,135.5 405.9,139.5 404.0,143.6 C 402.1,147.7 399.7,151.6 396.6,155.2 C 393.5,158.8 389.7,162.1 385.4,165.2 C 381.1,168.2 376.2,171.0 370.7,173.5 C 365.2,176.0 359.6,178.0 352.3,180.0 C 345.0,182.0 335.7,184.6 327.1,185.3 C 318.5,186.0 308.5,184.8 300.8,184.1 C 293.1,183.4 287.0,182.3 280.9,181.0 C 274.8,179.7 269.3,178.1 264.2,176.3 C 259.1,174.5 254.4,172.4 250.4,170.2 C 246.4,168.0 242.9,165.6 240.0,162.9 C 237.1,160.2 234.7,157.7 232.9,154.2 C 231.1,150.7 229.8,146.2 229.1,142.1 C 228.4,138.0 228.3,133.3 229.0,129.4 C 229.7,125.5 231.1,122.4 233.0,118.9 C 234.9,115.5 237.5,112.1 240.7,108.7 C 243.8,105.3 247.6,102.0 251.9,98.7 C 256.2,95.4 261.0,92.2 266.4,89.1 C 271.8,86.0 277.2,83.1 284.3,80.0 C 291.4,76.9 300.5,72.7 308.9,70.7 C 317.3,68.7 327.0,68.3 334.5,67.9 C 342.0,67.5 348.0,67.8 354.0,68.5 C 360.0,69.2 365.6,70.2 370.6,71.8 C 375.7,73.4 380.2,75.5 384.3,77.9 C 388.4,80.4 392.0,83.2 395.0,86.5 C 398.0,89.8 400.5,93.2 402.5,97.8 C 404.5,102.4 406.0,108.4 406.9,113.9 Z" fill="#7c7c7c" stroke="#3a3a3a" stroke-width="9.6" stroke-linejoin="round" stroke-linecap="round" opacity="1.0" filter="url(#zb0)"/>
<path d="M 229.4,127.6 C 230.1,126.0 231.5,121.4 233.3,118.3 C 235.1,115.2 237.4,112.2 240.2,109.2 C 243.0,106.2 246.2,103.2 249.9,100.3 C 253.6,97.4 257.7,94.4 262.2,91.6 C 266.7,88.8 271.6,86.0 277.1,83.3 C 282.6,80.6 288.0,77.9 295.3,75.5 C 302.6,73.1 313.4,70.3 321.0,69.0 C 328.6,67.7 334.6,67.8 340.7,67.8 C 346.8,67.8 352.1,68.2 357.3,68.9 C 362.5,69.6 367.4,70.7 371.8,72.2 C 376.2,73.7 380.2,75.5 383.9,77.7 C 387.5,79.9 390.9,82.4 393.7,85.2 C 396.5,88.0 398.9,91.2 400.9,94.8 C 402.9,98.4 404.4,102.2 405.6,107.0 C 406.8,111.8 407.7,118.9 407.9,123.8 C 408.1,128.7 407.6,132.5 406.6,136.4 C 405.6,140.3 404.1,144.0 402.1,147.5 C 400.1,151.0 397.5,154.3 394.5,157.4 C 391.5,160.5 388.1,163.4 384.1,166.1 C 380.2,168.8 375.7,171.2 370.8,173.4 C 365.9,175.6 360.8,177.6 354.7,179.4 C 348.6,181.2 342.2,183.1 334.5,184.0 C 326.8,184.9 315.9,184.9 308.4,184.7 C 300.9,184.5 292.6,182.9 289.4,182.6 " fill="none" stroke="#0c0c0c" stroke-width="14.4" stroke-linejoin="round" stroke-linecap="round" opacity="1.0" filter="url(#zb0)"/>
<path d="M 235.2,115.5 C 236.3,114.2 239.3,110.1 241.9,107.4 C 244.5,104.7 247.6,102.1 250.9,99.5 C 254.2,96.9 257.9,94.3 261.9,91.8 C 265.9,89.3 270.3,86.7 275.1,84.3 C 279.9,81.9 284.4,79.6 290.6,77.3 C 296.9,75.0 305.7,71.8 312.6,70.2 C 319.5,68.7 326.3,68.4 332.2,68.0 C 338.1,67.6 343.2,67.7 348.2,68.0 C 353.2,68.3 357.9,68.8 362.3,69.7 C 366.7,70.6 370.8,71.8 374.6,73.2 C 378.4,74.7 381.9,76.4 385.1,78.4 C 388.3,80.4 391.2,82.7 393.7,85.2 C 396.2,87.7 398.4,90.5 400.3,93.6 C 402.2,96.7 403.6,99.8 404.8,104.0 C 406.0,108.2 407.1,114.5 407.6,119.0 C 408.1,123.5 408.1,127.3 407.6,131.1 C 407.2,134.9 406.2,138.3 404.9,141.6 C 403.6,144.9 401.9,148.0 399.8,151.0 C 397.7,154.0 395.2,156.8 392.3,159.5 C 389.4,162.2 386.1,164.8 382.5,167.1 C 378.9,169.4 374.9,171.5 370.5,173.5 C 366.1,175.5 361.5,177.3 356.3,178.9 C 351.1,180.5 346.0,182.2 339.1,183.2 C 332.2,184.2 319.1,184.8 315.1,185.1 " fill="none" stroke="#141414" stroke-width="8.2" stroke-linejoin="round" stroke-linecap="round" opacity="1.0"/>
<path d="M 391.0,117.6 C 391.6,121.3 391.8,125.5 391.4,128.9 C 391.0,132.3 390.0,135.1 388.6,137.9 C 387.2,140.7 385.3,143.3 383.0,145.8 C 380.7,148.3 377.8,150.6 374.6,152.7 C 371.4,154.8 367.8,156.8 363.7,158.5 C 359.6,160.2 355.5,161.8 350.1,163.2 C 344.7,164.6 337.8,166.4 331.4,166.9 C 325.0,167.4 317.7,166.8 312.0,166.4 C 306.3,166.0 301.8,165.3 297.3,164.5 C 292.8,163.7 288.7,162.6 285.0,161.4 C 281.3,160.2 277.9,158.9 274.9,157.4 C 271.9,155.9 269.3,154.3 267.2,152.5 C 265.1,150.7 263.4,148.9 262.1,146.6 C 260.8,144.2 259.8,141.2 259.4,138.4 C 258.9,135.6 258.9,132.4 259.4,129.8 C 259.9,127.2 261.0,125.0 262.5,122.6 C 264.0,120.2 265.9,117.9 268.3,115.6 C 270.7,113.3 273.4,111.0 276.6,108.7 C 279.8,106.4 283.4,104.1 287.4,101.9 C 291.4,99.7 295.5,97.7 300.8,95.6 C 306.1,93.5 312.8,90.5 319.0,89.1 C 325.2,87.6 332.4,87.2 338.0,86.9 C 343.6,86.6 348.0,86.7 352.4,87.1 C 356.8,87.5 360.9,88.2 364.6,89.2 C 368.3,90.2 371.6,91.6 374.6,93.2 C 377.6,94.8 380.3,96.8 382.5,99.0 C 384.7,101.2 386.5,103.6 387.9,106.7 C 389.3,109.8 390.4,113.9 391.0,117.6 Z" fill="none" stroke="#555" stroke-width="4.6" stroke-linejoin="round" stroke-linecap="round" opacity="0.9" filter="url(#zb0)"/>
<path d="M 377.7,120.7 C 378.1,123.1 378.2,125.8 377.9,128.0 C 377.6,130.2 376.9,132.1 375.9,133.9 C 374.9,135.7 373.6,137.4 371.9,139.0 C 370.2,140.6 368.2,142.2 365.9,143.6 C 363.6,145.0 361.1,146.3 358.2,147.5 C 355.3,148.7 352.4,149.7 348.6,150.6 C 344.8,151.5 339.9,152.8 335.5,153.2 C 331.1,153.6 325.9,153.2 321.9,153.0 C 317.9,152.8 314.8,152.4 311.6,151.9 C 308.5,151.4 305.6,150.7 303.0,150.0 C 300.4,149.3 298.1,148.4 296.0,147.5 C 293.9,146.6 292.1,145.6 290.6,144.4 C 289.1,143.2 288.0,142.1 287.1,140.6 C 286.2,139.1 285.6,137.1 285.3,135.3 C 285.0,133.5 285.0,131.4 285.4,129.7 C 285.8,128.0 286.6,126.5 287.6,125.0 C 288.7,123.5 290.0,121.9 291.7,120.4 C 293.4,118.9 295.4,117.4 297.6,115.9 C 299.9,114.4 302.4,112.9 305.2,111.4 C 308.0,110.0 311.0,108.6 314.7,107.2 C 318.4,105.8 323.1,103.8 327.5,102.8 C 331.9,101.8 336.9,101.5 340.8,101.2 C 344.7,100.9 347.8,101.0 350.9,101.2 C 354.0,101.4 356.8,101.9 359.4,102.5 C 362.0,103.1 364.4,104.0 366.5,105.0 C 368.6,106.0 370.4,107.3 371.9,108.7 C 373.4,110.1 374.6,111.6 375.6,113.6 C 376.6,115.6 377.3,118.3 377.7,120.7 Z" fill="#a2a2a2" stroke="#666" stroke-width="3.8" stroke-linejoin="round" stroke-linecap="round" opacity="0.9" filter="url(#zb0)"/>
<ellipse cx="340.5085" cy="128" rx="23.4" ry="9.3" transform="rotate(-9 340.5085 128)" fill="#dedede" stroke="none" stroke-width="0.0" opacity="0.95" filter="url(#zb1)"/>
</g></g>
<line x1="29.80" y1="0.00" x2="29.80" y2="60.10" stroke="#2a2a2a" stroke-width="0.9" />
<line x1="0.00" y1="31.80" x2="60.50" y2="31.80" stroke="#2a2a2a" stroke-width="0.9" />
<rect x="0" y="0" width="60.5" height="60.1" fill="none" stroke="#1a1a1a" stroke-width="1.3"/>
<text x="1.90" y="6.70" font-size="8.2" text-anchor="start" font-weight="normal" fill="#111" textLength="14.81" lengthAdjust="spacingAndGlyphs" stroke="#111" stroke-width="0.18">14%</text>
<text x="58.60" y="6.70" font-size="8.2" text-anchor="end" font-weight="normal" fill="#111" textLength="14.81" lengthAdjust="spacingAndGlyphs" stroke="#111" stroke-width="0.18">59%</text>
<text x="1.90" y="57.70" font-size="8.2" text-anchor="start" font-weight="normal" fill="#111" textLength="14.81" lengthAdjust="spacingAndGlyphs" stroke="#111" stroke-width="0.18">14%</text>
<text x="58.60" y="57.70" font-size="8.2" text-anchor="end" font-weight="normal" fill="#111" textLength="10.69" lengthAdjust="spacingAndGlyphs" stroke="#111" stroke-width="0.18">3%</text>
</g>
<g transform="translate(114.10,385.00)">
<clipPath id="cp21"><rect x="0" y="0" width="60.5" height="60.1"/></clipPath>
<g clip-path="url(#cp21)"><g transform="translate(-1.1,-2.0) scale(0.13106)">
<path d="M 80,110 C 100.8,75.0 163.3,95.0 200,90 C 236.7,85.0 270.0,78.3 300,80 C 330.0,81.7 365.0,80.0 380,100 C 395.0,120.0 398.3,178.3 390,200 C 381.7,221.7 353.3,218.3 330,230 C 306.7,241.7 255.0,245.0 250,270 C 245.0,295.0 295.0,355.0 300,380 C 305.0,405.0 315.0,410.0 280,420 C 245.0,430.0 124.2,460.0 90,440 C 55.8,420.0 76.7,355.0 75,300 C 73.3,245.0 59.2,145.0 80,110 Z" fill="#dadada" stroke="none" stroke-width="0.0" stroke-linejoin="round" stroke-linecap="round" opacity="1.0" filter="url(#zb2)"/>
<path d="M 80,110 C 100.8,75.0 163.3,95.0 200,90 C 236.7,85.0 270.0,78.3 300,80 C 330.0,81.7 365.0,80.0 380,100 C 395.0,120.0 398.3,178.3 390,200 C 381.7,221.7 353.3,218.3 330,230 C 306.7,241.7 255.0,245.0 250,270 C 245.0,295.0 295.0,355.0 300,380 C 305.0,405.0 315.0,410.0 280,420 C 245.0,430.0 124.2,460.0 90,440 C 55.8,420.0 76.7,355.0 75,300 C 73.3,245.0 59.2,145.0 80,110 Z" fill="none" stroke="#c4c4c4" stroke-width="4.6" stroke-linejoin="round" stroke-linecap="round" opacity="0.7" filter="url(#zb0)"/>
<path d="M 85,120 C 106.7,86.7 192.5,95.0 215,100 C 237.5,105.0 225.8,138.3 220,150 C 214.2,161.7 189.2,145.0 180,170 C 170.8,195.0 166.7,258.3 165,300 C 163.3,341.7 180.8,398.3 170,420 C 159.2,441.7 114.2,450.0 100,430 C 85.8,410.0 87.5,351.7 85,300 C 82.5,248.3 63.3,153.3 85,120 Z" fill="#ababab" stroke="none" stroke-width="0.0" stroke-linejoin="round" stroke-linecap="round" opacity="1.0" filter="url(#zb1)"/>
<path d="M 85.0,120.0 C 106.7,86.7 192.5,95.0 215.0,100.0 C 237.5,105.0 225.8,138.3 220.0,150.0 C 214.2,161.7 189.2,145.0 180.0,170.0 C 170.8,195.0 166.7,258.3 165.0,300.0 C 163.3,341.7 180.8,398.3 170.0,420.0 C 159.2,441.7 114.2,450.0 100.0,430.0 C 85.8,410.0 87.5,351.7 85.0,300.0 C 82.5,248.3 63.3,153.3 85.0,120.0 Z" fill="none" stroke="#7a7a7a" stroke-width="5.3" stroke-linejoin="round" stroke-linecap="round" opacity="0.85" filter="url(#zb0)"/>
<path d="M 98.5,145.8 C 115.8,119.1 184.5,125.8 202.5,129.8 C 220.5,133.8 211.2,160.5 206.5,169.8 C 201.8,179.1 181.8,165.8 174.5,185.8 C 167.2,205.8 163.8,256.5 162.5,289.8 C 161.2,323.1 175.2,368.5 166.5,385.8 C 157.8,403.1 121.8,409.8 110.5,393.8 C 99.2,377.8 100.5,331.1 98.5,289.8 C 96.5,248.5 81.2,172.5 98.5,145.8 Z" fill="none" stroke="#888" stroke-width="5.3" stroke-linejoin="round" stroke-linecap="round" opacity="0.85" filter="url(#zb0)"/>
<path d="M 112.0,171.5 C 125.0,151.5 176.5,156.5 190.0,159.5 C 203.5,162.5 196.5,182.5 193.0,189.5 C 189.5,196.5 174.5,186.5 169.0,201.5 C 163.5,216.5 161.0,254.5 160.0,279.5 C 159.0,304.5 169.5,338.5 163.0,351.5 C 156.5,364.5 129.5,369.5 121.0,357.5 C 112.5,345.5 113.5,310.5 112.0,279.5 C 110.5,248.5 99.0,191.5 112.0,171.5 Z" fill="none" stroke="#959595" stroke-width="5.3" stroke-linejoin="round" stroke-linecap="round" opacity="0.85" filter="url(#zb0)"/>
<path d="M 215,112 C 204.2,112.2 168.3,110.8 150,113 C 131.7,115.2 114.5,117.2 105,125 C 95.5,132.8 95.5,137.5 93,160 C 90.5,182.5 90.2,226.7 90,260 C 89.8,293.3 90.3,333.3 92,360 C 93.7,386.7 98.7,410.0 100,420 " fill="none" stroke="#3c3c3c" stroke-width="34.3" stroke-linejoin="round" stroke-linecap="round" opacity="0.5" filter="url(#zb1)"/>
<path d="M 215,112 C 204.2,112.2 168.3,110.8 150,113 C 131.7,115.2 114.5,117.2 105,125 C 95.5,132.8 95.5,137.5 93,160 C 90.5,182.5 90.2,226.7 90,260 C 89.8,293.3 90.3,333.3 92,360 C 93.7,386.7 98.7,410.0 100,420 " fill="none" stroke="#3c3c3c" stroke-width="17.2" stroke-linejoin="round" stroke-linecap="round" opacity="1.0" filter="url(#zb0)"/>
<path d="M 150,150 C 149.2,168.3 146.7,225.0 145,260 C 143.3,295.0 139.2,333.3 140,360 C 140.8,386.7 148.3,410.0 150,420 " fill="none" stroke="#555" stroke-width="32.0" stroke-linejoin="round" stroke-linecap="round" opacity="0.5" filter="url(#zb1)"/>
<path d="M 150,150 C 149.2,168.3 146.7,225.0 145,260 C 143.3,295.0 139.2,333.3 140,360 C 140.8,386.7 148.3,410.0 150,420 " fill="none" stroke="#555" stroke-width="16.0" stroke-linejoin="round" stroke-linecap="round" opacity="1.0" filter="url(#zb0)"/>
<path d="M 230,300 C 238.3,308.3 269.2,335.0 280,350 C 290.8,365.0 296.7,380.0 295,390 C 293.3,400.0 274.2,406.7 270,410 " fill="none" stroke="#b0b0b0" stroke-width="18.3" stroke-linejoin="round" stroke-linecap="round" opacity="0.5" filter="url(#zb1)"/>
<path d="M 230,300 C 238.3,308.3 269.2,335.0 280,350 C 290.8,365.0 296.7,380.0 295,390 C 293.3,400.0 274.2,406.7 270,410 " fill="none" stroke="#b0b0b0" stroke-width="9.2" stroke-linejoin="round" stroke-linecap="round" opacity="1.0" filter="url(#zb0)"/>
<path d="M 391.1,170.5 C 389.4,176.8 386.9,183.6 384.1,188.7 C 381.3,193.8 378.1,197.5 374.4,201.1 C 370.6,204.7 366.4,207.6 361.6,210.0 C 356.8,212.4 351.5,214.3 345.8,215.6 C 340.1,216.9 333.9,217.7 327.3,217.8 C 320.7,218.0 314.1,217.7 306.0,216.5 C 297.9,215.3 287.3,213.5 278.4,210.6 C 269.5,207.7 259.9,203.0 252.4,199.2 C 245.0,195.4 239.3,191.8 233.7,187.9 C 228.1,184.0 223.3,179.9 219.0,175.8 C 214.7,171.7 211.0,167.4 208.1,163.1 C 205.2,158.8 202.9,154.4 201.3,149.9 C 199.7,145.4 198.7,141.2 198.6,136.1 C 198.5,131.0 199.5,124.8 200.9,119.5 C 202.3,114.2 204.6,108.4 207.2,104.1 C 209.8,99.8 212.8,96.5 216.4,93.4 C 220.0,90.3 224.3,87.7 229.0,85.4 C 233.7,83.1 238.9,81.2 244.7,79.8 C 250.4,78.3 256.7,77.3 263.5,76.7 C 270.3,76.1 276.9,75.8 285.3,76.3 C 293.7,76.8 304.4,77.4 313.6,79.4 C 322.8,81.4 332.8,85.1 340.4,88.1 C 348.0,91.1 353.8,94.1 359.5,97.6 C 365.2,101.0 370.1,104.8 374.4,108.8 C 378.7,112.8 382.4,117.0 385.3,121.5 C 388.2,126.0 390.4,130.7 391.9,135.6 C 393.4,140.5 394.2,145.4 394.1,151.2 C 394.0,157.0 392.8,164.2 391.1,170.5 Z" fill="#acacac" stroke="none" stroke-width="0.0" stroke-linejoin="round" stroke-linecap="round" opacity="0.9" filter="url(#zb2)"/>
<path d="M 381.5,167.9 C 380.1,173.2 377.8,179.1 375.4,183.4 C 373.0,187.7 370.2,190.9 366.9,193.9 C 363.6,196.9 359.8,199.4 355.5,201.4 C 351.2,203.4 346.5,205.0 341.4,206.1 C 336.3,207.2 330.8,207.8 324.9,207.8 C 318.9,207.9 313.0,207.5 305.7,206.4 C 298.4,205.3 289.0,203.7 281.0,201.0 C 273.0,198.3 264.4,193.7 257.7,190.2 C 251.0,186.7 246.0,183.3 241.0,179.8 C 236.0,176.3 231.7,172.6 227.8,169.0 C 224.0,165.4 220.6,161.7 217.9,158.0 C 215.2,154.3 213.0,150.6 211.5,146.8 C 210.0,143.0 209.0,139.5 208.8,135.4 C 208.6,131.3 209.3,126.4 210.5,122.1 C 211.7,117.8 213.5,113.2 215.7,109.7 C 217.9,106.2 220.5,103.7 223.7,101.2 C 226.9,98.7 230.6,96.6 234.8,94.7 C 239.0,92.8 243.7,91.3 248.9,90.1 C 254.1,88.9 259.7,87.9 265.8,87.3 C 271.9,86.7 277.9,86.4 285.4,86.7 C 292.9,87.0 302.7,87.3 311.0,89.0 C 319.3,90.7 328.2,94.0 335.1,96.7 C 342.0,99.4 347.3,102.1 352.4,105.1 C 357.5,108.1 362.0,111.3 365.9,114.8 C 369.8,118.3 373.1,122.0 375.8,125.9 C 378.5,129.8 380.5,133.8 381.9,138.1 C 383.3,142.3 384.1,146.4 384.0,151.4 C 383.9,156.4 382.9,162.6 381.5,167.9 Z" fill="none" stroke="#7a7a7a" stroke-width="5.3" stroke-linejoin="round" stroke-linecap="round" opacity="0.8" filter="url(#zb0)"/>
<path d="M 374.1,165.9 C 372.9,170.5 371.0,175.7 368.8,179.4 C 366.6,183.2 364.1,185.8 361.1,188.4 C 358.1,191.0 354.6,193.2 350.8,194.9 C 347.0,196.6 342.7,197.8 338.1,198.7 C 333.5,199.5 328.4,200.0 323.0,200.0 C 317.6,200.0 312.3,199.7 305.6,198.6 C 298.9,197.5 290.3,196.2 283.0,193.6 C 275.7,191.0 267.9,186.5 261.8,183.2 C 255.7,179.9 251.2,176.8 246.6,173.6 C 242.0,170.4 238.0,167.1 234.5,163.8 C 231.0,160.6 227.9,157.3 225.4,154.1 C 222.9,150.9 220.9,147.7 219.4,144.5 C 217.9,141.3 216.9,138.4 216.7,135.0 C 216.4,131.6 217.0,127.6 217.9,124.1 C 218.8,120.6 220.4,116.8 222.3,114.0 C 224.2,111.2 226.6,109.1 229.4,107.1 C 232.2,105.1 235.6,103.3 239.4,101.8 C 243.2,100.3 247.4,99.0 252.1,97.9 C 256.8,96.9 261.9,96.0 267.5,95.5 C 273.1,95.0 278.6,94.6 285.5,94.8 C 292.4,95.0 301.4,95.0 309.0,96.4 C 316.6,97.8 324.8,101.0 331.1,103.4 C 337.4,105.8 342.2,108.1 346.9,110.8 C 351.6,113.5 355.7,116.4 359.3,119.5 C 362.9,122.6 365.9,125.8 368.4,129.2 C 370.9,132.6 372.8,136.2 374.1,139.9 C 375.4,143.6 376.2,147.3 376.2,151.6 C 376.2,155.9 375.3,161.3 374.1,165.9 Z" fill="#7c7c7c" stroke="#3a3a3a" stroke-width="11.2" stroke-linejoin="round" stroke-linecap="round" opacity="1.0" filter="url(#zb0)"/>
<path d="M 223.3,112.7 C 224.4,111.7 227.3,108.6 229.9,106.8 C 232.5,105.0 235.5,103.5 238.8,102.1 C 242.1,100.7 245.8,99.5 249.9,98.5 C 254.0,97.5 258.4,96.6 263.1,96.0 C 267.9,95.4 272.9,95.0 278.4,94.9 C 283.9,94.8 289.3,94.5 296.2,95.2 C 303.1,96.0 312.9,97.7 319.6,99.4 C 326.3,101.1 331.2,103.3 336.2,105.5 C 341.2,107.7 345.5,110.0 349.5,112.4 C 353.5,114.9 357.1,117.5 360.2,120.2 C 363.3,123.0 366.0,125.9 368.2,128.9 C 370.4,131.9 372.2,135.1 373.5,138.4 C 374.8,141.7 375.7,145.0 376.0,148.6 C 376.3,152.2 376.3,155.8 375.5,160.0 C 374.7,164.2 373.0,170.2 371.4,174.1 C 369.8,178.0 368.0,180.8 365.8,183.6 C 363.6,186.4 361.0,188.8 358.1,190.8 C 355.2,192.9 352.0,194.5 348.4,195.9 C 344.8,197.3 340.9,198.3 336.7,199.0 C 332.5,199.7 328.0,200.0 323.2,200.0 C 318.4,200.0 313.4,199.7 307.8,198.9 C 302.2,198.1 296.2,197.4 289.5,195.3 C 282.8,193.2 273.9,189.4 267.8,186.5 C 261.7,183.6 255.4,179.3 252.9,177.9 " fill="none" stroke="#0c0c0c" stroke-width="16.8" stroke-linejoin="round" stroke-linecap="round" opacity="1.0" filter="url(#zb0)"/>
<path d="M 232.4,105.2 C 233.8,104.5 237.7,102.4 240.8,101.2 C 243.9,100.0 247.3,99.1 251.0,98.2 C 254.7,97.3 258.7,96.6 262.9,96.1 C 267.1,95.5 271.5,95.1 276.3,94.9 C 281.1,94.7 285.6,94.6 291.6,95.0 C 297.6,95.4 306.1,95.9 312.3,97.2 C 318.6,98.5 324.1,100.7 329.1,102.6 C 334.1,104.5 338.3,106.4 342.3,108.4 C 346.3,110.4 350.0,112.5 353.3,114.8 C 356.6,117.1 359.5,119.6 362.1,122.1 C 364.7,124.6 367.0,127.2 368.9,129.9 C 370.8,132.6 372.3,135.5 373.5,138.4 C 374.7,141.3 375.5,144.2 375.9,147.4 C 376.3,150.6 376.4,153.5 375.9,157.3 C 375.4,161.1 374.1,166.4 372.9,170.2 C 371.7,173.9 370.2,177.0 368.5,179.8 C 366.8,182.6 364.9,184.9 362.6,187.1 C 360.4,189.3 357.8,191.2 355.0,192.8 C 352.2,194.4 349.1,195.7 345.8,196.8 C 342.5,197.9 338.9,198.7 335.1,199.2 C 331.3,199.7 327.2,200.0 322.9,200.0 C 318.6,200.0 314.2,199.7 309.3,199.1 C 304.4,198.5 299.6,198.0 293.6,196.3 C 287.6,194.7 276.6,190.4 273.2,189.2 " fill="none" stroke="#141414" stroke-width="9.6" stroke-linejoin="round" stroke-linecap="round" opacity="1.0"/>
<path d="M 360.3,160.5 C 359.4,163.7 358.1,167.1 356.5,169.6 C 354.9,172.1 353.1,174.0 351.0,175.7 C 348.9,177.4 346.4,178.8 343.6,179.9 C 340.8,181.0 337.6,181.9 334.2,182.4 C 330.8,182.9 327.2,183.1 323.2,183.0 C 319.2,182.9 315.2,182.6 310.3,181.8 C 305.4,181.0 299.0,180.0 293.6,178.1 C 288.2,176.2 282.4,173.0 277.9,170.6 C 273.4,168.2 269.9,166.1 266.5,163.8 C 263.1,161.5 260.1,159.3 257.5,157.0 C 254.8,154.7 252.5,152.4 250.6,150.2 C 248.7,147.9 247.2,145.7 246.1,143.5 C 245.0,141.3 244.2,139.3 244.0,137.0 C 243.8,134.7 244.1,131.9 244.7,129.5 C 245.3,127.1 246.4,124.6 247.8,122.7 C 249.2,120.8 250.8,119.4 252.9,118.1 C 255.0,116.8 257.3,115.6 260.1,114.6 C 262.9,113.6 266.1,112.8 269.5,112.2 C 272.9,111.6 276.7,111.0 280.8,110.7 C 284.9,110.4 288.9,110.3 294.0,110.5 C 299.1,110.7 305.7,110.8 311.3,111.9 C 316.9,113.0 323.0,115.2 327.7,117.0 C 332.4,118.8 335.9,120.5 339.4,122.4 C 342.9,124.3 346.0,126.3 348.7,128.5 C 351.4,130.7 353.6,132.9 355.5,135.3 C 357.4,137.7 358.9,140.1 359.9,142.7 C 360.9,145.3 361.5,147.7 361.6,150.7 C 361.7,153.7 361.2,157.3 360.3,160.5 Z" fill="none" stroke="#555" stroke-width="4.6" stroke-linejoin="round" stroke-linecap="round" opacity="0.9" filter="url(#zb0)"/>
<path d="M 348.8,155.9 C 348.3,158.0 347.4,160.2 346.3,161.8 C 345.2,163.4 344.0,164.6 342.5,165.7 C 341.0,166.8 339.3,167.6 337.4,168.3 C 335.5,169.0 333.3,169.5 330.9,169.8 C 328.5,170.1 325.9,170.1 323.1,170.0 C 320.3,169.9 317.6,169.7 314.1,169.1 C 310.7,168.5 306.2,167.7 302.4,166.4 C 298.6,165.1 294.5,162.9 291.3,161.3 C 288.1,159.7 285.7,158.2 283.3,156.7 C 280.9,155.2 278.7,153.7 276.8,152.2 C 274.9,150.7 273.4,149.1 272.0,147.6 C 270.6,146.1 269.5,144.6 268.7,143.2 C 267.9,141.8 267.3,140.5 267.1,139.0 C 266.9,137.5 267.1,135.7 267.5,134.1 C 267.9,132.5 268.7,130.9 269.6,129.7 C 270.5,128.5 271.7,127.6 273.1,126.8 C 274.5,126.0 276.2,125.2 278.1,124.6 C 280.0,124.0 282.2,123.6 284.6,123.2 C 287.0,122.8 289.6,122.5 292.5,122.4 C 295.4,122.3 298.1,122.2 301.7,122.4 C 305.3,122.6 309.9,122.8 313.9,123.6 C 317.8,124.4 322.1,126.0 325.4,127.2 C 328.7,128.4 331.1,129.5 333.6,130.8 C 336.1,132.1 338.3,133.5 340.2,134.9 C 342.1,136.3 343.8,137.8 345.1,139.4 C 346.4,141.0 347.5,142.6 348.2,144.3 C 348.9,146.0 349.4,147.6 349.5,149.5 C 349.6,151.4 349.3,153.8 348.8,155.9 Z" fill="#a2a2a2" stroke="#666" stroke-width="3.8" stroke-linejoin="round" stroke-linecap="round" opacity="0.9" filter="url(#zb0)"/>
<ellipse cx="316.2195" cy="145" rx="21.0" ry="8.1" transform="rotate(15 316.2195 145)" fill="#dedede" stroke="none" stroke-width="0.0" opacity="0.95" filter="url(#zb1)"/>
</g></g>
<line x1="29.80" y1="0.00" x2="29.80" y2="60.10" stroke="#2a2a2a" stroke-width="0.9" />
<line x1="0.00" y1="31.80" x2="60.50" y2="31.80" stroke="#2a2a2a" stroke-width="0.9" />
<rect x="0" y="0" width="60.5" height="60.1" fill="none" stroke="#1a1a1a" stroke-width="1.3"/>
<text x="1.90" y="6.70" font-size="8.2" text-anchor="start" font-weight="normal" fill="#111" textLength="14.81" lengthAdjust="spacingAndGlyphs" stroke="#111" stroke-width="0.18">26%</text>
<text x="58.60" y="6.70" font-size="8.2" text-anchor="end" font-weight="normal" fill="#111" textLength="14.81" lengthAdjust="spacingAndGlyphs" stroke="#111" stroke-width="0.18">50%</text>
<text x="1.90" y="57.70" font-size="8.2" text-anchor="start" font-weight="normal" fill="#111" textLength="14.81" lengthAdjust="spacingAndGlyphs" stroke="#111" stroke-width="0.18">21%</text>
<text x="58.60" y="57.70" font-size="8.2" text-anchor="end" font-weight="normal" fill="#111" textLength="10.69" lengthAdjust="spacingAndGlyphs" stroke="#111" stroke-width="0.18">3%</text>
</g>
<g transform="translate(178.60,385.00)">
<clipPath id="cp22"><rect x="0" y="0" width="60.5" height="60.1"/></clipPath>
<g clip-path="url(#cp22)"><g transform="translate(-0.6,-2.0) scale(0.13106)">
<path d="M 85,120 C 105.0,86.7 164.2,105.8 200,100 C 235.8,94.2 263.3,87.5 300,85 C 336.7,82.5 396.7,65.8 420,85 C 443.3,104.2 443.3,172.5 440,200 C 436.7,227.5 423.3,238.3 400,250 C 376.7,261.7 325.0,256.7 300,270 C 275.0,283.3 260.0,305.0 250,330 C 240.0,355.0 265.0,403.3 240,420 C 215.0,436.7 126.7,450.0 100,430 C 73.3,410.0 82.5,351.7 80,300 C 77.5,248.3 65.0,153.3 85,120 Z" fill="#dadada" stroke="none" stroke-width="0.0" stroke-linejoin="round" stroke-linecap="round" opacity="1.0" filter="url(#zb2)"/>
<path d="M 85,120 C 105.0,86.7 164.2,105.8 200,100 C 235.8,94.2 263.3,87.5 300,85 C 336.7,82.5 396.7,65.8 420,85 C 443.3,104.2 443.3,172.5 440,200 C 436.7,227.5 423.3,238.3 400,250 C 376.7,261.7 325.0,256.7 300,270 C 275.0,283.3 260.0,305.0 250,330 C 240.0,355.0 265.0,403.3 240,420 C 215.0,436.7 126.7,450.0 100,430 C 73.3,410.0 82.5,351.7 80,300 C 77.5,248.3 65.0,153.3 85,120 Z" fill="none" stroke="#c4c4c4" stroke-width="4.6" stroke-linejoin="round" stroke-linecap="round" opacity="0.7" filter="url(#zb0)"/>
<path d="M 90,130 C 114.5,100.0 210.8,100.0 235,120 C 259.2,140.0 239.2,220.0 235,250 C 230.8,280.0 215.8,273.3 210,300 C 204.2,326.7 216.7,390.0 200,410 C 183.3,430.0 128.7,438.3 110,420 C 91.3,401.7 91.3,348.3 88,300 C 84.7,251.7 65.5,160.0 90,130 Z" fill="#bababa" stroke="none" stroke-width="0.0" stroke-linejoin="round" stroke-linecap="round" opacity="1.0" filter="url(#zb1)"/>
<path d="M 90.0,130.0 C 114.5,100.0 210.8,100.0 235.0,120.0 C 259.2,140.0 239.2,220.0 235.0,250.0 C 230.8,280.0 215.8,273.3 210.0,300.0 C 204.2,326.7 216.7,390.0 200.0,410.0 C 183.3,430.0 128.7,438.3 110.0,420.0 C 91.3,401.7 91.3,348.3 88.0,300.0 C 84.7,251.7 65.5,160.0 90.0,130.0 Z" fill="none" stroke="#7a7a7a" stroke-width="5.3" stroke-linejoin="round" stroke-linecap="round" opacity="0.85" filter="url(#zb0)"/>
<path d="M 105.4,159.1 C 125.0,135.1 202.1,135.1 221.4,151.1 C 240.7,167.1 224.7,231.1 221.4,255.1 C 218.1,279.1 206.1,273.8 201.4,295.1 C 196.7,316.4 206.7,367.1 193.4,383.1 C 180.1,399.1 136.3,405.8 121.4,391.1 C 106.5,376.4 106.5,333.8 103.8,295.1 C 101.1,256.4 85.8,183.1 105.4,159.1 Z" fill="none" stroke="#888" stroke-width="5.3" stroke-linejoin="round" stroke-linecap="round" opacity="0.85" filter="url(#zb0)"/>
<path d="M 120.7,188.3 C 135.4,170.3 193.2,170.3 207.7,182.3 C 222.2,194.3 210.2,242.3 207.7,260.3 C 205.2,278.3 196.2,274.3 192.7,290.3 C 189.2,306.3 196.7,344.3 186.7,356.3 C 176.7,368.3 143.9,373.3 132.7,362.3 C 121.5,351.3 121.5,319.3 119.5,290.3 C 117.5,261.3 106.0,206.3 120.7,188.3 Z" fill="none" stroke="#959595" stroke-width="5.3" stroke-linejoin="round" stroke-linecap="round" opacity="0.85" filter="url(#zb0)"/>
<path d="M 235,135 C 222.5,135.0 180.8,133.3 160,135 C 139.2,136.7 120.3,138.3 110,145 C 99.7,151.7 100.5,155.8 98,175 C 95.5,194.2 94.7,232.5 95,260 C 95.3,287.5 97.5,316.7 100,340 C 102.5,363.3 108.3,390.0 110,400 " fill="none" stroke="#4e4e4e" stroke-width="29.8" stroke-linejoin="round" stroke-linecap="round" opacity="0.5" filter="url(#zb1)"/>
<path d="M 235,135 C 222.5,135.0 180.8,133.3 160,135 C 139.2,136.7 120.3,138.3 110,145 C 99.7,151.7 100.5,155.8 98,175 C 95.5,194.2 94.7,232.5 95,260 C 95.3,287.5 97.5,316.7 100,340 C 102.5,363.3 108.3,390.0 110,400 " fill="none" stroke="#4e4e4e" stroke-width="14.9" stroke-linejoin="round" stroke-linecap="round" opacity="1.0" filter="url(#zb0)"/>
<path d="M 160,180 C 160.8,196.7 162.5,246.7 165,280 C 167.5,313.3 173.3,363.3 175,380 " fill="none" stroke="#9a9a9a" stroke-width="22.9" stroke-linejoin="round" stroke-linecap="round" opacity="0.5" filter="url(#zb1)"/>
<path d="M 160,180 C 160.8,196.7 162.5,246.7 165,280 C 167.5,313.3 173.3,363.3 175,380 " fill="none" stroke="#9a9a9a" stroke-width="11.4" stroke-linejoin="round" stroke-linecap="round" opacity="1.0" filter="url(#zb0)"/>
<path d="M 435.6,168.9 C 435.3,177.0 434.2,186.2 432.4,193.2 C 430.6,200.2 428.1,205.7 424.9,211.1 C 421.7,216.5 417.7,221.5 413.1,225.8 C 408.5,230.2 403.1,234.0 397.2,237.2 C 391.2,240.4 384.6,243.1 377.4,245.2 C 370.1,247.3 362.9,248.8 353.7,249.7 C 344.5,250.6 332.5,251.4 322.0,250.4 C 311.5,249.4 299.7,246.4 290.6,243.9 C 281.5,241.4 274.4,238.7 267.3,235.5 C 260.2,232.3 253.9,228.8 248.2,224.9 C 242.5,221.1 237.5,216.9 233.2,212.4 C 228.9,207.9 225.3,203.3 222.4,198.2 C 219.5,193.1 217.3,188.2 216.0,182.0 C 214.7,175.8 214.2,168.0 214.4,161.1 C 214.7,154.2 215.8,146.5 217.5,140.4 C 219.2,134.3 221.7,129.6 224.9,124.7 C 228.1,119.8 232.1,115.4 236.7,111.3 C 241.3,107.2 246.7,103.4 252.6,99.9 C 258.6,96.5 265.1,93.3 272.4,90.6 C 279.7,87.9 286.9,85.7 296.2,83.9 C 305.5,82.1 317.4,79.8 328.0,79.6 C 338.6,79.4 350.4,81.0 359.5,82.5 C 368.6,84.0 375.8,86.0 382.9,88.6 C 390.0,91.2 396.3,94.3 402.0,98.0 C 407.7,101.7 412.8,105.8 417.1,110.5 C 421.4,115.2 425.1,120.3 427.9,126.0 C 430.7,131.7 432.8,137.2 434.1,144.4 C 435.4,151.6 435.9,160.8 435.6,168.9 Z" fill="#acacac" stroke="none" stroke-width="0.0" stroke-linejoin="round" stroke-linecap="round" opacity="0.9" filter="url(#zb2)"/>
<path d="M 425.7,168.5 C 425.4,175.7 424.4,183.8 422.8,190.0 C 421.2,196.2 418.9,201.1 416.0,205.9 C 413.1,210.7 409.4,215.0 405.2,218.8 C 401.0,222.6 396.2,226.0 390.8,228.9 C 385.4,231.8 379.4,234.2 372.8,236.0 C 366.2,237.8 359.6,239.2 351.2,239.9 C 342.8,240.7 332.0,241.5 322.4,240.5 C 312.8,239.5 302.1,236.2 293.8,233.7 C 285.5,231.2 279.0,228.6 272.6,225.6 C 266.2,222.6 260.4,219.3 255.2,215.8 C 250.0,212.3 245.4,208.7 241.5,204.8 C 237.6,200.9 234.2,196.8 231.6,192.5 C 229.0,188.2 227.0,184.1 225.8,178.9 C 224.6,173.7 224.1,167.3 224.3,161.5 C 224.5,155.7 225.5,149.3 227.1,144.2 C 228.7,139.1 230.9,135.1 233.8,131.0 C 236.7,126.9 240.3,123.1 244.5,119.5 C 248.7,115.9 253.6,112.5 259.0,109.4 C 264.4,106.3 270.4,103.4 277.0,100.9 C 283.6,98.4 290.3,96.2 298.7,94.3 C 307.1,92.4 318.0,89.9 327.6,89.5 C 337.2,89.1 348.1,90.8 356.4,92.1 C 364.7,93.4 371.2,95.2 377.6,97.5 C 384.0,99.8 389.8,102.7 395.0,105.9 C 400.2,109.1 404.9,112.8 408.8,116.9 C 412.7,121.0 416.0,125.6 418.6,130.6 C 421.2,135.6 423.1,140.6 424.3,146.9 C 425.5,153.2 425.9,161.3 425.7,168.5 Z" fill="none" stroke="#7a7a7a" stroke-width="5.3" stroke-linejoin="round" stroke-linecap="round" opacity="0.8" filter="url(#zb0)"/>
<path d="M 418.0,168.2 C 417.8,174.7 416.9,182.0 415.4,187.6 C 413.9,193.2 411.8,197.5 409.1,201.8 C 406.4,206.1 403.1,210.0 399.2,213.4 C 395.3,216.8 390.8,219.9 385.8,222.5 C 380.8,225.1 375.3,227.2 369.2,228.8 C 363.1,230.5 357.1,231.7 349.3,232.4 C 341.5,233.1 331.4,234.0 322.6,232.9 C 313.8,231.8 304.0,228.3 296.3,225.8 C 288.6,223.3 282.6,220.6 276.7,217.8 C 270.8,215.0 265.4,212.0 260.6,208.8 C 255.8,205.6 251.5,202.2 247.9,198.8 C 244.3,195.4 241.2,191.8 238.8,188.1 C 236.4,184.4 234.5,180.9 233.4,176.5 C 232.3,172.1 231.8,166.7 232.0,161.8 C 232.2,156.9 233.0,151.5 234.4,147.2 C 235.8,142.9 237.9,139.4 240.6,135.9 C 243.3,132.4 246.6,129.1 250.5,125.9 C 254.4,122.7 258.9,119.7 263.9,116.9 C 268.9,114.1 274.4,111.3 280.5,108.9 C 286.6,106.5 292.8,104.4 300.6,102.4 C 308.4,100.4 318.5,97.6 327.4,97.1 C 336.3,96.6 346.2,98.3 353.9,99.5 C 361.6,100.7 367.6,102.3 373.6,104.4 C 379.6,106.5 384.9,109.0 389.7,111.9 C 394.5,114.8 398.8,118.2 402.4,121.9 C 406.0,125.6 409.1,129.6 411.5,134.1 C 413.9,138.6 415.7,143.1 416.8,148.8 C 417.9,154.5 418.2,161.7 418.0,168.2 Z" fill="#727272" stroke="#3a3a3a" stroke-width="10.7" stroke-linejoin="round" stroke-linecap="round" opacity="1.0" filter="url(#zb0)"/>
<path d="M 235.2,145.2 C 236.2,143.5 238.6,138.4 241.1,135.3 C 243.6,132.2 246.5,129.2 249.9,126.4 C 253.3,123.6 257.2,120.8 261.5,118.2 C 265.8,115.6 270.5,113.2 275.7,110.9 C 280.9,108.7 286.5,106.6 292.6,104.7 C 298.8,102.8 304.7,100.8 312.6,99.6 C 320.5,98.4 332.1,97.6 340.0,97.8 C 347.9,98.0 354.0,99.4 360.1,100.7 C 366.2,102.0 371.7,103.6 376.8,105.6 C 381.9,107.6 386.6,109.9 390.8,112.6 C 395.0,115.2 398.7,118.2 402.0,121.5 C 405.3,124.8 408.1,128.4 410.4,132.3 C 412.7,136.2 414.5,140.3 415.8,144.9 C 417.1,149.5 417.9,154.2 418.1,160.0 C 418.3,165.8 417.9,174.1 417.1,179.8 C 416.3,185.5 415.0,189.7 413.2,194.0 C 411.4,198.3 409.1,202.2 406.3,205.8 C 403.6,209.4 400.4,212.6 396.7,215.5 C 393.0,218.4 388.9,221.0 384.3,223.2 C 379.8,225.4 374.8,227.3 369.4,228.8 C 364.0,230.3 358.3,231.4 351.8,232.1 C 345.3,232.8 338.4,233.8 330.4,233.1 C 322.4,232.4 311.4,230.0 303.8,228.1 C 296.2,226.2 288.0,222.6 284.9,221.5 " fill="none" stroke="#0c0c0c" stroke-width="16.0" stroke-linejoin="round" stroke-linecap="round" opacity="1.0" filter="url(#zb0)"/>
<path d="M 243.5,132.5 C 244.9,131.2 248.8,127.2 252.0,124.7 C 255.2,122.2 258.8,119.8 262.7,117.5 C 266.6,115.2 270.8,113.0 275.4,111.0 C 280.0,109.0 284.9,107.1 290.3,105.4 C 295.7,103.7 300.7,102.1 307.5,100.7 C 314.3,99.3 323.9,97.6 331.2,97.3 C 338.5,97.0 345.4,98.2 351.5,99.1 C 357.6,100.0 362.8,101.2 367.8,102.6 C 372.8,104.0 377.4,105.7 381.7,107.7 C 386.0,109.7 389.9,111.9 393.5,114.4 C 397.1,116.9 400.3,119.6 403.1,122.6 C 405.9,125.6 408.3,128.8 410.4,132.3 C 412.4,135.8 414.1,139.4 415.4,143.4 C 416.6,147.4 417.5,151.2 417.9,156.4 C 418.3,161.6 418.1,169.0 417.7,174.3 C 417.2,179.6 416.4,184.0 415.2,188.2 C 414.0,192.4 412.4,196.1 410.4,199.6 C 408.4,203.1 406.0,206.4 403.3,209.4 C 400.6,212.4 397.4,215.1 394.0,217.5 C 390.6,219.9 386.8,222.2 382.6,224.1 C 378.5,226.0 374.0,227.6 369.1,228.9 C 364.2,230.2 359.1,231.2 353.5,231.9 C 347.9,232.6 342.4,233.4 335.2,233.1 C 328.0,232.8 314.6,230.5 310.5,230.0 " fill="none" stroke="#141414" stroke-width="9.2" stroke-linejoin="round" stroke-linecap="round" opacity="1.0"/>
<path d="M 401.3,167.4 C 401.1,171.8 400.5,176.7 399.4,180.5 C 398.3,184.3 396.8,187.3 394.8,190.2 C 392.8,193.1 390.3,195.8 387.4,198.1 C 384.5,200.4 381.3,202.5 377.6,204.2 C 373.9,205.9 369.8,207.4 365.3,208.5 C 360.8,209.6 356.2,210.5 350.5,210.9 C 344.8,211.3 337.3,211.9 330.8,211.1 C 324.3,210.3 317.0,208.0 311.3,206.3 C 305.6,204.6 301.2,202.8 296.8,200.8 C 292.4,198.9 288.4,196.8 284.9,194.6 C 281.3,192.4 278.2,190.2 275.5,187.8 C 272.8,185.5 270.5,183.0 268.7,180.5 C 266.9,178.0 265.5,175.6 264.7,172.6 C 263.9,169.6 263.5,165.9 263.6,162.6 C 263.7,159.3 264.3,155.6 265.4,152.7 C 266.5,149.8 268.0,147.5 270.0,145.1 C 272.0,142.7 274.3,140.5 277.2,138.3 C 280.1,136.1 283.4,134.0 287.1,132.1 C 290.8,130.2 294.9,128.4 299.4,126.8 C 303.9,125.2 308.4,123.7 314.2,122.4 C 320.0,121.1 327.5,119.2 334.1,118.9 C 340.7,118.6 348.0,119.7 353.7,120.5 C 359.4,121.3 363.9,122.5 368.3,123.9 C 372.7,125.3 376.6,127.0 380.2,129.0 C 383.8,131.0 386.9,133.3 389.6,135.8 C 392.3,138.3 394.6,141.1 396.4,144.2 C 398.2,147.3 399.5,150.3 400.3,154.2 C 401.1,158.1 401.5,163.0 401.3,167.4 Z" fill="none" stroke="#555" stroke-width="4.6" stroke-linejoin="round" stroke-linecap="round" opacity="0.9" filter="url(#zb0)"/>
<path d="M 387.3,166.7 C 387.2,169.5 386.8,172.8 386.0,175.2 C 385.2,177.6 384.2,179.5 382.8,181.4 C 381.4,183.3 379.7,185.0 377.7,186.5 C 375.7,188.0 373.3,189.4 370.7,190.5 C 368.1,191.6 365.2,192.5 362.1,193.2 C 359.0,193.9 355.8,194.4 351.8,194.7 C 347.8,195.0 342.5,195.4 337.9,194.9 C 333.3,194.4 328.2,192.8 324.2,191.7 C 320.2,190.6 317.1,189.4 314.0,188.1 C 310.9,186.8 308.1,185.5 305.6,184.1 C 303.1,182.7 300.9,181.2 299.0,179.7 C 297.1,178.2 295.5,176.6 294.2,174.9 C 292.9,173.2 292.0,171.7 291.4,169.8 C 290.8,167.9 290.5,165.5 290.6,163.3 C 290.7,161.2 291.1,158.8 291.8,156.9 C 292.5,155.0 293.6,153.6 295.0,152.0 C 296.4,150.4 298.1,149.0 300.1,147.6 C 302.1,146.2 304.4,144.8 307.0,143.6 C 309.6,142.4 312.5,141.2 315.7,140.2 C 318.9,139.2 322.1,138.2 326.1,137.4 C 330.2,136.6 335.4,135.3 340.0,135.1 C 344.6,134.9 349.8,135.6 353.8,136.2 C 357.8,136.8 360.9,137.6 364.0,138.5 C 367.1,139.4 369.9,140.5 372.4,141.8 C 374.9,143.1 377.2,144.5 379.1,146.2 C 381.0,147.8 382.6,149.7 383.8,151.7 C 385.1,153.7 386.0,155.6 386.6,158.1 C 387.2,160.6 387.4,163.8 387.3,166.7 Z" fill="#a2a2a2" stroke="#666" stroke-width="3.8" stroke-linejoin="round" stroke-linecap="round" opacity="0.9" filter="url(#zb0)"/>
<ellipse cx="348.2715" cy="165" rx="24.2" ry="10.9" transform="rotate(2 348.2715 165)" fill="#dedede" stroke="none" stroke-width="0.0" opacity="0.95" filter="url(#zb1)"/>
</g></g>
<line x1="29.80" y1="0.00" x2="29.80" y2="60.10" stroke="#2a2a2a" stroke-width="0.9" />
<line x1="0.00" y1="31.80" x2="60.50" y2="31.80" stroke="#2a2a2a" stroke-width="0.9" />
<rect x="0" y="0" width="60.5" height="60.1" fill="none" stroke="#1a1a1a" stroke-width="1.3"/>
<text x="1.90" y="6.70" font-size="8.2" text-anchor="start" font-weight="normal" fill="#111" textLength="14.81" lengthAdjust="spacingAndGlyphs" stroke="#111" stroke-width="0.18">14%</text>
<text x="58.60" y="6.70" font-size="8.2" text-anchor="end" font-weight="normal" fill="#111" textLength="14.81" lengthAdjust="spacingAndGlyphs" stroke="#111" stroke-width="0.18">59%</text>
<text x="1.90" y="57.70" font-size="8.2" text-anchor="start" font-weight="normal" fill="#111" textLength="14.81" lengthAdjust="spacingAndGlyphs" stroke="#111" stroke-width="0.18">12%</text>
<text x="58.60" y="57.70" font-size="8.2" text-anchor="end" font-weight="normal" fill="#111" textLength="10.69" lengthAdjust="spacingAndGlyphs" stroke="#111" stroke-width="0.18">2%</text>
</g>
<g transform="translate(243.20,385.00)">
<clipPath id="cp23"><rect x="0" y="0" width="60.5" height="60.1"/></clipPath>
<g clip-path="url(#cp23)"><g transform="translate(-1.2,-2.0) scale(0.13106)">
<path d="M 90,120 C 108.7,85.0 158.3,94.2 200,90 C 241.7,85.8 308.3,85.0 340,95 C 371.7,105.0 384.2,126.7 390,150 C 395.8,173.3 396.7,216.3 375,235 C 353.3,253.7 286.7,254.5 260,262 C 233.3,269.5 224.2,253.7 215,280 C 205.8,306.3 224.2,394.7 205,420 C 185.8,445.3 119.5,452.0 100,432 C 80.5,412.0 89.7,352.0 88,300 C 86.3,248.0 71.3,155.0 90,120 Z" fill="#dedede" stroke="none" stroke-width="0.0" stroke-linejoin="round" stroke-linecap="round" opacity="1.0" filter="url(#zb2)"/>
<path d="M 95,130 C 112.3,97.5 181.7,85.0 200,105 C 218.3,125.0 203.7,212.5 205,250 C 206.3,287.5 209.7,303.3 208,330 C 206.3,356.7 211.3,395.0 195,410 C 178.7,425.0 126.5,438.3 110,420 C 93.5,401.7 98.5,348.3 96,300 C 93.5,251.7 77.7,162.5 95,130 Z" fill="#b6b6b6" stroke="none" stroke-width="0.0" stroke-linejoin="round" stroke-linecap="round" opacity="1.0" filter="url(#zb1)"/>
<path d="M 379.1,176.9 C 378.9,183.6 377.6,191.0 375.3,197.0 C 373.1,203.0 369.8,207.9 365.6,212.7 C 361.4,217.4 356.2,221.7 350.2,225.5 C 344.2,229.3 337.1,232.8 329.4,235.6 C 321.7,238.4 313.2,240.8 303.9,242.6 C 294.6,244.4 285.0,245.7 273.6,246.4 C 262.2,247.1 248.1,247.1 235.4,246.7 C 222.7,246.3 208.6,245.3 197.3,243.8 C 186.0,242.3 176.6,240.4 167.4,237.9 C 158.2,235.4 149.8,232.5 142.3,229.1 C 134.8,225.7 128.1,221.8 122.4,217.6 C 116.7,213.4 111.8,208.7 107.9,203.7 C 104.1,198.7 101.1,193.5 99.3,187.4 C 97.5,181.3 96.7,173.8 96.9,167.1 C 97.1,160.4 98.5,153.0 100.7,147.0 C 103.0,141.0 106.2,136.1 110.4,131.3 C 114.6,126.6 119.8,122.3 125.8,118.5 C 131.8,114.7 138.9,111.2 146.6,108.4 C 154.3,105.6 162.8,103.2 172.1,101.4 C 181.4,99.6 191.0,98.3 202.4,97.6 C 213.8,96.9 227.9,96.9 240.6,97.3 C 253.3,97.7 267.4,98.7 278.7,100.2 C 290.0,101.7 299.4,103.6 308.6,106.1 C 317.8,108.5 326.2,111.5 333.7,114.9 C 341.2,118.3 347.9,122.2 353.6,126.4 C 359.3,130.6 364.2,135.3 368.1,140.3 C 372.0,145.3 374.9,150.5 376.7,156.6 C 378.5,162.7 379.3,170.2 379.1,176.9 Z" fill="#a0a0a0" stroke="none" stroke-width="0.0" stroke-linejoin="round" stroke-linecap="round" opacity="0.9" filter="url(#zb2)"/>
<path d="M 369.2,176.6 C 369.0,182.5 367.8,189.0 365.7,194.2 C 363.6,199.4 360.6,203.7 356.7,207.9 C 352.8,212.1 348.0,215.8 342.4,219.2 C 336.8,222.5 330.3,225.5 323.1,228.0 C 315.9,230.5 308.0,232.5 299.4,234.1 C 290.8,235.7 281.9,236.8 271.3,237.4 C 260.7,238.0 247.5,238.0 235.7,237.6 C 223.9,237.2 210.8,236.2 200.3,234.9 C 189.8,233.6 181.0,231.9 172.5,229.7 C 164.0,227.5 156.2,224.9 149.2,221.9 C 142.2,218.9 135.9,215.5 130.6,211.8 C 125.2,208.1 120.7,203.9 117.1,199.5 C 113.5,195.1 110.8,190.7 109.1,185.3 C 107.4,180.0 106.6,173.3 106.8,167.4 C 107.0,161.5 108.2,155.0 110.3,149.8 C 112.4,144.6 115.4,140.3 119.3,136.1 C 123.2,131.9 128.0,128.2 133.6,124.8 C 139.2,121.5 145.7,118.5 152.9,116.0 C 160.1,113.5 168.0,111.5 176.6,109.9 C 185.2,108.3 194.1,107.2 204.7,106.6 C 215.3,106.0 228.5,106.0 240.3,106.4 C 252.1,106.8 265.2,107.8 275.7,109.1 C 286.2,110.4 295.0,112.1 303.5,114.3 C 312.0,116.5 319.8,119.1 326.8,122.1 C 333.8,125.1 340.0,128.5 345.4,132.2 C 350.8,135.9 355.3,140.1 358.9,144.5 C 362.5,148.9 365.2,153.3 366.9,158.7 C 368.6,164.0 369.4,170.7 369.2,176.6 Z" fill="#747474" stroke="none" stroke-width="0.0" stroke-linejoin="round" stroke-linecap="round" opacity="1.0" filter="url(#zb0)"/>
<path d="M 112,245 C 110.7,235.8 103.0,208.3 104,190 C 105.0,171.7 102.0,148.7 118,135 C 134.0,121.3 169.7,112.2 200,108 C 230.3,103.8 274.7,105.5 300,110 C 325.3,114.5 341.7,124.2 352,135 C 362.3,145.8 363.2,162.2 362,175 C 360.8,187.8 358.7,202.0 345,212 C 331.3,222.0 304.2,230.3 280,235 C 255.8,239.7 221.7,239.5 200,240 C 178.3,240.5 158.3,238.3 150,238 " fill="none" stroke="#1c1c1c" stroke-width="14.5" stroke-linejoin="round" stroke-linecap="round" opacity="1.0" filter="url(#zb0)"/>
<path d="M 140,210 C 141.7,200.0 135.0,163.7 150,150 C 165.0,136.3 203.3,130.5 230,128 C 256.7,125.5 293.3,128.0 310,135 C 326.7,142.0 331.7,158.3 330,170 C 328.3,181.7 318.3,197.5 300,205 C 281.7,212.5 243.3,213.8 220,215 C 196.7,216.2 170.0,212.5 160,212 " fill="none" stroke="#3c3c3c" stroke-width="7.6" stroke-linejoin="round" stroke-linecap="round" opacity="0.9" filter="url(#zb0)"/>
<ellipse cx="240" cy="172" rx="68.7" ry="27.5" transform="rotate(3 240 172)" fill="#a8a8a8" stroke="none" stroke-width="0.0" opacity="1.0" filter="url(#zb1)"/>
<ellipse cx="222" cy="170" rx="24.4" ry="9.2" transform="rotate(0 222 170)" fill="#f4f4f4" stroke="none" stroke-width="0.0" opacity="1.0" filter="url(#zb0)"/>
<path d="M 112,250 C 111.3,261.7 108.0,298.3 108,320 C 108.0,341.7 108.3,365.0 112,380 C 115.7,395.0 127.0,405.0 130,410 " fill="none" stroke="#666" stroke-width="9.9" stroke-linejoin="round" stroke-linecap="round" opacity="1.0" filter="url(#zb0)"/>
<path d="M 180,255 C 179.7,265.8 179.7,299.2 178,320 C 176.3,340.8 174.7,365.0 170,380 C 165.3,395.0 153.3,405.0 150,410 " fill="none" stroke="#7a7a7a" stroke-width="8.4" stroke-linejoin="round" stroke-linecap="round" opacity="1.0" filter="url(#zb0)"/>
<ellipse cx="138" cy="372" rx="25.9" ry="35.1" transform="rotate(0 138 372)" fill="#bdbdbd" stroke="#262626" stroke-width="10.7" opacity="1.0" filter="url(#zb0)"/>
<path d="M 128,260 C 128.3,270.0 129.0,306.7 130,320 C 131.0,333.3 133.3,336.7 134,340 " fill="none" stroke="#9a9a9a" stroke-width="6.1" stroke-linejoin="round" stroke-linecap="round" opacity="1.0" filter="url(#zb0)"/>
</g></g>
<line x1="29.80" y1="0.00" x2="29.80" y2="60.10" stroke="#2a2a2a" stroke-width="0.9" />
<line x1="0.00" y1="31.80" x2="60.50" y2="31.80" stroke="#2a2a2a" stroke-width="0.9" />
<rect x="0" y="0" width="60.5" height="60.1" fill="none" stroke="#1a1a1a" stroke-width="1.3"/>
<text x="1.90" y="6.70" font-size="8.2" text-anchor="start" font-weight="normal" fill="#111" textLength="14.81" lengthAdjust="spacingAndGlyphs" stroke="#111" stroke-width="0.18">49%</text>
<text x="58.60" y="6.70" font-size="8.2" text-anchor="end" font-weight="normal" fill="#111" textLength="14.81" lengthAdjust="spacingAndGlyphs" stroke="#111" stroke-width="0.18">34%</text>
<text x="1.90" y="57.70" font-size="8.2" text-anchor="start" font-weight="normal" fill="#111" textLength="14.81" lengthAdjust="spacingAndGlyphs" stroke="#111" stroke-width="0.18">17%</text>
<text x="58.60" y="57.70" font-size="8.2" text-anchor="end" font-weight="normal" fill="#111" textLength="10.69" lengthAdjust="spacingAndGlyphs" stroke="#111" stroke-width="0.18">1%</text>
</g>
<line x1="43.40" y1="451.00" x2="43.40" y2="257.00" stroke="#000" stroke-width="1.5" />
<path d="M 40.0 257.8 L 43.4 251.8 L 46.8 257.8 Z" fill="#000"/>
<line x1="42.70" y1="451.00" x2="304.00" y2="451.00" stroke="#000" stroke-width="1.5" />
<path d="M 303.0 447.7 L 309.0 451.0 L 303.0 454.3 Z" fill="#000"/>
<text transform="translate(38.00,270.50) rotate(-90)" x="0" y="0" font-size="7.8" text-anchor="middle" font-weight="normal" fill="#151515" textLength="19.0" lengthAdjust="spacingAndGlyphs">CCR7</text>
<text x="271.00" y="460.70" font-size="7.5" text-anchor="start" font-weight="normal" fill="#151515" textLength="30.3" lengthAdjust="spacingAndGlyphs" >CD45RA</text>
<text x="308.00" y="290.80" font-size="8.0" text-anchor="start" font-weight="normal" fill="#151515" textLength="20.0" lengthAdjust="spacingAndGlyphs" >Day 3</text>
<text x="308.00" y="353.40" font-size="8.0" text-anchor="start" font-weight="normal" fill="#151515" textLength="20.0" lengthAdjust="spacingAndGlyphs" >Day 7</text>
<text x="308.00" y="418.80" font-size="8.0" text-anchor="start" font-weight="normal" fill="#151515" textLength="24.4" lengthAdjust="spacingAndGlyphs" >Day 13</text>
<text x="357.00" y="220.20" font-size="10.9" text-anchor="start" font-weight="bold" fill="#111" textLength="8.6" lengthAdjust="spacingAndGlyphs" stroke="#111" stroke-width="0.45">D</text>
<text x="436.20" y="233.60" font-size="8.4" text-anchor="middle" font-weight="bold" fill="#111" textLength="56.0" lengthAdjust="spacingAndGlyphs" >Memory T cells</text>
<rect x="390.30" y="292.80" width="16.2" height="39.80" fill="#e28c99"/>
<rect x="415.30" y="292.60" width="16.2" height="40.00" fill="#e28c99"/>
<rect x="440.20" y="286.90" width="16.2" height="45.70" fill="#e28c99"/>
<rect x="465.50" y="274.20" width="16.2" height="58.40" fill="#e28c99"/>
<line x1="385.60" y1="246.90" x2="385.60" y2="333.20" stroke="#111" stroke-width="1.3" />
<line x1="385.00" y1="332.60" x2="485.80" y2="332.60" stroke="#111" stroke-width="1.3" />
<line x1="382.60" y1="332.60" x2="385.60" y2="332.60" stroke="#111" stroke-width="1.0" />
<text x="379.30" y="336.10" font-size="8.3" text-anchor="end" font-weight="normal" fill="#151515" textLength="4.14" lengthAdjust="spacingAndGlyphs" >0</text>
<line x1="382.60" y1="315.56" x2="385.60" y2="315.56" stroke="#111" stroke-width="1.0" />
<text x="379.30" y="319.06" font-size="8.3" text-anchor="end" font-weight="normal" fill="#151515" textLength="8.28" lengthAdjust="spacingAndGlyphs" >20</text>
<line x1="382.60" y1="298.52" x2="385.60" y2="298.52" stroke="#111" stroke-width="1.0" />
<text x="379.30" y="302.02" font-size="8.3" text-anchor="end" font-weight="normal" fill="#151515" textLength="8.28" lengthAdjust="spacingAndGlyphs" >40</text>
<line x1="382.60" y1="281.48" x2="385.60" y2="281.48" stroke="#111" stroke-width="1.0" />
<text x="379.30" y="284.98" font-size="8.3" text-anchor="end" font-weight="normal" fill="#151515" textLength="8.28" lengthAdjust="spacingAndGlyphs" >60</text>
<line x1="382.60" y1="264.44" x2="385.60" y2="264.44" stroke="#111" stroke-width="1.0" />
<text x="379.30" y="267.94" font-size="8.3" text-anchor="end" font-weight="normal" fill="#151515" textLength="8.28" lengthAdjust="spacingAndGlyphs" >80</text>
<line x1="382.60" y1="247.40" x2="385.60" y2="247.40" stroke="#111" stroke-width="1.0" />
<text x="379.30" y="250.90" font-size="8.3" text-anchor="end" font-weight="normal" fill="#151515" textLength="12.43" lengthAdjust="spacingAndGlyphs" >100</text>
<line x1="398.40" y1="332.60" x2="398.40" y2="335.40" stroke="#111" stroke-width="0.9" />
<line x1="423.40" y1="332.60" x2="423.40" y2="335.40" stroke="#111" stroke-width="0.9" />
<line x1="448.30" y1="332.60" x2="448.30" y2="335.40" stroke="#111" stroke-width="0.9" />
<line x1="473.60" y1="332.60" x2="473.60" y2="335.40" stroke="#111" stroke-width="0.9" />
<polyline points="398.30,268.60 398.30,243.00 475.80,243.00 475.80,254.60" fill="none" stroke="#6f6f6f" stroke-width="0.9"/>
<polyline points="423.40,266.40 423.40,248.70 474.10,248.70 474.10,254.60" fill="none" stroke="#6f6f6f" stroke-width="0.9"/>
<polyline points="448.20,261.20 448.20,254.00 472.40,254.00 472.40,254.60" fill="none" stroke="#6f6f6f" stroke-width="0.9"/>
<polygon points="436.10,238.25 436.44,238.93 437.19,239.04 436.65,239.58 436.78,240.33 436.10,239.97 435.42,240.33 435.55,239.58 435.01,239.04 435.76,238.93" fill="#1e1e1e" stroke="#1e1e1e" stroke-width="0.35" stroke-linejoin="round"/>
<polygon points="446.90,244.65 447.24,245.33 447.99,245.44 447.45,245.98 447.58,246.73 446.90,246.38 446.22,246.73 446.35,245.98 445.81,245.44 446.56,245.33" fill="#1e1e1e" stroke="#1e1e1e" stroke-width="0.35" stroke-linejoin="round"/>
<polygon points="450.20,244.65 450.54,245.33 451.29,245.44 450.75,245.98 450.88,246.73 450.20,246.38 449.52,246.73 449.65,245.98 449.11,245.44 449.86,245.33" fill="#1e1e1e" stroke="#1e1e1e" stroke-width="0.35" stroke-linejoin="round"/>
<polygon points="458.70,249.75 459.04,250.43 459.79,250.54 459.25,251.08 459.38,251.83 458.70,251.47 458.02,251.83 458.15,251.08 457.61,250.54 458.36,250.43" fill="#1e1e1e" stroke="#1e1e1e" stroke-width="0.35" stroke-linejoin="round"/>
<polygon points="462.00,249.75 462.34,250.43 463.09,250.54 462.55,251.08 462.68,251.83 462.00,251.47 461.32,251.83 461.45,251.08 460.91,250.54 461.66,250.43" fill="#1e1e1e" stroke="#1e1e1e" stroke-width="0.35" stroke-linejoin="round"/>
<line x1="398.40" y1="288.60" x2="398.40" y2="297.10" stroke="#333" stroke-width="0.8" />
<line x1="394.10" y1="288.60" x2="402.70" y2="288.60" stroke="#333" stroke-width="0.8" />
<line x1="394.10" y1="297.10" x2="402.70" y2="297.10" stroke="#333" stroke-width="0.8" />
<line x1="423.40" y1="286.90" x2="423.40" y2="296.40" stroke="#333" stroke-width="0.8" />
<line x1="419.10" y1="286.90" x2="427.70" y2="286.90" stroke="#333" stroke-width="0.8" />
<line x1="419.10" y1="296.40" x2="427.70" y2="296.40" stroke="#333" stroke-width="0.8" />
<line x1="448.30" y1="282.10" x2="448.30" y2="292.20" stroke="#333" stroke-width="0.8" />
<line x1="444.00" y1="282.10" x2="452.60" y2="282.10" stroke="#333" stroke-width="0.8" />
<line x1="444.00" y1="292.20" x2="452.60" y2="292.20" stroke="#333" stroke-width="0.8" />
<line x1="473.60" y1="268.80" x2="473.60" y2="278.30" stroke="#333" stroke-width="0.8" />
<line x1="469.30" y1="268.80" x2="477.90" y2="268.80" stroke="#333" stroke-width="0.8" />
<line x1="469.30" y1="278.30" x2="477.90" y2="278.30" stroke="#333" stroke-width="0.8" />
<circle cx="398.40" cy="272.10" r="1.8" fill="#c8001c" stroke="#1a0003" stroke-width="0.7"/>
<circle cx="398.40" cy="276.30" r="1.8" fill="#c8001c" stroke="#1a0003" stroke-width="0.7"/>
<circle cx="398.40" cy="290.10" r="1.8" fill="#c8001c" stroke="#1a0003" stroke-width="0.7"/>
<circle cx="394.80" cy="293.70" r="1.8" fill="#c8001c" stroke="#1a0003" stroke-width="0.7"/>
<circle cx="401.80" cy="295.40" r="1.8" fill="#c8001c" stroke="#1a0003" stroke-width="0.7"/>
<circle cx="398.40" cy="303.20" r="1.8" fill="#c8001c" stroke="#1a0003" stroke-width="0.7"/>
<circle cx="391.60" cy="306.00" r="1.8" fill="#c8001c" stroke="#1a0003" stroke-width="0.7"/>
<circle cx="405.00" cy="305.30" r="1.8" fill="#c8001c" stroke="#1a0003" stroke-width="0.7"/>
<circle cx="419.80" cy="272.10" r="1.8" fill="#c8001c" stroke="#1a0003" stroke-width="0.7"/>
<circle cx="427.00" cy="269.60" r="1.8" fill="#c8001c" stroke="#1a0003" stroke-width="0.7"/>
<circle cx="419.80" cy="293.90" r="1.8" fill="#c8001c" stroke="#1a0003" stroke-width="0.7"/>
<circle cx="427.00" cy="293.90" r="1.8" fill="#c8001c" stroke="#1a0003" stroke-width="0.7"/>
<circle cx="419.80" cy="298.10" r="1.8" fill="#c8001c" stroke="#1a0003" stroke-width="0.7"/>
<circle cx="427.00" cy="298.10" r="1.8" fill="#c8001c" stroke="#1a0003" stroke-width="0.7"/>
<circle cx="419.80" cy="304.30" r="1.8" fill="#c8001c" stroke="#1a0003" stroke-width="0.7"/>
<circle cx="427.00" cy="304.30" r="1.8" fill="#c8001c" stroke="#1a0003" stroke-width="0.7"/>
<circle cx="448.10" cy="264.80" r="1.8" fill="#c8001c" stroke="#1a0003" stroke-width="0.7"/>
<circle cx="444.90" cy="278.90" r="1.8" fill="#c8001c" stroke="#1a0003" stroke-width="0.7"/>
<circle cx="451.90" cy="279.30" r="1.8" fill="#c8001c" stroke="#1a0003" stroke-width="0.7"/>
<circle cx="444.90" cy="286.90" r="1.8" fill="#c8001c" stroke="#1a0003" stroke-width="0.7"/>
<circle cx="451.90" cy="289.50" r="1.8" fill="#c8001c" stroke="#1a0003" stroke-width="0.7"/>
<circle cx="444.90" cy="292.40" r="1.8" fill="#c8001c" stroke="#1a0003" stroke-width="0.7"/>
<circle cx="451.90" cy="293.30" r="1.8" fill="#c8001c" stroke="#1a0003" stroke-width="0.7"/>
<circle cx="448.30" cy="306.00" r="1.8" fill="#c8001c" stroke="#1a0003" stroke-width="0.7"/>
<circle cx="473.50" cy="258.00" r="1.8" fill="#c8001c" stroke="#1a0003" stroke-width="0.7"/>
<circle cx="466.70" cy="263.30" r="1.8" fill="#c8001c" stroke="#1a0003" stroke-width="0.7"/>
<circle cx="471.40" cy="266.50" r="1.8" fill="#c8001c" stroke="#1a0003" stroke-width="0.7"/>
<circle cx="476.30" cy="263.70" r="1.8" fill="#c8001c" stroke="#1a0003" stroke-width="0.7"/>
<circle cx="480.30" cy="264.30" r="1.8" fill="#c8001c" stroke="#1a0003" stroke-width="0.7"/>
<circle cx="473.50" cy="287.30" r="1.8" fill="#c8001c" stroke="#1a0003" stroke-width="0.7"/>
<circle cx="471.00" cy="293.90" r="1.8" fill="#c8001c" stroke="#1a0003" stroke-width="0.7"/>
<circle cx="476.30" cy="291.80" r="1.8" fill="#c8001c" stroke="#1a0003" stroke-width="0.7"/>
<text transform="translate(363.00,289.50) rotate(-90)" x="0" y="0" font-size="9.0" text-anchor="middle" font-weight="normal" fill="#151515" textLength="55.5" lengthAdjust="spacingAndGlyphs">% memory T cells</text>
<text transform="translate(400.30,341.80) rotate(-45)" x="0" y="0" font-size="8.2" text-anchor="end" font-weight="normal" fill="#1a1a1a" textLength="32.0" lengthAdjust="spacingAndGlyphs">Ctrl-TCB</text>
<text transform="translate(425.30,341.80) rotate(-45)" x="0" y="0" font-size="8.2" text-anchor="end" font-weight="normal" fill="#1a1a1a" textLength="56.5" lengthAdjust="spacingAndGlyphs">Ctrl-TCB + Lena</text>
<text transform="translate(450.20,341.80) rotate(-45)" x="0" y="0" font-size="8.2" text-anchor="end" font-weight="normal" fill="#1a1a1a" textLength="37.5" lengthAdjust="spacingAndGlyphs">WT1-TCB*</text>
<text transform="translate(475.50,341.80) rotate(-45)" x="0" y="0" font-size="8.2" text-anchor="end" font-weight="normal" fill="#1a1a1a" textLength="64.5" lengthAdjust="spacingAndGlyphs">WT1-TCB* + Lena</text>
<rect x="0" y="0" width="1.1" height="473" fill="#000"/>
<rect x="0" y="0" width="520" height="1.1" fill="#000"/>
<rect x="518.6" y="0" width="1.4" height="473" fill="#000"/>
<rect x="0" y="471.6" width="520" height="1.4" fill="#000"/>
</svg>
</body></html>
